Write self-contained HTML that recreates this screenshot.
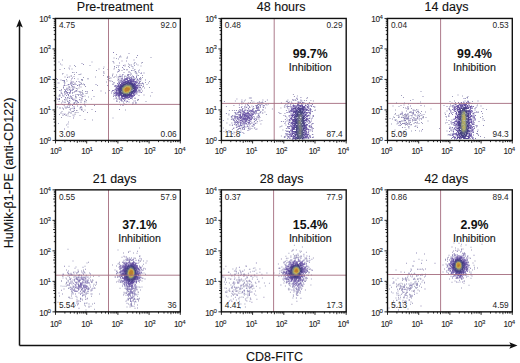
<!DOCTYPE html><html><head><meta charset="utf-8"><style>html,body{margin:0;padding:0;background:#fff}svg{display:block}</style></head><body>
<style>
text{font-family:"Liberation Sans",sans-serif}
.t{font-size:12.5px;fill:#111;stroke:#111;stroke-width:0.12px}
.q{font-size:8.3px;fill:#262626}
.b{font-size:12.3px;font-weight:bold;fill:#111}
.i{font-size:10.7px;fill:#1a1a1a;stroke:#1a1a1a;stroke-width:0.15px}
.k{font-size:8.2px;fill:#1e1e1e;stroke:#1e1e1e;stroke-width:0.1px;letter-spacing:-0.45px}
.s{font-size:6.1px;letter-spacing:0}
</style>
<svg width="520" height="363" viewBox="0 0 520 363" font-family='"Liberation Sans", sans-serif' fill="#222">
<defs><filter id="bl" x="-5%" y="-5%" width="110%" height="110%"><feGaussianBlur stdDeviation="0.6"/></filter></defs>
<rect width="520" height="363" fill="#fff"/>
<g filter="url(#bl)">
<path fill="#a0a0be" d="M137.5 99h1v1h-1zM135 102.4h1v1h-1zM140.5 79.4h1v1h-1zM107 85h1v1h-1zM137 100h1v1h-1zM113.5 98.4h1v1h-1zM140 79h1v1h-1zM135 71.4h1v1h-1zM103 75h1v1h-1zM103.5 66.4h1v1h-1zM135.5 71.4h1v1h-1zM107 77h1v1h-1zM116 58h1v1h-1zM129 67h1v1h-1zM120.5 56.4h1v1h-1zM134.5 69h1v1h-1zM140.5 65.4h1v1h-1zM109 78h1v1h-1zM126.5 58h1v1h-1zM125 109.4h1v1h-1zM135.5 103h1v1h-1zM116.5 76.4h1v1h-1zM112 74.4h1v1h-1zM110.5 77.4h1v1h-1zM146.5 84h1v1h-1zM118 69h1v1h-1zM112 75.4h1v1h-1zM142 62h1v1h-1zM116.5 65h1v1h-1zM120 104.4h1v1h-1zM119 70h1v1h-1zM120 55.4h1v1h-1zM150.5 57h1v1h-1zM118 58.4h1v1h-1zM112.5 117.4h1v1h-1zM126.5 57.4h1v1h-1zM135.5 73h1v1h-1zM139 69.4h1v1h-1zM91.5 61.4h1v1h-1zM145.5 101h1v1h-1zM103.5 73h1v1h-1zM134.5 62h1v1h-1zM134 65h1v1h-1zM129.5 64.4h1v1h-1zM139.5 78h1v1h-1zM118.5 69h1v1h-1zM107 76h1v1h-1zM145 82h1v1h-1zM114 67.4h1v1h-1zM113.5 57.4h1v1h-1zM150 95.4h1v1h-1zM108 62.4h1v1h-1zM106 81.4h1v1h-1zM134 62.4h1v1h-1zM149 87h1v1h-1zM127 56.4h1v1h-1zM128 63.4h1v1h-1zM132.5 68h1v1h-1zM132.5 66.4h1v1h-1zM113 61.4h1v1h-1zM148 82.4h1v1h-1zM133.5 63.4h1v1h-1zM103 71.4h1v1h-1zM149 81h1v1h-1zM107.5 69h1v1h-1zM138.5 72h1v1h-1zM80.5 73.4h1v1h-1zM80.5 106h1v1h-1zM79.5 74h1v1h-1zM66.5 87.4h1v1h-1zM62.5 115h1v1h-1zM76 72h1v1h-1zM79.5 115h1v1h-1zM64 81h1v1h-1zM71.5 68.4h1v1h-1zM56.5 87h1v1h-1zM85 91h1v1h-1zM62 80h1v1h-1zM79 84.4h1v1h-1zM66 107.4h1v1h-1zM73.5 84h1v1h-1zM69 68.4h1v1h-1zM65 107.4h1v1h-1zM63 108.4h1v1h-1zM73 103.4h1v1h-1zM81.5 92h1v1h-1zM58.5 101h1v1h-1zM66.5 74.4h1v1h-1zM67.5 76.4h1v1h-1zM91 98.4h1v1h-1zM64.5 99.4h1v1h-1zM75 66h1v1h-1zM82 79h1v1h-1zM64 104.4h1v1h-1zM64 68h1v1h-1zM83 83.4h1v1h-1zM66 79h1v1h-1zM61.5 111h1v1h-1zM79.5 84h1v1h-1zM85.5 93h1v1h-1zM96 70h1v1h-1zM85 86h1v1h-1zM64 80h1v1h-1zM74.5 87.4h1v1h-1zM77.5 78.4h1v1h-1zM75.5 96.4h1v1h-1zM72.5 86.4h1v1h-1zM87.5 78h1v1h-1zM86 100h1v1h-1zM70.5 113h1v1h-1zM77.5 112h1v1h-1zM81.5 80h1v1h-1zM85.5 101.4h1v1h-1zM60.5 112.4h1v1h-1zM77 101h1v1h-1zM73.5 72h1v1h-1zM97 85h1v1h-1zM78 95h1v1h-1zM62 73.4h1v1h-1zM64 91h1v1h-1zM70 104.4h1v1h-1zM81 98.4h1v1h-1zM81 109.4h1v1h-1zM95 76.4h1v1h-1zM74 65h1v1h-1zM74.5 104h1v1h-1zM70 83h1v1h-1zM61.5 64.4h1v1h-1zM88 96.4h1v1h-1zM84.5 100.4h1v1h-1zM68 121.4h1v1h-1zM62 59.4h1v1h-1zM84 102.4h1v1h-1zM83 77h1v1h-1zM68 104h1v1h-1zM63.5 81.4h1v1h-1zM72 111h1v1h-1zM73.5 109.4h1v1h-1zM67.5 126.4h1v1h-1zM82 90h1v1h-1zM84.5 109.4h1v1h-1zM68.5 107h1v1h-1zM72 72h1v1h-1zM89.5 65h1v1h-1zM57 106.4h1v1h-1zM82 80h1v1h-1zM57.5 99h1v1h-1zM70.5 82.4h1v1h-1zM58 123h1v1h-1zM82 109.4h1v1h-1zM74 102h1v1h-1zM66 124.4h1v1h-1zM82 92.4h1v1h-1zM80.5 82.4h1v1h-1zM71.5 83h1v1h-1zM79.5 108.4h1v1h-1zM77 88.4h1v1h-1zM68.5 92h1v1h-1zM92 119.4h1v1h-1zM64.5 82.4h1v1h-1zM75.5 84h1v1h-1zM76.5 110h1v1h-1zM82.5 93.4h1v1h-1z"/>
<path fill="#a09bbe" d="M125.5 76h1v1h-1zM112 81h1v1h-1zM142 77h1v1h-1zM131 64.4h1v1h-1zM108.5 76h1v1h-1zM136 63.4h1v1h-1zM116 54h1v1h-1zM135 100.4h1v1h-1zM143 83.4h1v1h-1zM109.5 80.4h1v1h-1zM130 72.4h1v1h-1zM72 92.4h1v1h-1zM71.5 98h1v1h-1zM85 99h1v1h-1zM76 81h1v1h-1zM74 110h1v1h-1zM67.5 115.4h1v1h-1zM57.5 82.4h1v1h-1zM70 83h1v1h-1zM56 97.4h1v1h-1zM56 78h1v1h-1zM65.5 85h1v1h-1zM87 91.4h1v1h-1z"/>
<path fill="#a09bb9" d="M119 101.4h1v1h-1zM123.5 103h1v1h-1zM142 86.4h1v1h-1zM141 62.4h1v1h-1zM129 64.4h1v1h-1zM137.5 64.4h1v1h-1zM128 66h1v1h-1zM123 68.4h1v1h-1zM103 68h1v1h-1zM138 75h1v1h-1zM98.5 68.4h1v1h-1zM126.5 69.4h1v1h-1zM121.5 70h1v1h-1zM136 57h1v1h-1zM114.5 76h1v1h-1zM142 75h1v1h-1zM68 112.4h1v1h-1zM66 114.4h1v1h-1zM72 86h1v1h-1zM71 111.4h1v1h-1zM81.5 91.4h1v1h-1zM83 111h1v1h-1zM74 74h1v1h-1zM74.5 91h1v1h-1zM69.5 116h1v1h-1zM74.5 112.4h1v1h-1zM71 75.4h1v1h-1zM61 117h1v1h-1zM74.5 114h1v1h-1zM78.5 74h1v1h-1zM69 102.4h1v1h-1zM62.5 95.4h1v1h-1zM76.5 94h1v1h-1zM59 114h1v1h-1zM61 102.4h1v1h-1zM76 110h1v1h-1zM73.5 76h1v1h-1zM75.5 112h1v1h-1zM60.5 112.4h1v1h-1zM61 89h1v1h-1zM77.5 104h1v1h-1zM59 107.4h1v1h-1zM64 89h1v1h-1zM62.5 73h1v1h-1zM62 100.4h1v1h-1zM60.5 92.4h1v1h-1zM72.5 92h1v1h-1zM86.5 93h1v1h-1zM71.5 89.4h1v1h-1zM68.5 104h1v1h-1zM66.5 80.4h1v1h-1z"/>
<path fill="#a096b9" d="M128 71.4h1v1h-1z"/>
<path fill="#9b96b9" d="M136.5 75h1v1h-1zM127 74.4h1v1h-1zM137.5 99.4h1v1h-1zM116 100.4h1v1h-1zM132 98.4h1v1h-1zM140.5 78h1v1h-1zM117.5 80h1v1h-1zM115.5 98h1v1h-1zM132.5 103h1v1h-1zM109 90h1v1h-1zM116 74.4h1v1h-1zM151.5 92h1v1h-1zM123.5 72h1v1h-1zM134.5 71.4h1v1h-1zM134 69.4h1v1h-1zM142 90.4h1v1h-1zM118.5 76.4h1v1h-1zM131 73.4h1v1h-1zM108 75.4h1v1h-1zM118.5 65h1v1h-1zM144 87.4h1v1h-1zM124 69h1v1h-1zM113.5 82.4h1v1h-1zM124.5 64.4h1v1h-1zM143 85.4h1v1h-1zM112.5 83.4h1v1h-1zM140 77h1v1h-1zM132 104h1v1h-1zM108 85.4h1v1h-1zM136.5 73.4h1v1h-1zM113.5 62.4h1v1h-1zM112.5 73.4h1v1h-1zM140 81h1v1h-1zM110.5 80.4h1v1h-1zM81 106.4h1v1h-1zM60 107.4h1v1h-1zM84.5 95.4h1v1h-1zM69 89h1v1h-1zM68 86.4h1v1h-1zM69 76.4h1v1h-1zM79.5 92h1v1h-1zM77 105.4h1v1h-1zM78.5 84.4h1v1h-1zM67 100.4h1v1h-1zM80.5 102h1v1h-1zM63 108.4h1v1h-1zM87.5 78.4h1v1h-1zM70.5 75.4h1v1h-1zM60.5 90.4h1v1h-1zM78.5 87.4h1v1h-1zM58.5 98.4h1v1h-1zM65.5 115h1v1h-1zM81.5 107.4h1v1h-1zM59 90h1v1h-1zM73 89h1v1h-1zM75 96h1v1h-1zM59 94.4h1v1h-1zM69.5 109h1v1h-1zM66 95h1v1h-1zM79.5 97h1v1h-1zM71 96.4h1v1h-1zM79.5 107.4h1v1h-1zM61.5 93h1v1h-1zM76 88h1v1h-1zM73.5 86h1v1h-1zM62 104h1v1h-1zM64 92h1v1h-1zM75 101.4h1v1h-1zM91.5 109h1v1h-1zM70.5 96h1v1h-1zM70.5 80.4h1v1h-1zM84 101h1v1h-1zM87 112h1v1h-1zM79 85.4h1v1h-1zM79 99h1v1h-1zM74 78h1v1h-1zM76.5 90.4h1v1h-1zM84.5 119h1v1h-1zM68.5 111.4h1v1h-1zM57 98.4h1v1h-1zM84 104.4h1v1h-1zM81.5 84h1v1h-1zM76 103.4h1v1h-1zM72.5 107.4h1v1h-1zM58.5 61.4h1v1h-1zM60 63.4h1v1h-1zM62 107.4h1v1h-1zM74 103h1v1h-1zM72.5 108h1v1h-1zM67.5 113.4h1v1h-1z"/>
<path fill="#9b91b9" d="M113.5 68.4h1v1h-1zM113.5 77h1v1h-1zM103.5 71.4h1v1h-1zM138.5 95h1v1h-1zM132.5 102h1v1h-1zM100.5 90.4h1v1h-1zM121.5 60.4h1v1h-1zM69.5 65.4h1v1h-1zM85 105.4h1v1h-1zM64 114h1v1h-1zM70 89.4h1v1h-1zM64.5 93h1v1h-1zM80.5 86.4h1v1h-1zM59.5 69h1v1h-1zM81.5 96.4h1v1h-1zM85 86h1v1h-1zM64 99h1v1h-1zM69 86.4h1v1h-1zM73.5 98.4h1v1h-1zM77 101.4h1v1h-1zM63 87h1v1h-1zM81.5 99.4h1v1h-1zM79.5 99.4h1v1h-1zM80 92.4h1v1h-1z"/>
<path fill="#9691b9" d="M143 86h1v1h-1zM134.5 98h1v1h-1zM113 96h1v1h-1zM143 83.4h1v1h-1zM126.5 69h1v1h-1zM107.5 79h1v1h-1zM117.5 78.4h1v1h-1zM124.5 65.4h1v1h-1zM117 71.4h1v1h-1zM128.5 53h1v1h-1zM127 74.4h1v1h-1zM108.5 80h1v1h-1zM112.5 61h1v1h-1zM109.5 77.4h1v1h-1zM105 92.4h1v1h-1zM132.5 70h1v1h-1zM114 66h1v1h-1zM118 76.4h1v1h-1zM138 99h1v1h-1zM116 67h1v1h-1zM67 101h1v1h-1zM79.5 82h1v1h-1zM69.5 112h1v1h-1zM74.5 82.4h1v1h-1zM59.5 95.4h1v1h-1zM80.5 100.4h1v1h-1zM73 84h1v1h-1zM81 83h1v1h-1zM73 81.4h1v1h-1zM81 79h1v1h-1zM76.5 102.4h1v1h-1zM71 98h1v1h-1zM84 84h1v1h-1zM63 80h1v1h-1zM93.5 96h1v1h-1zM72 97.4h1v1h-1zM81.5 63h1v1h-1zM63 85.4h1v1h-1zM68 102.4h1v1h-1zM69 102h1v1h-1zM80.5 94h1v1h-1zM78.5 91h1v1h-1zM82 96h1v1h-1zM73 111h1v1h-1zM67 77h1v1h-1zM67 97h1v1h-1zM69 105.4h1v1h-1zM69 98h1v1h-1zM68.5 107h1v1h-1zM58.5 82.4h1v1h-1zM61 97h1v1h-1zM65 97.4h1v1h-1zM64.5 101.4h1v1h-1zM65.5 89h1v1h-1zM59.5 94.4h1v1h-1zM69 92.4h1v1h-1zM69.5 93h1v1h-1zM78.5 91h1v1h-1zM84 84.4h1v1h-1zM70 109.4h1v1h-1zM95 111h1v1h-1zM72.5 114.4h1v1h-1zM94 105h1v1h-1zM58.5 95.4h1v1h-1zM65 91h1v1h-1zM68.5 67.4h1v1h-1zM64.5 76.4h1v1h-1zM65.5 91h1v1h-1z"/>
<path fill="#968cb9" d="M120.5 76h1v1h-1zM111 92.4h1v1h-1zM129 71.4h1v1h-1zM113.5 82h1v1h-1zM126 101.4h1v1h-1zM140.5 83.4h1v1h-1zM143.5 94.4h1v1h-1zM124 69h1v1h-1zM126 60.4h1v1h-1zM74 91.4h1v1h-1zM79.5 84h1v1h-1zM83.5 104h1v1h-1zM68.5 104h1v1h-1zM67.5 88h1v1h-1zM75 90.4h1v1h-1zM58 104h1v1h-1zM71.5 81.4h1v1h-1zM72 77.4h1v1h-1zM70.5 96.4h1v1h-1zM83 64h1v1h-1zM71 78.4h1v1h-1zM63.5 104.4h1v1h-1zM64 84.4h1v1h-1zM77.5 94h1v1h-1zM86.5 91h1v1h-1zM81.5 94.4h1v1h-1zM69.5 100.4h1v1h-1zM80 104h1v1h-1z"/>
<path fill="#918cb9" d="M139 83.4h1v1h-1zM136 76h1v1h-1zM131 70h1v1h-1zM118 66.4h1v1h-1zM119 56.4h1v1h-1zM137 55h1v1h-1zM131.5 66h1v1h-1zM122 76.4h1v1h-1zM69 86.4h1v1h-1zM75.5 97.4h1v1h-1zM76 100h1v1h-1zM65.5 99.4h1v1h-1zM64.5 102h1v1h-1zM75 100h1v1h-1zM67.5 97.4h1v1h-1zM72 89.4h1v1h-1zM68 101.4h1v1h-1zM71 98h1v1h-1zM66 95h1v1h-1zM68.5 96.4h1v1h-1zM70.5 97.4h1v1h-1zM60.5 90h1v1h-1zM72.5 88h1v1h-1zM57 79h1v1h-1zM67 106.4h1v1h-1zM95.5 84h1v1h-1z"/>
<path fill="#9187b9" d="M133.5 77h1v1h-1zM134.5 78h1v1h-1zM139 78h1v1h-1zM121.5 100.4h1v1h-1zM142 83h1v1h-1zM122 67h1v1h-1zM119 62.4h1v1h-1zM121.5 75.4h1v1h-1zM118 79h1v1h-1zM111.5 91h1v1h-1zM128.5 74h1v1h-1zM136 72.4h1v1h-1zM118.5 78.4h1v1h-1zM133.5 59.4h1v1h-1zM119 76h1v1h-1zM118 71h1v1h-1zM140 90.4h1v1h-1zM123 65h1v1h-1zM80 107h1v1h-1zM73.5 106h1v1h-1zM76 90h1v1h-1zM73 117.4h1v1h-1zM67 93.4h1v1h-1zM62.5 101.4h1v1h-1zM68 103h1v1h-1zM69 100h1v1h-1zM72 99h1v1h-1zM70.5 82h1v1h-1zM75 94.4h1v1h-1zM70.5 108h1v1h-1zM73.5 87h1v1h-1zM76 90.4h1v1h-1zM66.5 92.4h1v1h-1zM69.5 103.4h1v1h-1zM67.5 123.4h1v1h-1zM82.5 93.4h1v1h-1zM92 90h1v1h-1zM72.5 95h1v1h-1zM69.5 87.4h1v1h-1zM63.5 95.4h1v1h-1zM65.5 92.4h1v1h-1zM64.5 94h1v1h-1zM68 94h1v1h-1zM66 88.4h1v1h-1z"/>
<path fill="#8c87b9" d="M131 98h1v1h-1zM135 71h1v1h-1zM145 79.4h1v1h-1zM124.5 75.4h1v1h-1zM124 76.4h1v1h-1zM112.5 84h1v1h-1zM122 74.4h1v1h-1zM142 82.4h1v1h-1zM119 109h1v1h-1zM140.5 73h1v1h-1zM118.5 70.4h1v1h-1zM68 95h1v1h-1zM73.5 115.4h1v1h-1zM78.5 94h1v1h-1zM71.5 90h1v1h-1zM72 92.4h1v1h-1zM72.5 89h1v1h-1zM70 90h1v1h-1zM71.5 84.4h1v1h-1zM64 82.4h1v1h-1zM64 128.4h1v1h-1zM67.5 104.4h1v1h-1z"/>
<path fill="#8c82b9" d="M136 77h1v1h-1zM141 88.4h1v1h-1zM119.5 80h1v1h-1zM115 95.4h1v1h-1zM141 92h1v1h-1zM141.5 83h1v1h-1zM121 100h1v1h-1zM113 94.4h1v1h-1zM114 85.4h1v1h-1zM113.5 93h1v1h-1zM125.5 104h1v1h-1zM137 78.4h1v1h-1zM138.5 81.4h1v1h-1zM116.5 99.4h1v1h-1zM122.5 105h1v1h-1zM135.5 102h1v1h-1zM141 85h1v1h-1zM115 85h1v1h-1zM113.5 93h1v1h-1zM120.5 77.4h1v1h-1zM141 72.4h1v1h-1zM143.5 72.4h1v1h-1zM128.5 101.4h1v1h-1zM133 77.4h1v1h-1zM138 70.4h1v1h-1zM69 92.4h1v1h-1zM66 91h1v1h-1zM73 84h1v1h-1zM78.5 81h1v1h-1zM64.5 106.4h1v1h-1zM70 91.4h1v1h-1zM70 95.4h1v1h-1zM74.5 99.4h1v1h-1zM65 97h1v1h-1zM81 109h1v1h-1zM73.5 102.4h1v1h-1zM63 87.4h1v1h-1zM71.5 83.4h1v1h-1zM64.5 113.4h1v1h-1zM81.5 98h1v1h-1zM69.5 84h1v1h-1zM72 105h1v1h-1zM78 102h1v1h-1zM65 90h1v1h-1zM80.5 95h1v1h-1zM60.5 79.4h1v1h-1zM59 98h1v1h-1z"/>
<path fill="#8c82b4" d="M138.5 90.4h1v1h-1zM115.5 85h1v1h-1z"/>
<path fill="#8782b4" d="M130.5 77h1v1h-1zM123 101.4h1v1h-1zM132 75.4h1v1h-1zM79.5 91h1v1h-1zM75.5 96.4h1v1h-1z"/>
<path fill="#877db4" d="M126.5 100.4h1v1h-1zM115 85.4h1v1h-1zM112 90h1v1h-1zM124.5 100.4h1v1h-1zM117.5 98.4h1v1h-1zM133.5 100.4h1v1h-1zM128.5 99h1v1h-1zM116.5 101h1v1h-1zM114.5 91h1v1h-1zM115.5 96.4h1v1h-1zM139 82.4h1v1h-1zM138.5 87h1v1h-1zM138 83h1v1h-1zM134.5 97.4h1v1h-1zM135.5 78.4h1v1h-1zM139 81.4h1v1h-1zM128 74h1v1h-1zM139 90.4h1v1h-1zM139.5 92h1v1h-1zM128.5 76h1v1h-1zM116.5 85h1v1h-1zM113 90h1v1h-1zM114.5 93h1v1h-1zM140 87h1v1h-1zM121 79.4h1v1h-1zM122.5 74h1v1h-1zM139.5 79h1v1h-1zM120 76h1v1h-1zM139.5 86.4h1v1h-1zM137.5 80h1v1h-1zM131 76.4h1v1h-1zM120.5 79.4h1v1h-1zM138.5 85h1v1h-1zM130 74.4h1v1h-1zM113 52h1v1h-1zM119.5 74.4h1v1h-1zM70 91h1v1h-1zM71.5 86.4h1v1h-1zM73 99.4h1v1h-1zM68 84h1v1h-1zM67 89.4h1v1h-1zM66.5 98.4h1v1h-1zM66.5 106.4h1v1h-1zM61 92.4h1v1h-1zM68.5 89.4h1v1h-1zM71 85h1v1h-1zM59 99h1v1h-1zM76.5 100.4h1v1h-1zM67.5 84.4h1v1h-1zM62 94.4h1v1h-1zM82.5 96h1v1h-1zM74 107.4h1v1h-1zM71.5 81.4h1v1h-1zM62.5 113.4h1v1h-1zM66.5 92h1v1h-1z"/>
<path fill="#8778b4" d="M118.5 82.4h1v1h-1zM133 76h1v1h-1zM127 101h1v1h-1zM119.5 99h1v1h-1zM114.5 86h1v1h-1zM121.5 100.4h1v1h-1zM122 78.4h1v1h-1zM127.5 75.4h1v1h-1zM114.5 89.4h1v1h-1zM139.5 83h1v1h-1zM69.5 92h1v1h-1zM64 85h1v1h-1z"/>
<path fill="#8278b4" d="M124 79h1v1h-1zM139.5 88.4h1v1h-1zM130.5 98h1v1h-1zM127 77.4h1v1h-1zM126.5 77.4h1v1h-1zM120.5 99.4h1v1h-1zM113.5 92h1v1h-1zM114.5 95h1v1h-1zM126.5 77h1v1h-1zM136.5 93.4h1v1h-1zM120.5 100h1v1h-1zM128.5 77h1v1h-1zM138.5 79.4h1v1h-1zM139.5 85h1v1h-1zM139.5 87h1v1h-1zM74 108h1v1h-1zM67 92h1v1h-1zM64 80.4h1v1h-1zM77 85h1v1h-1z"/>
<path fill="#8273b4" d="M127.5 75h1v1h-1zM137 81.4h1v1h-1zM126 78h1v1h-1zM117 83h1v1h-1zM121 99h1v1h-1zM118.5 97.4h1v1h-1zM134 79h1v1h-1zM118 81.4h1v1h-1zM135 93.4h1v1h-1zM114.5 94.4h1v1h-1zM125.5 79h1v1h-1zM114.5 89.4h1v1h-1zM130 98h1v1h-1zM121.5 78.4h1v1h-1zM130 77.4h1v1h-1zM119 98.4h1v1h-1zM131.5 77.4h1v1h-1zM136 80.4h1v1h-1zM139 81.4h1v1h-1zM75.5 100.4h1v1h-1zM74.5 83.4h1v1h-1z"/>
<path fill="#7d73af" d="M137 79h1v1h-1zM125 79h1v1h-1zM131 78h1v1h-1zM115.5 93.4h1v1h-1zM138.5 89.4h1v1h-1z"/>
<path fill="#7d6eaf" d="M115.5 94.4h1v1h-1zM117.5 84.4h1v1h-1zM120.5 98h1v1h-1zM124 100h1v1h-1zM131.5 97h1v1h-1zM136.5 82h1v1h-1zM115.5 88.4h1v1h-1zM116 97.4h1v1h-1zM115 88.4h1v1h-1zM133 79.4h1v1h-1zM123.5 80h1v1h-1zM138.5 90h1v1h-1zM126.5 78h1v1h-1zM133 79h1v1h-1zM123.5 99h1v1h-1zM122.5 98.4h1v1h-1zM135 81h1v1h-1zM116.5 86h1v1h-1zM127 77.4h1v1h-1zM114 93h1v1h-1zM133 95.4h1v1h-1zM138.5 86.4h1v1h-1zM125.5 78h1v1h-1zM134 79h1v1h-1zM128.5 77.4h1v1h-1zM116.5 88.4h1v1h-1zM121 80.4h1v1h-1z"/>
<path fill="#7d69af" d="M138.5 85h1v1h-1zM126 79h1v1h-1zM131.5 97h1v1h-1zM132 96h1v1h-1zM125 98.4h1v1h-1zM122 98h1v1h-1zM116 95h1v1h-1zM136.5 90.4h1v1h-1zM118.5 96.4h1v1h-1zM121.5 78h1v1h-1zM124.5 79.4h1v1h-1zM138.5 85h1v1h-1zM137.5 91.4h1v1h-1z"/>
<path fill="#7869af" d="M119.5 82h1v1h-1zM124.5 80h1v1h-1zM129 78.4h1v1h-1zM131 96h1v1h-1zM116 94h1v1h-1zM132.5 96h1v1h-1zM122.5 81.4h1v1h-1zM124.5 78.4h1v1h-1zM129 78h1v1h-1zM133.5 79h1v1h-1zM116.5 87h1v1h-1zM124.5 79.4h1v1h-1zM130.5 79h1v1h-1zM122.5 80.4h1v1h-1zM137.5 84h1v1h-1zM131.5 96h1v1h-1zM116 93.4h1v1h-1zM116 93h1v1h-1zM115 92h1v1h-1zM116.5 94h1v1h-1zM136 91.4h1v1h-1zM120.5 80.4h1v1h-1zM116.5 94.4h1v1h-1zM136.5 91.4h1v1h-1zM119 96.4h1v1h-1zM134 95h1v1h-1zM131.5 78.4h1v1h-1zM122 81h1v1h-1zM116.5 87h1v1h-1zM123 79.4h1v1h-1zM119.5 81.4h1v1h-1zM126 78.4h1v1h-1z"/>
<path fill="#7864af" d="M137.5 86h1v1h-1zM136 81.4h1v1h-1zM133.5 95h1v1h-1zM115.5 93h1v1h-1zM133 80h1v1h-1zM121.5 80.4h1v1h-1zM130 98h1v1h-1zM119 83h1v1h-1zM116.5 87.4h1v1h-1zM118.5 84.4h1v1h-1zM116.5 88h1v1h-1zM116 90.4h1v1h-1zM119.5 81.4h1v1h-1zM131.5 79.4h1v1h-1zM115.5 86.4h1v1h-1zM126.5 79h1v1h-1zM131.5 79h1v1h-1zM126 79h1v1h-1zM127.5 78h1v1h-1zM127 79.4h1v1h-1z"/>
<path fill="#7864aa" d="M136 92.4h1v1h-1zM118 84.4h1v1h-1z"/>
<path fill="#7364aa" d="M117.5 86h1v1h-1zM118.5 83.4h1v1h-1zM124 98h1v1h-1zM118 85h1v1h-1zM133 80h1v1h-1zM116.5 89.4h1v1h-1zM133 79.4h1v1h-1z"/>
<path fill="#735faa" d="M130.5 96h1v1h-1zM134.5 81.4h1v1h-1zM134.5 81h1v1h-1zM135.5 82.4h1v1h-1zM137.5 88.4h1v1h-1zM117 86h1v1h-1zM116 87.4h1v1h-1zM124 80h1v1h-1zM129 96.4h1v1h-1zM117.5 94h1v1h-1zM122 98h1v1h-1zM136.5 82.4h1v1h-1zM124.5 78h1v1h-1zM126.5 97.4h1v1h-1zM129.5 96.4h1v1h-1zM126.5 79h1v1h-1zM137 88h1v1h-1zM121 82.4h1v1h-1zM135.5 82h1v1h-1zM116 91.4h1v1h-1zM132 95.4h1v1h-1zM118.5 96h1v1h-1zM127.5 97.4h1v1h-1zM118 95h1v1h-1zM132.5 95h1v1h-1zM131.5 79h1v1h-1zM123 98h1v1h-1zM126 78.4h1v1h-1zM134 94.4h1v1h-1z"/>
<path fill="#735aaa" d="M125.5 97.4h1v1h-1zM128.5 97h1v1h-1zM125 97.4h1v1h-1zM129.5 97h1v1h-1zM126.5 97.4h1v1h-1zM115.5 89h1v1h-1zM137 87h1v1h-1z"/>
<path fill="#6e5aaa" d="M130 79h1v1h-1zM133 81h1v1h-1zM122 98h1v1h-1zM134.5 81h1v1h-1zM116 92h1v1h-1zM131 80.4h1v1h-1zM116.5 90h1v1h-1zM118.5 84.4h1v1h-1zM135 91.4h1v1h-1zM118 86h1v1h-1zM120.5 97.4h1v1h-1zM134 80.4h1v1h-1zM129.5 79h1v1h-1zM137 87h1v1h-1zM116.5 93.4h1v1h-1zM131.5 80h1v1h-1zM128 80h1v1h-1zM127.5 97.4h1v1h-1zM130 80h1v1h-1zM128 80.4h1v1h-1zM117 88h1v1h-1zM116 93h1v1h-1zM137 85h1v1h-1zM117.5 95.4h1v1h-1zM127 79.4h1v1h-1zM137 85h1v1h-1zM119 95h1v1h-1zM134.5 91.4h1v1h-1z"/>
<path fill="#6e5aa5" d="M126 97h1v1h-1zM136.5 87.4h1v1h-1zM136 90h1v1h-1zM132.5 80h1v1h-1zM128 96.4h1v1h-1zM132 95h1v1h-1zM131 96h1v1h-1z"/>
<path fill="#6e55a5" d="M117.5 94.4h1v1h-1zM116.5 92h1v1h-1zM122 96.4h1v1h-1z"/>
<path fill="#6955a5" d="M133 81.4h1v1h-1zM135 90.4h1v1h-1zM133.5 94h1v1h-1zM135 91.4h1v1h-1zM118.5 85h1v1h-1zM121.5 97h1v1h-1zM136.5 85.4h1v1h-1zM128.5 96.4h1v1h-1zM126.5 80.4h1v1h-1zM136 88.4h1v1h-1zM134 92.4h1v1h-1zM136 90.4h1v1h-1zM122.5 82h1v1h-1zM136 89.4h1v1h-1zM131 80.4h1v1h-1zM135.5 85h1v1h-1zM128 97h1v1h-1zM127.5 97h1v1h-1zM117.5 92.4h1v1h-1zM136 85.4h1v1h-1zM121.5 82.4h1v1h-1zM131 95h1v1h-1zM136 87h1v1h-1zM117 93h1v1h-1zM134.5 82h1v1h-1zM118 95h1v1h-1zM127 80.4h1v1h-1zM135 83.4h1v1h-1zM129 96h1v1h-1zM133 93.4h1v1h-1zM135 90h1v1h-1zM123.5 81h1v1h-1zM118 95h1v1h-1zM135 83.4h1v1h-1zM118.5 85.4h1v1h-1zM135.5 89h1v1h-1zM116.5 91h1v1h-1zM129 80h1v1h-1zM121 82.4h1v1h-1z"/>
<path fill="#6955a0" d="M136 89h1v1h-1zM131.5 81h1v1h-1zM124.5 81h1v1h-1zM135.5 83.4h1v1h-1z"/>
<path fill="#6455a0" d="M119.5 95h1v1h-1z"/>
<path fill="#6450a0" d="M118 88.4h1v1h-1zM136 87h1v1h-1zM118.5 86.4h1v1h-1zM118 87.4h1v1h-1zM127 80.4h1v1h-1zM118.5 94h1v1h-1zM124 82h1v1h-1zM118 92.4h1v1h-1zM124.5 97h1v1h-1zM124 96.4h1v1h-1zM133 93h1v1h-1zM136 87.4h1v1h-1zM127 96h1v1h-1zM118.5 92.4h1v1h-1zM116 90h1v1h-1zM136 85.4h1v1h-1zM135 84h1v1h-1zM124.5 97h1v1h-1zM135.5 88.4h1v1h-1zM117.5 89.4h1v1h-1zM136 85.4h1v1h-1zM131 81.4h1v1h-1zM120 84h1v1h-1zM136 85h1v1h-1zM122 83h1v1h-1zM125 97h1v1h-1zM127.5 81h1v1h-1zM120 85h1v1h-1zM117.5 92h1v1h-1zM119 95h1v1h-1zM125 81h1v1h-1zM130.5 81.4h1v1h-1zM120 84h1v1h-1zM136 87.4h1v1h-1zM131 80.4h1v1h-1zM135 86h1v1h-1zM131.5 81h1v1h-1zM118.5 86.4h1v1h-1zM127.5 81h1v1h-1zM118 94.4h1v1h-1zM136 87h1v1h-1zM117.5 89h1v1h-1zM126 81h1v1h-1zM121 83h1v1h-1zM133.5 91.4h1v1h-1zM133.5 92.4h1v1h-1zM127 96.4h1v1h-1zM118 88h1v1h-1zM122 83h1v1h-1zM128 81h1v1h-1z"/>
<path fill="#5f50a0" d="M135 89.4h1v1h-1zM132.5 81.4h1v1h-1zM125.5 81h1v1h-1zM118.5 93h1v1h-1zM135 90h1v1h-1zM136 87h1v1h-1zM126 81h1v1h-1zM120.5 84.4h1v1h-1z"/>
<path fill="#5f4ba0" d="M135.5 89h1v1h-1zM119.5 86h1v1h-1zM128 80.4h1v1h-1z"/>
<path fill="#5f4b9b" d="M131 81h1v1h-1zM121.5 96h1v1h-1zM118.5 88h1v1h-1zM134.5 84.4h1v1h-1zM122.5 83h1v1h-1zM126 96.4h1v1h-1zM131.5 81.4h1v1h-1zM122 83.4h1v1h-1zM126 96.4h1v1h-1zM123 82h1v1h-1zM129.5 95.4h1v1h-1zM134 84h1v1h-1zM134 91h1v1h-1zM118 88h1v1h-1zM130 80.4h1v1h-1zM123.5 96h1v1h-1zM119 94h1v1h-1zM128.5 81h1v1h-1zM130.5 81.4h1v1h-1zM119.5 86h1v1h-1zM117.5 89.4h1v1h-1zM130 95h1v1h-1zM132 81.4h1v1h-1zM120.5 95h1v1h-1zM128.5 81h1v1h-1zM135.5 88.4h1v1h-1zM130.5 81h1v1h-1zM129 95h1v1h-1zM128 81.4h1v1h-1zM130.5 94.4h1v1h-1zM135 84.4h1v1h-1z"/>
<path fill="#5a4b9b" d="M134.5 87h1v1h-1zM124.5 82.4h1v1h-1zM126 96h1v1h-1zM118 89.4h1v1h-1zM123.5 96.4h1v1h-1zM118 88.4h1v1h-1zM130 81h1v1h-1zM135 86h1v1h-1zM126.5 81.4h1v1h-1zM118.5 92.4h1v1h-1zM133.5 83h1v1h-1zM134 92h1v1h-1zM130.5 95.4h1v1h-1zM134 83h1v1h-1zM118 89h1v1h-1z"/>
<path fill="#5a469b" d="M123.5 96h1v1h-1zM122.5 96h1v1h-1zM118.5 88h1v1h-1zM134.5 88.4h1v1h-1zM129.5 81.4h1v1h-1zM120 85.4h1v1h-1zM128 81h1v1h-1zM121 96.4h1v1h-1zM132.5 93h1v1h-1zM118 90.4h1v1h-1zM120.5 84.4h1v1h-1zM124 82h1v1h-1zM127 95.4h1v1h-1zM121.5 84.4h1v1h-1zM120.5 85.4h1v1h-1zM118.5 90.4h1v1h-1zM135 87.4h1v1h-1zM123.5 96h1v1h-1zM118.5 93h1v1h-1zM125 82h1v1h-1zM135.5 86.4h1v1h-1z"/>
<path fill="#5a4696" d="M122 95.4h1v1h-1zM135 89h1v1h-1zM123 95.4h1v1h-1zM134 90h1v1h-1zM118 90.4h1v1h-1z"/>
<path fill="#554696" d="M120 94h1v1h-1zM134 85h1v1h-1zM122 95.4h1v1h-1zM130.5 82h1v1h-1zM121 84.4h1v1h-1zM120 86.4h1v1h-1zM134.5 90h1v1h-1zM122.5 83.4h1v1h-1zM135 87h1v1h-1zM121 95h1v1h-1zM119 93h1v1h-1zM125.5 81.4h1v1h-1zM133 83.4h1v1h-1zM134.5 84h1v1h-1zM133.5 84h1v1h-1zM134.5 87.4h1v1h-1zM123.5 82.4h1v1h-1zM133.5 83.4h1v1h-1zM134.5 91h1v1h-1zM124 82.4h1v1h-1zM119 93h1v1h-1zM131.5 93.4h1v1h-1zM134.5 87.4h1v1h-1zM130.5 94h1v1h-1zM134.5 90h1v1h-1zM132.5 83.4h1v1h-1zM124 96h1v1h-1zM119 87h1v1h-1zM119.5 93h1v1h-1zM119 91h1v1h-1zM119.5 86h1v1h-1zM133 83.4h1v1h-1zM126.5 82h1v1h-1zM127 81.4h1v1h-1zM134.5 88.4h1v1h-1z"/>
<path fill="#554196" d="M121.5 84.4h1v1h-1zM133.5 84h1v1h-1zM134 84.4h1v1h-1zM120 86h1v1h-1zM119 88h1v1h-1zM134.5 85.4h1v1h-1zM118.5 88.4h1v1h-1zM134 85.4h1v1h-1zM130.5 82h1v1h-1zM133.5 84.4h1v1h-1z"/>
<path fill="#554191" d="M125 96h1v1h-1zM119 90h1v1h-1zM119.5 88h1v1h-1zM134 88.4h1v1h-1zM119 90.4h1v1h-1zM132 83h1v1h-1zM129.5 94.4h1v1h-1zM128 94.4h1v1h-1zM120.5 85h1v1h-1zM119.5 88h1v1h-1zM134 90h1v1h-1zM120 93.4h1v1h-1zM130.5 94.4h1v1h-1zM121.5 96h1v1h-1zM128.5 95.4h1v1h-1zM134.5 88h1v1h-1zM123 95.4h1v1h-1zM128.5 95h1v1h-1z"/>
<path fill="#504191" d="M128 82.4h1v1h-1zM131 93h1v1h-1zM120.5 94h1v1h-1zM129.5 94.4h1v1h-1zM128 95h1v1h-1zM134.5 89h1v1h-1zM134 85.4h1v1h-1zM133.5 85.4h1v1h-1zM126.5 95h1v1h-1zM134.5 87h1v1h-1zM133.5 86h1v1h-1zM128.5 81.4h1v1h-1zM131 83h1v1h-1zM132.5 91.4h1v1h-1zM129.5 82h1v1h-1zM134.5 88.4h1v1h-1zM119 89.4h1v1h-1zM124 95.4h1v1h-1zM133 90h1v1h-1zM132 92h1v1h-1zM130.5 93.4h1v1h-1zM133.5 89.4h1v1h-1zM134 87h1v1h-1zM119.5 90.4h1v1h-1zM119 89h1v1h-1zM124 83.4h1v1h-1zM120.5 94h1v1h-1zM120 93.4h1v1h-1zM133 84h1v1h-1zM133.5 89.4h1v1h-1zM119.5 92h1v1h-1zM130.5 94h1v1h-1zM120.5 86h1v1h-1zM120.5 86h1v1h-1zM125 82.4h1v1h-1z"/>
<path fill="#50418c" d="M133 91h1v1h-1zM120 93h1v1h-1zM133 85.4h1v1h-1zM121.5 95h1v1h-1zM129 82.4h1v1h-1zM119.5 90.4h1v1h-1zM122 94.4h1v1h-1zM120.5 93.4h1v1h-1zM126.5 95h1v1h-1zM119.5 87.4h1v1h-1zM134 87.4h1v1h-1zM132 83.4h1v1h-1zM126 95h1v1h-1zM123 83.4h1v1h-1zM133.5 86h1v1h-1zM119.5 92.4h1v1h-1zM128 95h1v1h-1zM129.5 82.4h1v1h-1zM131 83h1v1h-1zM127 82.4h1v1h-1zM120.5 86h1v1h-1zM125 95h1v1h-1zM127 95.4h1v1h-1zM121.5 85.4h1v1h-1zM132.5 92h1v1h-1zM134 86.4h1v1h-1zM130 93.4h1v1h-1zM119 90h1v1h-1zM119 90.4h1v1h-1zM134.5 87h1v1h-1z"/>
<path fill="#4b418c" d="M134 88.4h1v1h-1zM133 85.4h1v1h-1zM130.5 93h1v1h-1zM121 85.4h1v1h-1zM125.5 82.4h1v1h-1zM120.5 93.4h1v1h-1zM121 86h1v1h-1zM133 84.4h1v1h-1zM131 83h1v1h-1zM122.5 84.4h1v1h-1zM131.5 92.4h1v1h-1zM134 88h1v1h-1zM127.5 82.4h1v1h-1zM120 87h1v1h-1zM121 93.4h1v1h-1zM131 83.4h1v1h-1zM132.5 84h1v1h-1zM127.5 95h1v1h-1zM126 83h1v1h-1zM128 82h1v1h-1zM127 82.4h1v1h-1zM130 83h1v1h-1zM124 94.4h1v1h-1zM131.5 92h1v1h-1zM127.5 94.4h1v1h-1zM133.5 86.4h1v1h-1zM120 92h1v1h-1zM133.5 89h1v1h-1zM120 88.4h1v1h-1zM123.5 95h1v1h-1zM130 82.4h1v1h-1z"/>
<path fill="#4b4187" d="M120.5 93.4h1v1h-1zM123.5 84h1v1h-1zM124.5 83.4h1v1h-1zM119 92h1v1h-1zM126 95h1v1h-1zM120 92.4h1v1h-1zM130.5 83h1v1h-1zM123.5 94.4h1v1h-1zM123 84h1v1h-1zM122 85.4h1v1h-1zM127 82.4h1v1h-1zM121 93.4h1v1h-1zM121 87h1v1h-1zM133 86h1v1h-1zM133.5 88h1v1h-1zM134 87h1v1h-1zM119.5 89.4h1v1h-1zM128 94h1v1h-1zM129 82.4h1v1h-1zM121 93.4h1v1h-1zM131 83.4h1v1h-1zM122.5 84.4h1v1h-1zM120 87.4h1v1h-1zM119.5 91h1v1h-1zM129 94h1v1h-1zM132.5 91h1v1h-1zM131 83h1v1h-1zM126.5 94.4h1v1h-1zM119.5 88.4h1v1h-1zM129 94h1v1h-1zM123 95h1v1h-1zM123.5 84h1v1h-1z"/>
<path fill="#464187" d="M130.5 83h1v1h-1zM131.5 92.4h1v1h-1zM123 85h1v1h-1zM121 86.4h1v1h-1zM130.5 83h1v1h-1zM130.5 84h1v1h-1zM120 91h1v1h-1zM123 94h1v1h-1zM120.5 87h1v1h-1zM124.5 84h1v1h-1zM131 84h1v1h-1zM123.5 84.4h1v1h-1zM123.5 94.4h1v1h-1zM121.5 85.4h1v1h-1zM132.5 85h1v1h-1zM122.5 85h1v1h-1zM132 85h1v1h-1zM120 88h1v1h-1zM120 91.4h1v1h-1zM124 94.4h1v1h-1z"/>
<path fill="#464182" d="M123 94.4h1v1h-1z"/>
<path fill="#463c82" d="M123 94h1v1h-1zM120.5 92h1v1h-1zM121.5 93h1v1h-1zM133 90h1v1h-1zM131.5 91h1v1h-1zM120.5 88h1v1h-1zM125 94h1v1h-1zM132 85h1v1h-1zM120 88.4h1v1h-1zM120.5 92h1v1h-1zM128.5 94h1v1h-1zM133 85h1v1h-1zM124 84h1v1h-1zM130.5 92h1v1h-1zM128.5 83h1v1h-1zM133 88h1v1h-1zM124.5 84h1v1h-1zM129 93h1v1h-1zM123.5 94.4h1v1h-1zM128.5 83h1v1h-1zM121.5 86.4h1v1h-1zM126.5 83h1v1h-1zM120.5 91.4h1v1h-1zM125 83.4h1v1h-1zM125 94.4h1v1h-1zM120.5 86.4h1v1h-1zM127 94.4h1v1h-1zM132.5 86.4h1v1h-1zM133 85.4h1v1h-1zM132 84h1v1h-1zM123.5 94h1v1h-1zM132.5 87h1v1h-1zM133 86.4h1v1h-1zM126 83h1v1h-1zM131.5 84.4h1v1h-1zM132 84.4h1v1h-1zM133 85h1v1h-1zM120 89h1v1h-1z"/>
<path fill="#413c82" d="M132.5 85.4h1v1h-1zM120.5 90h1v1h-1zM120.5 91h1v1h-1zM126.5 94h1v1h-1zM125 94.4h1v1h-1zM122 86h1v1h-1zM132 91h1v1h-1z"/>
<path fill="#413c7d" d="M126 83.4h1v1h-1zM125 84h1v1h-1zM129 84h1v1h-1zM131 91h1v1h-1zM132.5 88h1v1h-1zM120.5 88h1v1h-1zM129.5 83h1v1h-1zM120.5 92h1v1h-1zM124.5 94h1v1h-1zM131 91.4h1v1h-1zM132.5 86h1v1h-1zM125 93.4h1v1h-1zM130 92h1v1h-1zM121 88h1v1h-1zM125.5 94.4h1v1h-1zM132.5 86h1v1h-1zM121.5 92h1v1h-1zM127.5 83.4h1v1h-1zM123.5 84.4h1v1h-1zM131.5 90.4h1v1h-1zM129 83.4h1v1h-1zM120 90.4h1v1h-1zM122.5 93h1v1h-1zM125.5 94h1v1h-1zM126 83.4h1v1h-1z"/>
<path fill="#41417d" d="M130 92h1v1h-1zM132.5 87h1v1h-1zM122 86.4h1v1h-1zM121 92.4h1v1h-1zM121.5 92.4h1v1h-1zM132.5 87.4h1v1h-1z"/>
<path fill="#46417d" d="M130.5 92h1v1h-1zM120.5 90h1v1h-1zM124.5 94h1v1h-1zM128 94h1v1h-1zM124 84.4h1v1h-1z"/>
<path fill="#46467d" d="M131.5 86h1v1h-1zM126 94h1v1h-1zM122 93h1v1h-1zM125 84.4h1v1h-1zM130 84h1v1h-1zM131.5 85h1v1h-1zM129 83.4h1v1h-1z"/>
<path fill="#4b467d" d="M122 92.4h1v1h-1zM132 86h1v1h-1zM123.5 94h1v1h-1zM129.5 84h1v1h-1z"/>
<path fill="#4b4b7d" d="M121 88.4h1v1h-1zM125.5 84h1v1h-1zM122 87h1v1h-1zM132 87h1v1h-1zM126.5 94h1v1h-1z"/>
<path fill="#4b4b82" d="M121 90h1v1h-1zM121.5 87.4h1v1h-1zM125.5 93.4h1v1h-1zM128.5 84h1v1h-1zM127.5 93.4h1v1h-1z"/>
<path fill="#504b82" d="M128.5 84h1v1h-1zM127.5 83.4h1v1h-1zM125 84h1v1h-1z"/>
<path fill="#505082" d="M123.5 93h1v1h-1zM124.5 85h1v1h-1zM122 92h1v1h-1zM132 87h1v1h-1zM131 86.4h1v1h-1zM121.5 87.4h1v1h-1zM131.5 88.4h1v1h-1zM121 89h1v1h-1zM123 86h1v1h-1zM124 85.4h1v1h-1zM128.5 93h1v1h-1zM128.5 84h1v1h-1zM121.5 88.4h1v1h-1zM128 84h1v1h-1zM129.5 85h1v1h-1zM121.5 91.4h1v1h-1zM129.5 92h1v1h-1zM121.5 90h1v1h-1z"/>
<path fill="#555582" d="M131.5 89.4h1v1h-1zM126 94h1v1h-1zM130.5 91.4h1v1h-1zM129.5 84.4h1v1h-1zM128 84.4h1v1h-1zM123 86h1v1h-1zM124.5 85.4h1v1h-1zM131.5 86.4h1v1h-1zM122.5 91h1v1h-1zM131 85h1v1h-1zM123 93h1v1h-1z"/>
<path fill="#555a82" d="M129.5 84.4h1v1h-1zM122 88h1v1h-1zM132 87.4h1v1h-1zM125 85h1v1h-1z"/>
<path fill="#5a5a82" d="M123 92h1v1h-1zM123.5 85.4h1v1h-1zM122.5 87h1v1h-1zM127.5 84.4h1v1h-1zM131 85h1v1h-1zM122 89.4h1v1h-1zM122.5 87.4h1v1h-1zM127 84h1v1h-1zM127.5 84.4h1v1h-1z"/>
<path fill="#5a5f82" d="M123.5 86h1v1h-1zM128 84.4h1v1h-1zM126.5 84.4h1v1h-1z"/>
<path fill="#5f5f82" d="M122 87h1v1h-1zM130.5 91h1v1h-1zM129 92.4h1v1h-1z"/>
<path fill="#5f5f87" d="M131.5 88.4h1v1h-1zM122 88h1v1h-1zM131.5 89.4h1v1h-1zM130.5 86h1v1h-1z"/>
<path fill="#5f6487" d="M122 88h1v1h-1zM123.5 93h1v1h-1zM131 87h1v1h-1zM123.5 86h1v1h-1zM127.5 85h1v1h-1zM129.5 84.4h1v1h-1zM126.5 85h1v1h-1zM130.5 85.4h1v1h-1zM122 89.4h1v1h-1zM123 92.4h1v1h-1zM125.5 85h1v1h-1zM121.5 92h1v1h-1zM127.5 84.4h1v1h-1zM126 93.4h1v1h-1zM124 93h1v1h-1zM130 85.4h1v1h-1z"/>
<path fill="#646487" d="M126.5 93h1v1h-1zM130 85h1v1h-1zM122 88.4h1v1h-1zM129.5 85h1v1h-1z"/>
<path fill="#646987" d="M122 90h1v1h-1zM128.5 84.4h1v1h-1zM123.5 93h1v1h-1zM128.5 84.4h1v1h-1zM123 92h1v1h-1zM122.5 90.4h1v1h-1zM131 87.4h1v1h-1zM128.5 85h1v1h-1zM122.5 88h1v1h-1z"/>
<path fill="#696982" d="M130.5 85.4h1v1h-1z"/>
<path fill="#696e82" d="M131.5 89.4h1v1h-1zM126.5 93h1v1h-1zM131 86.4h1v1h-1zM128.5 92h1v1h-1zM129.5 92h1v1h-1zM130 85.4h1v1h-1zM130.5 86.4h1v1h-1z"/>
<path fill="#6e7382" d="M131.5 88.4h1v1h-1zM131 89h1v1h-1zM122 88.4h1v1h-1zM125 92.4h1v1h-1zM123 91.4h1v1h-1zM122.5 92h1v1h-1zM127 85h1v1h-1zM126 93h1v1h-1zM125.5 93h1v1h-1zM131 87.4h1v1h-1zM122.5 87.4h1v1h-1z"/>
<path fill="#6e7882" d="M126.5 85h1v1h-1z"/>
<path fill="#737882" d="M125.5 85.4h1v1h-1zM123.5 92.4h1v1h-1zM125.5 85h1v1h-1zM122.5 89h1v1h-1zM125.5 93h1v1h-1zM122 90.4h1v1h-1z"/>
<path fill="#73787d" d="M130 86h1v1h-1z"/>
<path fill="#737d7d" d="M129.5 85h1v1h-1zM122.5 91.4h1v1h-1zM125.5 92.4h1v1h-1zM127 93h1v1h-1z"/>
<path fill="#787d7d" d="M131.5 88h1v1h-1zM125 85.4h1v1h-1zM126.5 93h1v1h-1zM124 85.4h1v1h-1zM131 87.4h1v1h-1zM128 85h1v1h-1zM127 85h1v1h-1zM130.5 87h1v1h-1zM129 85.4h1v1h-1z"/>
<path fill="#78827d" d="M123.5 92.4h1v1h-1z"/>
<path fill="#7d827d" d="M123.5 86.4h1v1h-1zM130.5 88h1v1h-1zM124.5 86h1v1h-1zM122 90.4h1v1h-1zM122.5 90h1v1h-1zM130.5 88h1v1h-1zM123 87h1v1h-1zM130.5 88h1v1h-1z"/>
<path fill="#7d877d" d="M122.5 90.4h1v1h-1zM127 92.4h1v1h-1zM127.5 85.4h1v1h-1zM127.5 92.4h1v1h-1zM124 92.4h1v1h-1zM122.5 87h1v1h-1z"/>
<path fill="#82877d" d="M124 86.4h1v1h-1zM124.5 92.4h1v1h-1zM122 89.4h1v1h-1zM126.5 85h1v1h-1zM130.5 87h1v1h-1zM130 91h1v1h-1zM129.5 85.4h1v1h-1zM125.5 85.4h1v1h-1zM127.5 85.4h1v1h-1z"/>
<path fill="#828778" d="M129.5 85.4h1v1h-1zM128.5 85.4h1v1h-1zM129.5 85.4h1v1h-1z"/>
<path fill="#828c78" d="M123 87h1v1h-1zM129.5 90.4h1v1h-1zM130 90h1v1h-1zM125.5 92.4h1v1h-1z"/>
<path fill="#878c78" d="M130 90.4h1v1h-1zM122.5 89h1v1h-1zM128.5 85h1v1h-1zM123.5 87.4h1v1h-1zM129.5 86h1v1h-1z"/>
<path fill="#879178" d="M124 87h1v1h-1zM129 85.4h1v1h-1zM123 87h1v1h-1zM123 88.4h1v1h-1zM127.5 92h1v1h-1zM123 91h1v1h-1zM122.5 88.4h1v1h-1zM125 92h1v1h-1z"/>
<path fill="#8c9178" d="M130.5 86.4h1v1h-1zM123.5 92h1v1h-1zM129.5 86h1v1h-1zM130 86.4h1v1h-1zM130 87.4h1v1h-1zM130 90.4h1v1h-1zM124 87h1v1h-1z"/>
<path fill="#8c9678" d="M123 91h1v1h-1zM123.5 91.4h1v1h-1zM126 92.4h1v1h-1z"/>
<path fill="#919673" d="M129 86h1v1h-1zM130.5 88.4h1v1h-1zM123 91h1v1h-1zM123 90h1v1h-1zM122.5 90.4h1v1h-1zM124 91.4h1v1h-1zM130 88h1v1h-1zM125 86h1v1h-1zM122.5 88.4h1v1h-1zM130.5 88h1v1h-1z"/>
<path fill="#919b73" d="M124 87h1v1h-1zM123 90.4h1v1h-1z"/>
<path fill="#969b73" d="M125.5 85.4h1v1h-1zM129.5 90h1v1h-1zM129 87h1v1h-1zM128.5 86h1v1h-1zM127.5 92h1v1h-1zM123 89h1v1h-1zM122.5 88h1v1h-1z"/>
<path fill="#9b9b73" d="M124 92h1v1h-1zM127 86h1v1h-1z"/>
<path fill="#9ba06e" d="M130.5 87.4h1v1h-1zM123.5 88.4h1v1h-1zM125.5 92h1v1h-1z"/>
<path fill="#a0a06e" d="M123.5 88.4h1v1h-1zM124.5 86.4h1v1h-1zM128.5 91h1v1h-1zM128 92h1v1h-1zM129.5 90h1v1h-1z"/>
<path fill="#a0a56e" d="M124 91.4h1v1h-1zM126 91.4h1v1h-1zM126 86h1v1h-1z"/>
<path fill="#a5a56e" d="M129 90.4h1v1h-1zM129.5 89h1v1h-1zM123.5 90h1v1h-1zM128 91h1v1h-1zM128.5 86h1v1h-1zM129.5 90h1v1h-1zM125 86.4h1v1h-1z"/>
<path fill="#a5aa6e" d="M124.5 87h1v1h-1zM127.5 91h1v1h-1zM123.5 88h1v1h-1zM127 92h1v1h-1z"/>
<path fill="#aaaa6e" d="M130 88.4h1v1h-1zM125 92h1v1h-1zM129 86.4h1v1h-1zM123.5 91.4h1v1h-1zM126.5 85.4h1v1h-1z"/>
<path fill="#aaaa69" d="M129.5 89.4h1v1h-1zM126 86h1v1h-1zM125.5 91.4h1v1h-1z"/>
<path fill="#afaf69" d="M125 91.4h1v1h-1zM126.5 86h1v1h-1zM124 88.4h1v1h-1zM124 90.4h1v1h-1zM127 91.4h1v1h-1zM125 91.4h1v1h-1zM129 88h1v1h-1zM124.5 91.4h1v1h-1z"/>
<path fill="#b4af69" d="M128 90.4h1v1h-1zM123.5 90.4h1v1h-1z"/>
<path fill="#b4b469" d="M128 87h1v1h-1zM124.5 91.4h1v1h-1zM128 91.4h1v1h-1zM128 91h1v1h-1z"/>
<path fill="#b4b464" d="M128.5 88.4h1v1h-1zM123.5 88.4h1v1h-1zM124.5 91.4h1v1h-1z"/>
<path fill="#b4af64" d="M125 87.4h1v1h-1zM128.5 90.4h1v1h-1zM127.5 86.4h1v1h-1zM129 89h1v1h-1zM128 86.4h1v1h-1zM129.5 89.4h1v1h-1z"/>
<path fill="#b9af64" d="M126 91.4h1v1h-1zM129 86.4h1v1h-1zM126.5 86.4h1v1h-1zM123.5 90h1v1h-1zM128 90.4h1v1h-1zM128.5 90h1v1h-1zM124.5 90h1v1h-1zM128 90.4h1v1h-1zM128.5 86h1v1h-1z"/>
<path fill="#b9af5f" d="M126 86.4h1v1h-1zM129 86.4h1v1h-1zM124.5 87.4h1v1h-1zM128 86.4h1v1h-1z"/>
<path fill="#beaf5f" d="M129 89h1v1h-1zM127 86.4h1v1h-1zM129 89.4h1v1h-1zM124.5 87.4h1v1h-1zM129 87h1v1h-1zM125.5 91h1v1h-1z"/>
<path fill="#beaf5a" d="M125.5 87h1v1h-1zM127 91.4h1v1h-1zM124.5 90.4h1v1h-1zM126 91.4h1v1h-1zM125.5 91h1v1h-1zM128 86.4h1v1h-1zM128 91h1v1h-1z"/>
<path fill="#c3af5a" d="M129.5 87h1v1h-1zM124 88h1v1h-1z"/>
<path fill="#c3af55" d="M124.5 91h1v1h-1z"/>
<path fill="#c3aa55" d="M127.5 86h1v1h-1zM124.5 91h1v1h-1zM126 91.4h1v1h-1zM128 90h1v1h-1zM125.5 91h1v1h-1zM124 88h1v1h-1zM128 88.4h1v1h-1zM128.5 89.4h1v1h-1zM128.5 90h1v1h-1zM129.5 88.4h1v1h-1z"/>
<path fill="#c8aa50" d="M129 88h1v1h-1zM126.5 87.4h1v1h-1zM123.5 89h1v1h-1zM124 88h1v1h-1zM126.5 90.4h1v1h-1zM125 88h1v1h-1zM129.5 88h1v1h-1zM124 90.4h1v1h-1zM125.5 87h1v1h-1zM124 89.4h1v1h-1zM127.5 91h1v1h-1z"/>
<path fill="#c8aa4b" d="M126.5 91h1v1h-1zM128 88.4h1v1h-1z"/>
<path fill="#cdaa4b" d="M125 90.4h1v1h-1zM129 88h1v1h-1zM124.5 88.4h1v1h-1zM126 91h1v1h-1zM123.5 90h1v1h-1zM127.5 86.4h1v1h-1zM128.5 89h1v1h-1zM124.5 88h1v1h-1zM128.5 88h1v1h-1zM126 88h1v1h-1zM126 87.4h1v1h-1zM124.5 88h1v1h-1z"/>
<path fill="#cda546" d="M129 88h1v1h-1zM128.5 89h1v1h-1z"/>
<path fill="#d2a546" d="M128 88h1v1h-1zM128 90.4h1v1h-1zM128 90.4h1v1h-1zM128 90.4h1v1h-1zM124.5 89h1v1h-1zM125 90h1v1h-1zM128 89h1v1h-1zM125.5 91h1v1h-1zM127 90.4h1v1h-1z"/>
<path fill="#d2a541" d="M125 91h1v1h-1zM123.5 89h1v1h-1zM128 89h1v1h-1z"/>
<path fill="#d2a041" d="M129 88h1v1h-1zM125.5 90.4h1v1h-1zM127.5 88h1v1h-1zM128.5 87h1v1h-1z"/>
<path fill="#cda041" d="M129 88h1v1h-1zM127.5 89.4h1v1h-1zM128 89.4h1v1h-1zM124.5 89h1v1h-1zM128 89.4h1v1h-1zM124.5 89h1v1h-1zM125 89.4h1v1h-1zM124 89.4h1v1h-1zM126 90h1v1h-1zM128 87.4h1v1h-1zM128 90h1v1h-1z"/>
<path fill="#cd9b41" d="M124.5 88.4h1v1h-1zM128.5 88h1v1h-1z"/>
<path fill="#cd9b3c" d="M127.5 89h1v1h-1zM125.5 89.4h1v1h-1zM128 89h1v1h-1zM128.5 87.4h1v1h-1zM125 90h1v1h-1zM124.5 90h1v1h-1zM128.5 87.4h1v1h-1zM125 90.4h1v1h-1z"/>
<path fill="#c8963c" d="M128.5 88h1v1h-1zM127.5 89.4h1v1h-1zM124 89.4h1v1h-1zM126.5 89h1v1h-1zM126.5 88.4h1v1h-1zM126 90.4h1v1h-1zM126 87h1v1h-1zM126 87.4h1v1h-1z"/>
<path fill="#c89637" d="M126 90h1v1h-1z"/>
<path fill="#c89137" d="M128.5 88.4h1v1h-1zM125.5 90h1v1h-1zM126 87.4h1v1h-1zM125 89.4h1v1h-1zM125 89.4h1v1h-1z"/>
<path fill="#c39137" d="M127.5 89.4h1v1h-1zM127.5 88h1v1h-1zM127.5 88.4h1v1h-1z"/>
<path fill="#c38c37" d="M126.5 90h1v1h-1zM127.5 90.4h1v1h-1zM126.5 87.4h1v1h-1zM127.5 89.4h1v1h-1zM126 90.4h1v1h-1zM125.5 89h1v1h-1zM125 89.4h1v1h-1zM127.5 88.4h1v1h-1z"/>
<path fill="#c38c32" d="M125 88.4h1v1h-1zM126 90.4h1v1h-1zM125 91h1v1h-1z"/>
<path fill="#c38732" d="M127.5 88h1v1h-1z"/>
<path fill="#be8732" d="M127.5 89h1v1h-1zM126.5 87.4h1v1h-1zM128 89.4h1v1h-1zM126 89.4h1v1h-1z"/>
<path fill="#be8232" d="M126.5 88.4h1v1h-1zM124.5 89.4h1v1h-1z"/>
<path fill="#be822d" d="M128 88.4h1v1h-1zM125 89h1v1h-1zM127 90h1v1h-1zM128 88h1v1h-1z"/>
<path fill="#be7d2d" d="M125 90.4h1v1h-1zM128.5 89h1v1h-1zM126.5 88h1v1h-1z"/>
<path fill="#b97d2d" d="M127.5 88.4h1v1h-1zM125.5 89.4h1v1h-1zM126.5 89.4h1v1h-1zM126 87.4h1v1h-1zM126.5 89.4h1v1h-1zM125.5 89.4h1v1h-1zM125 88h1v1h-1zM126 88h1v1h-1zM126 88h1v1h-1zM126 89.4h1v1h-1zM126 90h1v1h-1zM125.5 89.4h1v1h-1zM127.5 88.4h1v1h-1zM128 89.4h1v1h-1zM125.5 89h1v1h-1zM125.5 89h1v1h-1zM127 87.4h1v1h-1zM125.5 88.4h1v1h-1zM129 88.4h1v1h-1zM127.5 87.4h1v1h-1zM127 89.4h1v1h-1z"/>
</g>
<path d="M108.50 18.45V140.45M55.50 104.40H180.30" stroke="#a46c7e" stroke-width="0.9" fill="none"/>
<rect x="55.50" y="18.45" width="124.80" height="122.00" fill="none" stroke="#111" stroke-width="1.4"/>
<path d="M55.50 140.45v3M55.50 140.45h-3M64.89 140.45v1.7M55.50 131.27h-1.7M70.39 140.45v1.7M55.50 125.90h-1.7M74.28 140.45v1.7M55.50 122.09h-1.7M77.31 140.45v2.4M55.50 119.13h-2.4M79.78 140.45v1.7M55.50 116.72h-1.7M81.87 140.45v1.7M55.50 114.67h-1.7M83.68 140.45v1.7M55.50 112.91h-1.7M85.27 140.45v1.7M55.50 111.35h-1.7M86.70 140.45v3M55.50 109.95h-3M96.09 140.45v1.7M55.50 100.77h-1.7M101.59 140.45v1.7M55.50 95.40h-1.7M105.48 140.45v1.7M55.50 91.59h-1.7M108.51 140.45v2.4M55.50 88.63h-2.4M110.98 140.45v1.7M55.50 86.22h-1.7M113.07 140.45v1.7M55.50 84.17h-1.7M114.88 140.45v1.7M55.50 82.41h-1.7M116.47 140.45v1.7M55.50 80.85h-1.7M117.90 140.45v3M55.50 79.45h-3M127.29 140.45v1.7M55.50 70.27h-1.7M132.79 140.45v1.7M55.50 64.90h-1.7M136.68 140.45v1.7M55.50 61.09h-1.7M139.71 140.45v2.4M55.50 58.13h-2.4M142.18 140.45v1.7M55.50 55.72h-1.7M144.27 140.45v1.7M55.50 53.67h-1.7M146.08 140.45v1.7M55.50 51.91h-1.7M147.67 140.45v1.7M55.50 50.35h-1.7M149.10 140.45v3M55.50 48.95h-3M158.49 140.45v1.7M55.50 39.77h-1.7M163.99 140.45v1.7M55.50 34.40h-1.7M167.88 140.45v1.7M55.50 30.59h-1.7M170.91 140.45v2.4M55.50 27.63h-2.4M173.38 140.45v1.7M55.50 25.22h-1.7M175.47 140.45v1.7M55.50 23.17h-1.7M177.28 140.45v1.7M55.50 21.41h-1.7M178.87 140.45v1.7M55.50 19.85h-1.7M180.30 140.45v3M55.50 18.45h-3" stroke="#111" stroke-width="0.9" fill="none"/>
<text class="k" x="55.75" y="153.85" text-anchor="middle">10<tspan class="s" dy="-3.3">0</tspan></text>
<text class="k" x="50.90" y="144.15" text-anchor="end">10<tspan class="s" dy="-3.3">0</tspan></text>
<text class="k" x="87.15" y="153.85" text-anchor="middle">10<tspan class="s" dy="-3.3">1</tspan></text>
<text class="k" x="50.90" y="113.65" text-anchor="end">10<tspan class="s" dy="-3.3">1</tspan></text>
<text class="k" x="117.25" y="153.85" text-anchor="middle">10<tspan class="s" dy="-3.3">2</tspan></text>
<text class="k" x="50.90" y="83.15" text-anchor="end">10<tspan class="s" dy="-3.3">2</tspan></text>
<text class="k" x="149.85" y="153.85" text-anchor="middle">10<tspan class="s" dy="-3.3">3</tspan></text>
<text class="k" x="50.90" y="52.65" text-anchor="end">10<tspan class="s" dy="-3.3">3</tspan></text>
<text class="k" x="179.75" y="153.85" text-anchor="middle">10<tspan class="s" dy="-3.3">4</tspan></text>
<text class="k" x="50.90" y="22.15" text-anchor="end">10<tspan class="s" dy="-3.3">4</tspan></text>
<text class="t" x="115.05" y="11.25" text-anchor="middle">Pre-treatment</text>
<text class="q" x="58.90" y="28.25">4.75</text>
<text class="q" x="176.70" y="28.25" text-anchor="end">92.0</text>
<text class="q" x="58.90" y="136.75">3.09</text>
<text class="q" x="176.70" y="136.75" text-anchor="end">0.06</text>
<g filter="url(#bl)">
<path fill="#a0a0be" d="M280.4 107.4h1v1h-1zM287.4 99.4h1v1h-1zM280.4 126h1v1h-1zM295.4 100h1v1h-1zM296.9 95.4h1v1h-1zM306.9 97h1v1h-1zM292.9 100h1v1h-1zM286.9 101h1v1h-1zM310.4 100h1v1h-1zM251.4 100.4h1v1h-1zM234.9 112h1v1h-1zM233.4 131.4h1v1h-1zM227.4 118.4h1v1h-1zM249.9 102h1v1h-1zM236.9 129h1v1h-1zM248.9 97.4h1v1h-1zM234.9 100.4h1v1h-1zM231.9 129h1v1h-1zM250.9 100h1v1h-1zM228.4 113.4h1v1h-1zM231.9 133h1v1h-1zM250.9 97.4h1v1h-1zM253.4 101.4h1v1h-1zM251.4 128h1v1h-1zM261.4 120h1v1h-1zM248.4 129.4h1v1h-1zM222.9 127.4h1v1h-1zM225.4 129.4h1v1h-1zM225.9 106h1v1h-1zM237.9 129h1v1h-1zM244.9 99.4h1v1h-1zM265.9 114h1v1h-1zM251.9 102.4h1v1h-1zM265.4 104h1v1h-1zM260.4 102h1v1h-1zM262.4 102h1v1h-1z"/>
<path fill="#a09bbe" d="M279.4 126.4h1v1h-1zM314.9 109.4h1v1h-1zM284.4 113h1v1h-1zM284.9 136.4h1v1h-1zM305.9 100h1v1h-1zM233.4 133.4h1v1h-1zM255.4 129h1v1h-1zM228.4 114.4h1v1h-1zM228.9 110h1v1h-1zM231.4 117.4h1v1h-1zM262.4 112.4h1v1h-1zM223.4 131h1v1h-1zM262.4 105.4h1v1h-1zM266.4 104.4h1v1h-1zM264.9 107.4h1v1h-1z"/>
<path fill="#a09bb9" d="M282.4 129.4h1v1h-1zM283.4 115h1v1h-1zM314.4 110h1v1h-1zM285.9 110h1v1h-1zM284.4 106.4h1v1h-1zM280.4 113h1v1h-1zM312.4 134h1v1h-1zM286.4 100.4h1v1h-1zM292.9 94h1v1h-1zM230.9 116h1v1h-1zM241.4 102h1v1h-1zM231.9 110h1v1h-1zM258.9 101.4h1v1h-1zM262.9 107h1v1h-1z"/>
<path fill="#a096b9" d="M280.9 135.4h1v1h-1z"/>
<path fill="#9b96b9" d="M283.9 136h1v1h-1zM286.9 106.4h1v1h-1zM285.9 101h1v1h-1zM308.9 102h1v1h-1zM311.9 131h1v1h-1zM278.4 112h1v1h-1zM303.9 100h1v1h-1zM294.4 99.4h1v1h-1zM242.9 102.4h1v1h-1zM254.4 127.4h1v1h-1zM248.9 128.4h1v1h-1zM236.4 98.4h1v1h-1zM231.9 125h1v1h-1zM233.9 110h1v1h-1zM271.9 108.4h1v1h-1zM251.4 105.4h1v1h-1zM260.4 123.4h1v1h-1zM264.4 111.4h1v1h-1zM229.4 130.4h1v1h-1zM243.9 100.4h1v1h-1zM226.4 122.4h1v1h-1zM243.4 133h1v1h-1zM261.9 112.4h1v1h-1zM233.4 105h1v1h-1zM262.4 110h1v1h-1zM267.9 103.4h1v1h-1zM236.4 130h1v1h-1zM249.4 126.4h1v1h-1zM257.9 117h1v1h-1zM262.4 99.4h1v1h-1zM263.4 105h1v1h-1z"/>
<path fill="#9b91b9" d="M312.9 100.4h1v1h-1zM292.4 99h1v1h-1zM306.4 98h1v1h-1zM256.4 118.4h1v1h-1zM251.4 125.4h1v1h-1z"/>
<path fill="#9691b9" d="M294.9 99.4h1v1h-1zM284.4 105h1v1h-1zM309.4 103h1v1h-1zM313.9 106.4h1v1h-1zM281.4 125.4h1v1h-1zM282.9 121h1v1h-1zM284.4 136h1v1h-1zM312.9 128h1v1h-1zM283.9 106.4h1v1h-1zM285.4 116h1v1h-1zM309.4 103h1v1h-1zM296.4 97.4h1v1h-1zM255.9 119.4h1v1h-1zM258.9 115.4h1v1h-1zM222.9 120h1v1h-1zM256.9 121h1v1h-1zM253.9 124.4h1v1h-1zM232.9 120h1v1h-1zM230.9 119h1v1h-1zM223.9 101h1v1h-1zM258.4 113.4h1v1h-1zM248.9 107h1v1h-1zM252.4 107.4h1v1h-1zM259.4 112.4h1v1h-1zM279.4 113h1v1h-1zM240.4 129.4h1v1h-1zM240.4 129.4h1v1h-1zM243.9 128h1v1h-1zM266.9 99.4h1v1h-1zM257.9 115.4h1v1h-1zM259.4 104h1v1h-1zM257.4 104h1v1h-1zM259.4 105h1v1h-1zM261.9 101.4h1v1h-1zM264.9 101h1v1h-1z"/>
<path fill="#968cb9" d="M285.9 133.4h1v1h-1zM285.4 134.4h1v1h-1zM290.9 101.4h1v1h-1zM284.9 119h1v1h-1zM292.4 99.4h1v1h-1zM293.9 96h1v1h-1zM300.4 97h1v1h-1zM241.4 103.4h1v1h-1zM256.4 122.4h1v1h-1zM247.9 102.4h1v1h-1zM232.9 119h1v1h-1zM241.4 99.4h1v1h-1zM262.4 109h1v1h-1zM255.4 105h1v1h-1zM249.4 107h1v1h-1zM231.4 116.4h1v1h-1zM225.9 113h1v1h-1zM241.4 101h1v1h-1zM247.4 130h1v1h-1zM239.9 132h1v1h-1zM253.4 124.4h1v1h-1zM238.4 110h1v1h-1zM256.4 106h1v1h-1zM256.4 116.4h1v1h-1zM238.9 107h1v1h-1zM258.9 101.4h1v1h-1zM257.4 102h1v1h-1z"/>
<path fill="#918cb9" d="M312.9 136.4h1v1h-1zM285.4 104h1v1h-1zM296.9 99h1v1h-1zM288.9 101.4h1v1h-1zM228.4 130h1v1h-1zM259.9 112h1v1h-1zM231.9 124.4h1v1h-1zM253.4 124h1v1h-1zM234.4 132h1v1h-1zM254.9 113.4h1v1h-1zM252.4 126h1v1h-1zM234.4 112h1v1h-1zM254.9 120h1v1h-1zM246.9 104h1v1h-1zM241.4 106h1v1h-1zM254.4 122.4h1v1h-1zM261.4 102h1v1h-1zM257.9 110h1v1h-1z"/>
<path fill="#9187b9" d="M285.4 124.4h1v1h-1zM286.4 120.4h1v1h-1zM285.4 130h1v1h-1zM291.4 102.4h1v1h-1zM286.4 106h1v1h-1zM312.9 115h1v1h-1zM311.9 137h1v1h-1zM314.4 106.4h1v1h-1zM284.4 123h1v1h-1zM308.4 103.4h1v1h-1zM312.4 123h1v1h-1zM231.9 118.4h1v1h-1zM238.9 128h1v1h-1zM236.9 126.4h1v1h-1zM246.4 106.4h1v1h-1zM243.9 129h1v1h-1zM259.4 117h1v1h-1zM228.4 131.4h1v1h-1zM248.9 106h1v1h-1zM256.9 116.4h1v1h-1zM244.4 107h1v1h-1zM244.9 104.4h1v1h-1zM249.9 97.4h1v1h-1zM259.4 120.4h1v1h-1zM252.4 125.4h1v1h-1zM247.4 104.4h1v1h-1zM231.9 115h1v1h-1zM259.9 106.4h1v1h-1zM252.9 106h1v1h-1z"/>
<path fill="#8c87b9" d="M286.4 117.4h1v1h-1zM311.9 117.4h1v1h-1zM285.9 128h1v1h-1zM312.9 116h1v1h-1zM285.9 131h1v1h-1zM234.9 114.4h1v1h-1zM253.9 127.4h1v1h-1zM235.4 122h1v1h-1zM258.9 116h1v1h-1zM233.9 120h1v1h-1zM242.4 132h1v1h-1zM260.4 111h1v1h-1zM257.9 104h1v1h-1z"/>
<path fill="#8c82b9" d="M287.4 119.4h1v1h-1zM286.4 112h1v1h-1zM310.9 118.4h1v1h-1zM301.4 100.4h1v1h-1zM309.9 136.4h1v1h-1zM312.9 106h1v1h-1zM310.4 111h1v1h-1zM287.9 102h1v1h-1zM310.9 105.4h1v1h-1zM309.4 129h1v1h-1zM280.9 121h1v1h-1zM309.9 121.4h1v1h-1zM286.9 138h1v1h-1zM296.4 98h1v1h-1zM300.4 99.4h1v1h-1zM247.9 128h1v1h-1zM257.9 115h1v1h-1zM237.9 126h1v1h-1zM234.9 113h1v1h-1zM254.9 123h1v1h-1zM248.9 124.4h1v1h-1zM231.4 122.4h1v1h-1zM248.4 123h1v1h-1zM253.4 118.4h1v1h-1zM240.4 125h1v1h-1zM249.9 128.4h1v1h-1zM233.9 124h1v1h-1zM232.9 128h1v1h-1zM257.4 108h1v1h-1zM259.9 105h1v1h-1zM240.4 131.4h1v1h-1zM258.4 118.4h1v1h-1zM238.9 128h1v1h-1zM229.4 124.4h1v1h-1zM241.9 128h1v1h-1zM261.4 104h1v1h-1zM263.4 105.4h1v1h-1zM259.9 106.4h1v1h-1z"/>
<path fill="#8c82b4" d="M310.9 120.4h1v1h-1zM287.4 112h1v1h-1zM310.9 124.4h1v1h-1zM257.4 110h1v1h-1zM249.9 123.4h1v1h-1zM239.4 109h1v1h-1zM235.4 124.4h1v1h-1zM256.9 105h1v1h-1z"/>
<path fill="#8782b4" d="M287.4 133.4h1v1h-1zM258.9 110h1v1h-1z"/>
<path fill="#877db4" d="M309.4 115.4h1v1h-1zM287.4 126h1v1h-1zM312.4 123h1v1h-1zM287.4 103.4h1v1h-1zM310.9 126h1v1h-1zM303.4 102h1v1h-1zM297.4 101.4h1v1h-1zM311.4 103h1v1h-1zM280.9 102.4h1v1h-1zM312.4 115.4h1v1h-1zM311.9 134h1v1h-1zM311.9 127.4h1v1h-1zM286.9 135.4h1v1h-1zM311.9 111h1v1h-1zM283.9 137h1v1h-1zM284.9 115.4h1v1h-1zM297.9 102.4h1v1h-1zM311.4 123.4h1v1h-1zM311.9 104h1v1h-1zM287.4 102.4h1v1h-1zM287.4 131h1v1h-1zM300.4 100.4h1v1h-1zM298.4 101.4h1v1h-1zM232.9 119h1v1h-1zM245.9 107h1v1h-1zM256.9 105h1v1h-1zM239.4 126.4h1v1h-1zM235.4 112.4h1v1h-1zM257.9 115h1v1h-1zM241.9 108.4h1v1h-1zM247.4 122h1v1h-1zM254.9 111h1v1h-1zM239.4 125h1v1h-1zM242.4 127h1v1h-1zM236.4 125.4h1v1h-1zM237.4 112.4h1v1h-1zM238.4 111h1v1h-1zM231.4 116h1v1h-1zM237.9 112h1v1h-1zM232.9 118.4h1v1h-1zM234.4 122.4h1v1h-1zM255.9 119h1v1h-1zM242.4 129h1v1h-1zM247.9 126.4h1v1h-1zM253.4 112h1v1h-1zM252.9 124h1v1h-1zM233.9 115.4h1v1h-1zM263.4 105h1v1h-1zM256.4 128.4h1v1h-1zM233.4 127.4h1v1h-1zM234.4 118.4h1v1h-1zM233.4 115.4h1v1h-1zM255.4 118h1v1h-1zM243.4 127h1v1h-1zM235.4 121h1v1h-1zM239.9 128h1v1h-1zM258.4 109.4h1v1h-1zM258.4 109h1v1h-1zM255.9 106h1v1h-1zM262.9 107h1v1h-1zM257.9 106h1v1h-1zM256.9 107h1v1h-1zM255.9 107h1v1h-1zM256.4 113h1v1h-1z"/>
<path fill="#8778b4" d="M287.4 126.4h1v1h-1zM311.4 127.4h1v1h-1zM309.9 137h1v1h-1zM290.4 103.4h1v1h-1zM287.4 127.4h1v1h-1zM253.4 108h1v1h-1zM240.9 107h1v1h-1zM250.9 113h1v1h-1zM245.9 123.4h1v1h-1zM240.4 113h1v1h-1zM255.9 105h1v1h-1zM235.9 124h1v1h-1zM257.9 113.4h1v1h-1zM244.4 106h1v1h-1zM235.9 110h1v1h-1zM235.4 116h1v1h-1zM243.4 127h1v1h-1zM252.4 122.4h1v1h-1zM255.9 111.4h1v1h-1zM234.9 116.4h1v1h-1zM233.9 121.4h1v1h-1zM243.4 127h1v1h-1zM257.9 107h1v1h-1z"/>
<path fill="#8278b4" d="M287.4 126h1v1h-1zM289.9 110h1v1h-1zM286.9 105.4h1v1h-1zM311.9 129.4h1v1h-1zM285.4 133h1v1h-1zM310.4 109.4h1v1h-1zM309.4 136h1v1h-1zM301.9 102h1v1h-1zM287.4 130.4h1v1h-1zM309.9 113.4h1v1h-1zM302.4 102h1v1h-1zM310.4 105h1v1h-1zM284.9 121.4h1v1h-1zM309.9 112.4h1v1h-1zM294.9 103h1v1h-1zM288.9 122h1v1h-1zM310.4 129.4h1v1h-1zM287.4 136.4h1v1h-1zM286.9 133.4h1v1h-1zM312.4 137h1v1h-1zM310.9 106h1v1h-1zM287.9 123h1v1h-1zM309.4 117.4h1v1h-1zM254.4 113h1v1h-1zM239.9 124h1v1h-1zM230.9 116.4h1v1h-1zM250.4 111h1v1h-1zM254.4 112h1v1h-1zM237.4 112h1v1h-1zM241.4 126.4h1v1h-1zM241.4 109.4h1v1h-1zM255.9 111.4h1v1h-1zM237.9 122h1v1h-1zM247.9 105h1v1h-1zM245.4 126.4h1v1h-1zM235.9 122h1v1h-1zM253.9 117.4h1v1h-1zM236.4 114h1v1h-1zM252.9 111.4h1v1h-1zM249.4 121h1v1h-1zM239.9 109.4h1v1h-1zM241.4 110.4h1v1h-1zM239.4 111.4h1v1h-1zM238.9 104.4h1v1h-1zM236.4 116.4h1v1h-1zM234.4 116.4h1v1h-1zM234.9 122.4h1v1h-1zM246.9 110.4h1v1h-1zM254.4 112.4h1v1h-1zM253.9 121h1v1h-1zM241.9 109h1v1h-1zM252.9 108.4h1v1h-1zM235.9 124.4h1v1h-1zM243.9 126h1v1h-1zM250.9 122.4h1v1h-1zM243.4 125.4h1v1h-1zM239.9 125h1v1h-1zM256.9 109.4h1v1h-1zM252.4 111h1v1h-1zM249.9 110h1v1h-1z"/>
<path fill="#8273b4" d="M307.9 105.4h1v1h-1zM292.4 103h1v1h-1zM308.9 112.4h1v1h-1zM299.9 102h1v1h-1zM310.4 127h1v1h-1zM289.4 138h1v1h-1zM310.4 109h1v1h-1zM309.9 113h1v1h-1zM289.4 106h1v1h-1zM309.4 135h1v1h-1zM308.9 125.4h1v1h-1zM288.4 115.4h1v1h-1zM288.4 121.4h1v1h-1zM309.4 109h1v1h-1zM291.4 103h1v1h-1zM309.9 110.4h1v1h-1zM288.9 111.4h1v1h-1zM309.9 108h1v1h-1zM288.4 137h1v1h-1zM288.9 126h1v1h-1zM306.9 104h1v1h-1zM288.4 134h1v1h-1zM289.9 104.4h1v1h-1zM258.4 107.4h1v1h-1zM249.4 123h1v1h-1zM252.4 110h1v1h-1zM238.9 114.4h1v1h-1zM237.4 122h1v1h-1zM235.9 127h1v1h-1zM251.4 118h1v1h-1zM237.4 118h1v1h-1zM246.9 126h1v1h-1zM253.4 111h1v1h-1zM236.4 113.4h1v1h-1zM234.4 121.4h1v1h-1zM243.9 110.4h1v1h-1zM238.9 126h1v1h-1zM238.4 115.4h1v1h-1zM249.4 109.4h1v1h-1zM254.9 110h1v1h-1zM250.4 110.4h1v1h-1zM242.4 108h1v1h-1zM257.4 109.4h1v1h-1zM257.4 107.4h1v1h-1zM256.4 108h1v1h-1zM256.4 110h1v1h-1z"/>
<path fill="#7d73b4" d="M309.9 110h1v1h-1zM237.4 118h1v1h-1zM240.4 124.4h1v1h-1z"/>
<path fill="#7d73af" d="M289.4 126h1v1h-1zM288.9 119.4h1v1h-1zM287.4 131h1v1h-1zM286.9 107.4h1v1h-1zM304.9 103.4h1v1h-1zM287.9 106h1v1h-1zM307.9 104.4h1v1h-1zM241.4 125h1v1h-1zM246.4 113h1v1h-1zM236.4 122h1v1h-1zM238.9 111h1v1h-1z"/>
<path fill="#7d6eaf" d="M308.4 114.4h1v1h-1zM290.4 110.4h1v1h-1zM289.4 137.4h1v1h-1zM308.4 112h1v1h-1zM288.4 110.4h1v1h-1zM307.9 137.4h1v1h-1zM294.9 103h1v1h-1zM309.4 130.4h1v1h-1zM292.9 105.4h1v1h-1zM308.4 120h1v1h-1zM288.4 126.4h1v1h-1zM286.4 134.4h1v1h-1zM288.9 134h1v1h-1zM288.9 119.4h1v1h-1zM310.9 126.4h1v1h-1zM308.4 105.4h1v1h-1zM309.4 126h1v1h-1zM308.4 125.4h1v1h-1zM309.4 112.4h1v1h-1zM253.9 111.4h1v1h-1zM241.9 110.4h1v1h-1zM237.4 123.4h1v1h-1zM247.9 109.4h1v1h-1zM241.9 123.4h1v1h-1zM255.9 110.4h1v1h-1zM240.4 120h1v1h-1zM238.4 119.4h1v1h-1zM235.9 120h1v1h-1zM243.9 124.4h1v1h-1zM237.4 119h1v1h-1zM235.4 116.4h1v1h-1zM234.4 117.4h1v1h-1zM234.4 116h1v1h-1zM251.9 109h1v1h-1zM238.4 112h1v1h-1zM247.9 108h1v1h-1zM239.9 110.4h1v1h-1zM244.4 108.4h1v1h-1zM240.4 117.4h1v1h-1zM239.4 118.4h1v1h-1zM252.4 109.4h1v1h-1zM239.4 114.4h1v1h-1zM251.9 109h1v1h-1zM255.9 108h1v1h-1zM251.4 111h1v1h-1zM238.4 128h1v1h-1zM242.9 123.4h1v1h-1zM251.9 114.4h1v1h-1zM253.9 119h1v1h-1zM250.4 112h1v1h-1zM235.9 116.4h1v1h-1zM244.4 110h1v1h-1zM243.9 122.4h1v1h-1zM245.4 109.4h1v1h-1zM251.9 117.4h1v1h-1zM253.4 112.4h1v1h-1zM252.9 114h1v1h-1z"/>
<path fill="#7d69af" d="M309.4 122h1v1h-1zM308.4 106.4h1v1h-1zM307.4 107h1v1h-1zM307.4 108.4h1v1h-1zM245.9 123h1v1h-1zM234.4 117.4h1v1h-1zM245.9 120h1v1h-1zM238.9 121.4h1v1h-1zM241.4 121.4h1v1h-1zM245.9 115.4h1v1h-1zM250.9 110h1v1h-1zM246.9 124.4h1v1h-1zM237.4 123h1v1h-1zM238.4 119.4h1v1h-1zM239.9 123h1v1h-1zM246.9 113h1v1h-1zM248.4 122h1v1h-1zM245.4 122.4h1v1h-1zM250.9 117.4h1v1h-1zM250.4 116.4h1v1h-1zM243.4 121h1v1h-1z"/>
<path fill="#7869af" d="M290.4 111.4h1v1h-1zM288.4 128h1v1h-1zM290.4 134.4h1v1h-1zM309.4 112h1v1h-1zM290.9 126h1v1h-1zM308.9 121h1v1h-1zM288.9 135.4h1v1h-1zM288.9 128h1v1h-1zM290.9 106.4h1v1h-1zM309.4 135.4h1v1h-1zM308.4 137.4h1v1h-1zM288.9 132h1v1h-1zM288.9 119h1v1h-1zM289.4 120.4h1v1h-1zM288.9 111.4h1v1h-1zM297.4 103h1v1h-1zM307.4 107h1v1h-1zM287.9 136h1v1h-1zM290.9 110.4h1v1h-1zM250.9 116h1v1h-1zM248.9 120h1v1h-1zM248.9 110.4h1v1h-1zM249.4 120.4h1v1h-1zM237.4 121h1v1h-1zM248.9 122h1v1h-1zM249.4 117.4h1v1h-1zM245.9 121h1v1h-1zM249.4 118h1v1h-1zM251.4 110.4h1v1h-1zM236.9 116h1v1h-1zM238.9 116.4h1v1h-1zM246.4 119.4h1v1h-1zM252.4 111h1v1h-1zM244.4 123.4h1v1h-1zM246.9 112h1v1h-1zM237.4 117h1v1h-1zM240.9 122.4h1v1h-1zM251.4 116h1v1h-1zM236.9 118h1v1h-1zM248.4 118h1v1h-1zM252.4 113h1v1h-1zM248.9 111h1v1h-1zM251.9 117h1v1h-1zM242.9 114h1v1h-1zM242.4 110.4h1v1h-1zM241.4 122.4h1v1h-1zM240.9 125h1v1h-1zM250.9 119h1v1h-1zM235.4 118.4h1v1h-1zM242.9 111.4h1v1h-1z"/>
<path fill="#7864af" d="M289.4 115h1v1h-1zM289.4 132.4h1v1h-1zM308.4 110h1v1h-1zM307.9 115h1v1h-1zM309.4 125h1v1h-1zM288.9 131.4h1v1h-1zM308.4 120h1v1h-1zM289.4 131h1v1h-1zM290.9 135.4h1v1h-1zM306.9 112.4h1v1h-1zM289.4 122h1v1h-1zM288.4 108.4h1v1h-1zM308.4 133.4h1v1h-1zM307.4 129h1v1h-1zM288.9 131h1v1h-1zM307.4 110h1v1h-1zM298.9 102.4h1v1h-1zM248.9 115h1v1h-1zM241.4 117.4h1v1h-1zM247.9 114.4h1v1h-1zM247.9 111.4h1v1h-1zM247.9 112.4h1v1h-1zM241.9 114.4h1v1h-1zM239.9 122h1v1h-1zM239.9 116h1v1h-1zM248.9 113.4h1v1h-1zM237.4 117.4h1v1h-1zM247.4 116.4h1v1h-1zM246.9 110h1v1h-1zM242.9 122.4h1v1h-1zM250.4 120.4h1v1h-1zM243.4 111h1v1h-1zM248.4 113.4h1v1h-1zM237.9 124.4h1v1h-1zM244.9 113h1v1h-1zM251.4 115h1v1h-1zM241.9 121h1v1h-1zM250.4 118.4h1v1h-1zM248.9 117h1v1h-1zM239.9 120h1v1h-1zM241.9 119.4h1v1h-1zM239.9 118h1v1h-1zM247.9 122h1v1h-1zM247.9 123.4h1v1h-1zM244.9 122.4h1v1h-1zM239.9 112h1v1h-1z"/>
<path fill="#7864aa" d="M297.4 103.4h1v1h-1zM300.9 103h1v1h-1zM239.9 114.4h1v1h-1zM252.4 112.4h1v1h-1zM249.4 114h1v1h-1zM238.4 114h1v1h-1z"/>
<path fill="#7364aa" d="M307.9 129h1v1h-1zM308.4 115h1v1h-1zM289.4 111h1v1h-1zM290.9 108.4h1v1h-1zM290.4 125h1v1h-1zM306.9 106.4h1v1h-1zM308.9 118h1v1h-1zM241.4 119.4h1v1h-1zM244.4 122.4h1v1h-1zM243.4 120.4h1v1h-1zM249.4 113h1v1h-1zM239.9 114h1v1h-1zM243.9 112.4h1v1h-1zM245.4 118h1v1h-1zM242.4 113.4h1v1h-1zM243.4 114h1v1h-1zM253.4 116h1v1h-1zM251.4 114.4h1v1h-1z"/>
<path fill="#735faa" d="M290.9 135h1v1h-1zM307.9 131.4h1v1h-1zM289.4 116.4h1v1h-1zM307.9 118.4h1v1h-1zM306.9 115.4h1v1h-1zM306.4 135h1v1h-1zM290.4 106.4h1v1h-1zM307.4 115h1v1h-1zM307.4 121.4h1v1h-1zM302.4 103.4h1v1h-1zM306.9 109h1v1h-1zM292.9 105.4h1v1h-1zM307.4 118.4h1v1h-1zM290.4 125.4h1v1h-1zM290.4 130h1v1h-1zM297.4 103.4h1v1h-1zM292.9 104.4h1v1h-1zM290.9 123h1v1h-1zM297.9 103.4h1v1h-1zM290.4 118h1v1h-1zM307.4 128.4h1v1h-1zM291.4 129.4h1v1h-1zM289.9 118.4h1v1h-1zM301.4 103.4h1v1h-1zM306.9 135.4h1v1h-1zM291.4 129h1v1h-1zM241.9 120.4h1v1h-1zM240.4 112h1v1h-1zM243.4 114.4h1v1h-1zM245.9 113h1v1h-1zM241.4 117h1v1h-1zM250.9 114.4h1v1h-1zM241.9 120.4h1v1h-1zM243.4 112.4h1v1h-1zM248.4 116h1v1h-1zM247.9 113h1v1h-1zM247.4 117.4h1v1h-1zM242.4 111.4h1v1h-1zM243.4 122h1v1h-1zM248.4 120h1v1h-1zM244.9 114.4h1v1h-1zM245.9 117.4h1v1h-1zM239.9 120.4h1v1h-1zM250.4 118.4h1v1h-1zM244.4 115h1v1h-1zM241.4 116h1v1h-1zM247.9 117.4h1v1h-1zM246.4 112.4h1v1h-1zM245.4 118.4h1v1h-1zM245.9 119h1v1h-1zM244.4 119.4h1v1h-1zM245.9 116h1v1h-1zM244.4 115.4h1v1h-1zM251.9 114h1v1h-1zM247.4 116.4h1v1h-1zM249.4 114h1v1h-1zM241.9 115.4h1v1h-1zM241.9 113.4h1v1h-1zM244.9 117.4h1v1h-1zM248.4 116.4h1v1h-1zM236.9 121h1v1h-1zM249.9 115h1v1h-1zM244.9 120.4h1v1h-1zM238.9 117h1v1h-1zM242.9 113.4h1v1h-1zM244.4 119.4h1v1h-1zM244.9 120.4h1v1h-1zM244.4 119h1v1h-1zM240.4 117h1v1h-1zM248.9 118.4h1v1h-1z"/>
<path fill="#735aaa" d="M290.9 109.4h1v1h-1zM290.9 132.4h1v1h-1zM307.4 112h1v1h-1zM307.9 129h1v1h-1zM307.9 131.4h1v1h-1zM307.9 129.4h1v1h-1zM290.9 136h1v1h-1zM290.4 134.4h1v1h-1zM307.4 115.4h1v1h-1zM308.4 108h1v1h-1zM308.4 123h1v1h-1zM291.4 119h1v1h-1zM307.4 132.4h1v1h-1zM290.4 133h1v1h-1zM245.4 117.4h1v1h-1zM239.4 117h1v1h-1zM244.4 114.4h1v1h-1zM245.4 119.4h1v1h-1zM246.9 115.4h1v1h-1zM247.9 113h1v1h-1zM240.9 116.4h1v1h-1zM246.4 118.4h1v1h-1zM246.9 114.4h1v1h-1zM241.9 118.4h1v1h-1z"/>
<path fill="#6e5aaa" d="M291.9 110.4h1v1h-1zM306.9 135.4h1v1h-1zM305.9 127h1v1h-1zM308.4 110.4h1v1h-1zM288.4 124h1v1h-1zM290.9 115h1v1h-1zM305.9 132.4h1v1h-1zM290.9 110.4h1v1h-1zM290.4 113.4h1v1h-1zM305.9 118h1v1h-1zM291.4 119h1v1h-1zM292.4 105.4h1v1h-1zM290.9 127.4h1v1h-1zM290.4 113.4h1v1h-1zM290.4 118h1v1h-1zM306.9 124h1v1h-1zM306.4 118h1v1h-1zM290.4 136h1v1h-1zM289.4 120h1v1h-1zM291.9 131.4h1v1h-1zM290.4 129.4h1v1h-1zM292.9 105h1v1h-1zM290.4 134h1v1h-1zM306.4 109.4h1v1h-1zM306.4 128h1v1h-1zM290.9 117h1v1h-1zM306.4 136h1v1h-1zM307.9 137.4h1v1h-1zM308.9 126.4h1v1h-1zM290.9 108.4h1v1h-1zM241.4 117.4h1v1h-1zM248.4 119.4h1v1h-1zM249.4 117h1v1h-1zM244.9 116.4h1v1h-1zM243.4 115.4h1v1h-1zM240.4 117h1v1h-1zM246.9 119h1v1h-1zM249.4 116.4h1v1h-1zM246.4 113h1v1h-1zM243.9 114h1v1h-1zM249.9 115h1v1h-1zM244.9 112.4h1v1h-1zM243.4 119.4h1v1h-1zM245.9 115.4h1v1h-1zM243.4 116.4h1v1h-1zM249.9 119h1v1h-1zM240.4 117h1v1h-1zM245.4 115h1v1h-1zM247.4 113.4h1v1h-1zM243.4 118h1v1h-1zM242.9 117.4h1v1h-1zM247.4 116.4h1v1h-1zM245.4 119.4h1v1h-1zM247.4 120.4h1v1h-1zM243.9 116h1v1h-1zM244.9 121h1v1h-1zM244.4 115h1v1h-1zM242.4 118.4h1v1h-1zM244.4 116h1v1h-1zM245.9 114.4h1v1h-1zM243.4 119h1v1h-1zM243.9 114.4h1v1h-1zM251.4 110.4h1v1h-1z"/>
<path fill="#6e5aa5" d="M306.4 116.4h1v1h-1zM291.4 136h1v1h-1zM306.4 124.4h1v1h-1zM291.9 134h1v1h-1zM306.9 134h1v1h-1zM307.4 134.4h1v1h-1zM306.9 106h1v1h-1zM305.4 105h1v1h-1zM307.9 134h1v1h-1zM291.9 116.4h1v1h-1zM292.9 105.4h1v1h-1zM306.4 120h1v1h-1zM305.9 124h1v1h-1zM291.4 122.4h1v1h-1zM291.4 113.4h1v1h-1zM292.4 119.4h1v1h-1zM305.9 129h1v1h-1zM306.9 124.4h1v1h-1zM306.4 137.4h1v1h-1zM247.4 117h1v1h-1zM244.9 118h1v1h-1zM239.9 115h1v1h-1zM241.9 115.4h1v1h-1zM243.9 112h1v1h-1zM246.9 118h1v1h-1zM245.4 114h1v1h-1z"/>
<path fill="#6e55a5" d="M306.4 118h1v1h-1zM291.9 122h1v1h-1zM291.4 115.4h1v1h-1zM290.9 118h1v1h-1zM290.9 122.4h1v1h-1zM291.9 121.4h1v1h-1zM291.4 118h1v1h-1zM240.9 119.4h1v1h-1zM239.9 118h1v1h-1zM242.4 114.4h1v1h-1z"/>
<path fill="#6955a5" d="M305.4 137.4h1v1h-1zM305.4 115h1v1h-1zM305.9 128.4h1v1h-1zM306.4 121h1v1h-1zM292.4 119h1v1h-1zM291.9 107.4h1v1h-1zM292.4 113.4h1v1h-1zM292.9 107.4h1v1h-1zM307.4 136.4h1v1h-1zM291.9 133h1v1h-1zM306.4 127.4h1v1h-1zM291.9 138.4h1v1h-1zM293.4 106h1v1h-1zM292.4 114h1v1h-1zM305.9 136.4h1v1h-1zM292.4 115h1v1h-1zM291.4 122h1v1h-1zM292.4 127h1v1h-1zM291.9 130h1v1h-1zM305.9 132.4h1v1h-1zM292.9 112.4h1v1h-1zM292.4 123h1v1h-1zM292.9 109.4h1v1h-1zM291.9 134h1v1h-1zM292.9 120h1v1h-1zM304.9 105h1v1h-1zM293.4 128.4h1v1h-1zM292.9 138h1v1h-1zM305.4 106.4h1v1h-1zM306.9 119h1v1h-1zM303.9 106.4h1v1h-1zM305.9 127h1v1h-1zM292.9 133h1v1h-1zM292.4 135.4h1v1h-1zM291.9 128h1v1h-1zM305.9 113.4h1v1h-1zM292.9 135h1v1h-1zM294.4 105h1v1h-1zM305.9 109h1v1h-1zM292.4 107.4h1v1h-1zM292.9 127h1v1h-1zM290.9 110.4h1v1h-1zM291.9 109.4h1v1h-1zM292.4 111h1v1h-1zM291.9 121.4h1v1h-1zM306.4 136.4h1v1h-1zM306.4 116h1v1h-1zM305.9 124.4h1v1h-1zM291.9 125.4h1v1h-1zM301.4 105.4h1v1h-1zM297.4 104.4h1v1h-1zM290.4 123.4h1v1h-1zM291.4 108.4h1v1h-1zM304.4 109.4h1v1h-1zM291.4 131h1v1h-1zM291.9 114.4h1v1h-1zM291.4 125.4h1v1h-1zM292.4 131h1v1h-1zM292.9 137h1v1h-1zM292.4 129h1v1h-1zM244.4 114h1v1h-1zM244.4 119h1v1h-1zM247.9 115.4h1v1h-1zM244.4 118h1v1h-1zM244.9 115h1v1h-1zM246.4 116h1v1h-1zM240.9 117h1v1h-1zM243.4 118.4h1v1h-1zM247.9 116.4h1v1h-1zM239.9 115.4h1v1h-1zM242.9 118.4h1v1h-1zM243.9 117.4h1v1h-1zM240.9 116.4h1v1h-1zM248.9 118h1v1h-1z"/>
<path fill="#6955a0" d="M294.4 105.4h1v1h-1zM301.9 105h1v1h-1zM292.9 115h1v1h-1zM297.4 104h1v1h-1zM247.4 117h1v1h-1z"/>
<path fill="#6455a0" d="M305.9 120h1v1h-1zM305.9 119h1v1h-1z"/>
<path fill="#6450a0" d="M293.4 138h1v1h-1zM305.4 126h1v1h-1zM305.4 113.4h1v1h-1zM293.4 119h1v1h-1zM293.9 107.4h1v1h-1zM292.4 122h1v1h-1zM305.9 112h1v1h-1zM294.9 106.4h1v1h-1zM293.9 125.4h1v1h-1zM306.4 116h1v1h-1zM304.4 107h1v1h-1zM291.9 120h1v1h-1zM291.9 124h1v1h-1zM294.4 108h1v1h-1zM300.9 104.4h1v1h-1zM305.9 112h1v1h-1zM305.9 134h1v1h-1zM304.4 107.4h1v1h-1zM293.4 138h1v1h-1zM305.9 136.4h1v1h-1zM305.9 131h1v1h-1zM305.4 114.4h1v1h-1zM304.9 114.4h1v1h-1zM305.4 125h1v1h-1zM297.4 105h1v1h-1zM303.4 107h1v1h-1zM291.9 116h1v1h-1zM305.4 120h1v1h-1zM304.4 112h1v1h-1zM292.4 138.4h1v1h-1zM304.9 136h1v1h-1zM296.4 105.4h1v1h-1zM291.9 127h1v1h-1zM293.4 124.4h1v1h-1zM301.9 105.4h1v1h-1zM293.4 111h1v1h-1zM291.9 115h1v1h-1zM292.9 110.4h1v1h-1zM293.4 126h1v1h-1zM303.9 106h1v1h-1zM292.9 114.4h1v1h-1zM292.4 136.4h1v1h-1zM298.4 104.4h1v1h-1zM303.9 107h1v1h-1zM305.4 130h1v1h-1zM293.4 124.4h1v1h-1zM305.9 109h1v1h-1zM292.9 112h1v1h-1zM291.9 130.4h1v1h-1zM291.9 129h1v1h-1zM299.4 105h1v1h-1zM293.4 108.4h1v1h-1zM295.9 105.4h1v1h-1zM305.4 134h1v1h-1zM306.4 112.4h1v1h-1zM305.9 125.4h1v1h-1zM299.4 105h1v1h-1zM305.9 110h1v1h-1zM305.9 132.4h1v1h-1zM240.4 120h1v1h-1z"/>
<path fill="#5f50a0" d="M292.4 126h1v1h-1zM292.9 115h1v1h-1zM292.4 124.4h1v1h-1zM293.9 125.4h1v1h-1zM292.9 119.4h1v1h-1zM296.4 106h1v1h-1zM293.4 127h1v1h-1zM292.4 132h1v1h-1zM305.4 109h1v1h-1zM304.9 134h1v1h-1zM292.4 109h1v1h-1z"/>
<path fill="#5f4ba0" d="M302.9 108.4h1v1h-1zM299.4 105.4h1v1h-1zM293.4 119h1v1h-1zM292.9 129h1v1h-1zM304.9 137h1v1h-1zM292.4 115.4h1v1h-1zM303.4 106.4h1v1h-1zM305.4 108h1v1h-1zM302.4 106.4h1v1h-1z"/>
<path fill="#5f4b9b" d="M293.9 128h1v1h-1zM304.9 119.4h1v1h-1zM293.4 132.4h1v1h-1zM304.4 115h1v1h-1zM293.4 129h1v1h-1zM304.4 115.4h1v1h-1zM293.9 111.4h1v1h-1zM305.4 128.4h1v1h-1zM292.9 121h1v1h-1zM292.9 108h1v1h-1zM304.9 128.4h1v1h-1zM303.4 107h1v1h-1zM305.9 118.4h1v1h-1zM293.4 132.4h1v1h-1zM292.9 119.4h1v1h-1zM304.9 114h1v1h-1zM292.9 128h1v1h-1zM304.9 131.4h1v1h-1zM305.4 135.4h1v1h-1zM304.4 137.4h1v1h-1zM293.9 108h1v1h-1zM304.4 113.4h1v1h-1zM294.4 106.4h1v1h-1zM292.4 123h1v1h-1zM303.9 124.4h1v1h-1zM299.9 106h1v1h-1zM293.4 117h1v1h-1zM298.4 105.4h1v1h-1zM293.4 123h1v1h-1zM304.9 133h1v1h-1zM292.4 122h1v1h-1zM303.9 107h1v1h-1zM293.9 127.4h1v1h-1zM305.4 126.4h1v1h-1zM303.9 108.4h1v1h-1zM295.4 107h1v1h-1zM301.4 105h1v1h-1zM292.9 125h1v1h-1zM293.4 110.4h1v1h-1zM292.9 112h1v1h-1zM305.4 127h1v1h-1zM293.9 121h1v1h-1zM304.4 127.4h1v1h-1zM304.9 125h1v1h-1zM305.4 114.4h1v1h-1z"/>
<path fill="#5a4b9b" d="M292.9 131h1v1h-1zM293.9 131h1v1h-1zM303.9 115.4h1v1h-1zM302.9 106.4h1v1h-1zM301.9 106h1v1h-1zM293.9 127.4h1v1h-1zM304.9 119.4h1v1h-1zM294.4 112h1v1h-1zM293.4 136h1v1h-1zM294.4 136h1v1h-1zM304.4 134h1v1h-1zM304.9 129.4h1v1h-1zM293.4 128h1v1h-1zM304.9 126.4h1v1h-1z"/>
<path fill="#5a469b" d="M304.4 125h1v1h-1zM304.4 133h1v1h-1zM304.4 122h1v1h-1zM304.9 111.4h1v1h-1zM293.9 111.4h1v1h-1zM299.9 105h1v1h-1zM292.4 128h1v1h-1zM294.4 110.4h1v1h-1zM293.4 133h1v1h-1zM300.4 106h1v1h-1zM302.9 107.4h1v1h-1zM294.9 108h1v1h-1zM294.4 138h1v1h-1zM293.9 125h1v1h-1zM302.4 106.4h1v1h-1zM301.9 106.4h1v1h-1zM293.4 136h1v1h-1zM305.4 122.4h1v1h-1z"/>
<path fill="#5a4696" d="M304.9 110.4h1v1h-1zM293.9 126h1v1h-1zM293.4 137.4h1v1h-1zM303.9 112h1v1h-1zM302.4 108h1v1h-1zM298.4 107h1v1h-1zM294.9 111.4h1v1h-1zM302.9 109h1v1h-1zM294.4 111h1v1h-1zM293.9 118.4h1v1h-1zM293.9 120.4h1v1h-1zM304.4 130h1v1h-1zM304.4 108.4h1v1h-1zM293.9 132.4h1v1h-1zM302.4 106h1v1h-1zM304.4 131.4h1v1h-1zM304.9 117h1v1h-1zM292.9 127h1v1h-1z"/>
<path fill="#554696" d="M294.4 137.4h1v1h-1zM294.9 114.4h1v1h-1zM302.4 107.4h1v1h-1zM303.4 111h1v1h-1zM294.9 132h1v1h-1zM294.9 116.4h1v1h-1zM295.4 111.4h1v1h-1zM293.9 123.4h1v1h-1zM294.4 111h1v1h-1zM294.9 131h1v1h-1zM294.9 125.4h1v1h-1zM302.4 107.4h1v1h-1zM294.4 116.4h1v1h-1zM301.4 108h1v1h-1zM303.4 138.4h1v1h-1zM302.9 108.4h1v1h-1zM302.9 110h1v1h-1zM294.4 127h1v1h-1zM294.9 108h1v1h-1zM295.4 108h1v1h-1zM294.4 122.4h1v1h-1zM294.9 138.4h1v1h-1zM294.4 122h1v1h-1zM303.9 118h1v1h-1zM303.9 109.4h1v1h-1zM296.4 109h1v1h-1zM296.4 107h1v1h-1zM304.4 135h1v1h-1zM304.4 130h1v1h-1zM303.4 113h1v1h-1zM294.9 109.4h1v1h-1zM295.4 113.4h1v1h-1zM294.4 134.4h1v1h-1zM294.9 112.4h1v1h-1zM302.9 109h1v1h-1zM294.9 133.4h1v1h-1zM304.4 131.4h1v1h-1zM294.9 122.4h1v1h-1zM293.9 117h1v1h-1zM294.9 112h1v1h-1z"/>
<path fill="#554196" d="M301.4 107.4h1v1h-1zM295.4 138.4h1v1h-1zM294.9 126.4h1v1h-1zM294.4 120.4h1v1h-1zM304.4 126.4h1v1h-1zM303.9 111.4h1v1h-1zM304.4 128h1v1h-1zM303.9 116h1v1h-1zM296.9 108h1v1h-1z"/>
<path fill="#554191" d="M294.9 115h1v1h-1zM303.9 123h1v1h-1zM297.9 107.4h1v1h-1zM293.9 118.4h1v1h-1zM294.9 112.4h1v1h-1zM295.4 112.4h1v1h-1zM295.4 109h1v1h-1zM293.9 119.4h1v1h-1zM295.4 115.4h1v1h-1zM294.4 131.4h1v1h-1zM293.9 114h1v1h-1zM303.9 118h1v1h-1zM301.9 109h1v1h-1zM302.4 107.4h1v1h-1zM304.4 130.4h1v1h-1zM294.9 121h1v1h-1zM300.4 108.4h1v1h-1zM295.4 137h1v1h-1zM295.4 108.4h1v1h-1zM299.9 108h1v1h-1zM294.4 124.4h1v1h-1zM295.4 109.4h1v1h-1zM294.9 134.4h1v1h-1zM303.4 120h1v1h-1zM294.4 134h1v1h-1z"/>
<path fill="#504191" d="M303.9 126.4h1v1h-1zM295.4 115h1v1h-1zM303.4 118h1v1h-1zM303.4 112h1v1h-1zM294.4 116h1v1h-1zM296.9 110h1v1h-1zM295.9 113.4h1v1h-1zM294.4 123h1v1h-1zM294.9 118h1v1h-1zM303.4 123.4h1v1h-1zM294.4 123.4h1v1h-1zM294.9 123.4h1v1h-1zM303.4 114h1v1h-1zM294.9 138.4h1v1h-1zM295.9 111.4h1v1h-1zM303.4 117.4h1v1h-1zM294.9 119.4h1v1h-1zM298.4 107.4h1v1h-1zM301.4 109.4h1v1h-1zM303.4 135.4h1v1h-1zM299.9 108h1v1h-1zM294.9 127h1v1h-1zM294.9 120h1v1h-1zM302.4 109h1v1h-1zM294.9 124.4h1v1h-1zM303.4 136.4h1v1h-1zM303.9 126h1v1h-1zM303.9 134.4h1v1h-1zM295.9 110h1v1h-1zM300.4 108h1v1h-1zM294.4 109.4h1v1h-1zM301.9 109h1v1h-1zM304.4 121.4h1v1h-1zM294.4 136.4h1v1h-1zM299.9 108.4h1v1h-1zM298.4 106.4h1v1h-1zM297.9 107h1v1h-1zM302.4 109h1v1h-1zM304.4 120h1v1h-1zM297.4 108.4h1v1h-1zM301.9 108h1v1h-1zM296.9 110h1v1h-1zM299.4 109.4h1v1h-1zM294.9 135h1v1h-1zM294.9 118h1v1h-1zM301.4 108.4h1v1h-1zM304.4 124h1v1h-1zM299.4 108.4h1v1h-1zM303.4 115.4h1v1h-1zM303.9 128h1v1h-1zM294.4 116h1v1h-1z"/>
<path fill="#50418c" d="M303.9 123h1v1h-1zM294.9 120h1v1h-1zM303.4 137.4h1v1h-1zM303.4 128h1v1h-1zM294.4 124.4h1v1h-1zM294.9 113h1v1h-1zM300.4 109h1v1h-1zM296.4 110h1v1h-1zM295.4 119.4h1v1h-1zM299.9 108.4h1v1h-1zM293.9 115.4h1v1h-1zM303.4 116h1v1h-1zM294.9 136.4h1v1h-1zM303.4 118h1v1h-1zM303.4 126.4h1v1h-1zM294.9 115h1v1h-1zM298.4 108h1v1h-1zM303.4 137h1v1h-1zM294.4 129h1v1h-1zM296.4 109.4h1v1h-1zM299.9 107.4h1v1h-1zM303.9 125h1v1h-1zM295.4 124h1v1h-1zM294.9 135h1v1h-1zM294.9 124h1v1h-1zM294.9 120h1v1h-1zM294.9 131.4h1v1h-1zM302.9 118.4h1v1h-1zM297.9 109h1v1h-1zM303.9 129.4h1v1h-1zM295.4 134h1v1h-1zM298.9 108.4h1v1h-1zM294.9 135h1v1h-1zM301.9 110.4h1v1h-1zM303.4 121.4h1v1h-1zM298.9 108h1v1h-1zM296.4 138.4h1v1h-1z"/>
<path fill="#4b418c" d="M295.4 127h1v1h-1zM302.9 113h1v1h-1zM294.4 116.4h1v1h-1zM295.4 111h1v1h-1zM295.4 122.4h1v1h-1zM296.4 136.4h1v1h-1zM303.4 128.4h1v1h-1zM298.4 109.4h1v1h-1zM302.9 137h1v1h-1zM295.9 122h1v1h-1zM294.9 120.4h1v1h-1zM303.9 120.4h1v1h-1zM303.4 131.4h1v1h-1zM301.4 107.4h1v1h-1zM296.4 111h1v1h-1zM299.9 109.4h1v1h-1zM301.9 138h1v1h-1zM295.4 134.4h1v1h-1zM295.4 112h1v1h-1zM302.9 118h1v1h-1zM303.4 120h1v1h-1zM303.4 117h1v1h-1zM301.9 110.4h1v1h-1zM303.4 128h1v1h-1zM295.4 131.4h1v1h-1zM294.9 119.4h1v1h-1zM303.4 119.4h1v1h-1zM303.4 127.4h1v1h-1zM302.9 118.4h1v1h-1zM295.9 112.4h1v1h-1zM294.9 120h1v1h-1zM302.9 123.4h1v1h-1zM295.4 133.4h1v1h-1zM303.4 131.4h1v1h-1zM303.4 125h1v1h-1zM300.4 108.4h1v1h-1z"/>
<path fill="#4b4187" d="M295.9 118.4h1v1h-1zM295.4 119.4h1v1h-1zM302.9 129h1v1h-1zM302.9 123.4h1v1h-1zM298.4 110.4h1v1h-1zM296.4 114h1v1h-1zM302.9 137.4h1v1h-1zM295.4 127h1v1h-1zM295.4 121.4h1v1h-1zM302.9 127.4h1v1h-1zM296.4 138h1v1h-1zM295.4 120.4h1v1h-1zM302.4 132.4h1v1h-1zM295.9 125.4h1v1h-1zM303.4 137h1v1h-1zM295.4 116h1v1h-1zM296.4 130.4h1v1h-1zM295.4 120.4h1v1h-1zM302.4 112.4h1v1h-1zM299.4 108h1v1h-1zM302.9 129h1v1h-1zM299.4 109.4h1v1h-1zM303.4 127.4h1v1h-1zM296.4 114.4h1v1h-1zM294.9 117.4h1v1h-1zM294.4 122.4h1v1h-1zM301.9 138.4h1v1h-1zM295.4 120h1v1h-1zM295.9 114.4h1v1h-1zM295.4 131h1v1h-1zM299.4 110h1v1h-1zM302.9 132h1v1h-1zM302.9 125.4h1v1h-1zM295.4 122.4h1v1h-1zM297.4 114h1v1h-1zM299.4 110h1v1h-1zM299.4 110.4h1v1h-1zM301.9 111.4h1v1h-1zM299.4 110.4h1v1h-1zM301.9 112h1v1h-1z"/>
<path fill="#464187" d="M295.9 126h1v1h-1zM295.9 116h1v1h-1zM303.4 124.4h1v1h-1zM302.9 117h1v1h-1zM298.4 109h1v1h-1zM302.9 128h1v1h-1zM295.9 125.4h1v1h-1zM295.9 123h1v1h-1zM302.9 121h1v1h-1zM302.9 135.4h1v1h-1zM296.4 127h1v1h-1zM302.4 115.4h1v1h-1zM302.4 113.4h1v1h-1zM296.4 132h1v1h-1zM295.9 137h1v1h-1zM301.9 111h1v1h-1zM303.4 116h1v1h-1z"/>
<path fill="#464182" d="M302.4 120h1v1h-1zM296.4 117.4h1v1h-1zM296.4 131.4h1v1h-1zM297.4 112h1v1h-1z"/>
<path fill="#463c82" d="M301.9 121h1v1h-1zM303.4 118h1v1h-1zM296.4 114h1v1h-1zM299.9 110.4h1v1h-1zM301.9 133.4h1v1h-1zM295.9 132h1v1h-1zM302.9 129.4h1v1h-1zM296.4 116.4h1v1h-1zM302.9 122.4h1v1h-1zM302.4 125h1v1h-1zM295.9 120.4h1v1h-1zM296.4 128h1v1h-1zM302.4 120h1v1h-1zM301.9 112.4h1v1h-1zM295.9 129h1v1h-1zM296.9 138h1v1h-1zM295.9 125h1v1h-1zM295.9 132.4h1v1h-1zM302.4 130.4h1v1h-1zM302.4 118h1v1h-1zM295.9 119h1v1h-1zM302.9 121.4h1v1h-1zM302.4 117h1v1h-1zM296.4 126.4h1v1h-1zM302.4 134h1v1h-1zM296.4 119h1v1h-1zM298.4 111h1v1h-1zM295.9 128h1v1h-1zM300.4 111h1v1h-1zM297.4 111h1v1h-1zM296.9 137.4h1v1h-1zM296.9 128h1v1h-1zM296.4 114.4h1v1h-1zM302.4 118.4h1v1h-1zM301.9 135h1v1h-1zM296.9 115.4h1v1h-1zM296.4 116h1v1h-1zM302.4 117h1v1h-1zM302.4 115.4h1v1h-1zM296.9 137.4h1v1h-1zM302.4 123.4h1v1h-1zM296.9 131.4h1v1h-1zM296.9 136h1v1h-1zM296.9 136h1v1h-1zM301.9 137.4h1v1h-1zM295.4 119.4h1v1h-1zM296.4 125h1v1h-1zM295.9 120.4h1v1h-1zM295.9 119.4h1v1h-1zM295.9 116.4h1v1h-1zM300.4 110h1v1h-1zM302.9 134h1v1h-1zM297.4 113h1v1h-1zM295.9 122.4h1v1h-1zM296.4 130h1v1h-1z"/>
<path fill="#413c82" d="M296.9 113.4h1v1h-1zM296.4 121h1v1h-1zM297.9 137.4h1v1h-1zM297.4 111.4h1v1h-1zM302.4 119.4h1v1h-1zM302.4 133h1v1h-1zM296.9 119.4h1v1h-1zM296.9 133.4h1v1h-1zM296.4 116h1v1h-1zM301.9 138h1v1h-1zM296.9 136.4h1v1h-1zM303.4 132h1v1h-1zM295.9 122h1v1h-1z"/>
<path fill="#413c7d" d="M302.4 125.4h1v1h-1zM298.9 138.4h1v1h-1zM300.9 112h1v1h-1zM296.9 118h1v1h-1zM300.4 111h1v1h-1zM297.9 111.4h1v1h-1zM296.9 128h1v1h-1zM299.9 112.4h1v1h-1zM301.9 135.4h1v1h-1zM301.9 116.4h1v1h-1zM300.9 113.4h1v1h-1zM302.4 115h1v1h-1zM301.9 132.4h1v1h-1zM298.9 111.4h1v1h-1zM296.9 138h1v1h-1zM301.9 135h1v1h-1zM296.4 131h1v1h-1zM301.9 133h1v1h-1zM298.9 112h1v1h-1zM301.9 117h1v1h-1zM296.9 115h1v1h-1zM296.4 125h1v1h-1zM299.9 111.4h1v1h-1zM302.4 121.4h1v1h-1zM296.4 121.4h1v1h-1zM301.9 130h1v1h-1zM296.9 123h1v1h-1zM302.4 130h1v1h-1zM298.9 111.4h1v1h-1zM299.4 110h1v1h-1zM296.4 134h1v1h-1zM296.4 127.4h1v1h-1zM296.4 134.4h1v1h-1zM296.4 127.4h1v1h-1zM295.9 130h1v1h-1zM296.4 121.4h1v1h-1zM295.9 129h1v1h-1zM296.9 115h1v1h-1zM302.4 127.4h1v1h-1zM296.9 134.4h1v1h-1zM302.4 127.4h1v1h-1zM297.9 114h1v1h-1zM296.4 121.4h1v1h-1zM296.9 132.4h1v1h-1zM301.4 113.4h1v1h-1zM302.4 133.4h1v1h-1zM296.9 127h1v1h-1zM297.9 112h1v1h-1zM301.9 122h1v1h-1zM296.9 126.4h1v1h-1zM301.9 119h1v1h-1zM301.9 133h1v1h-1zM301.9 129.4h1v1h-1zM300.4 110.4h1v1h-1zM301.4 126h1v1h-1zM301.9 130h1v1h-1zM300.4 111.4h1v1h-1zM298.4 113.4h1v1h-1zM302.4 132h1v1h-1zM302.4 117h1v1h-1zM301.9 134.4h1v1h-1zM301.9 133h1v1h-1z"/>
<path fill="#41417d" d="M296.4 129.4h1v1h-1zM296.9 113h1v1h-1zM302.4 122.4h1v1h-1zM300.9 113h1v1h-1zM299.9 138h1v1h-1zM301.9 120h1v1h-1z"/>
<path fill="#46417d" d="M296.9 115.4h1v1h-1zM296.9 114.4h1v1h-1zM301.9 118.4h1v1h-1zM297.4 135.4h1v1h-1zM301.4 136h1v1h-1zM297.4 113.4h1v1h-1zM296.4 133.4h1v1h-1zM297.4 131.4h1v1h-1zM297.4 120.4h1v1h-1zM299.9 112.4h1v1h-1zM296.4 127.4h1v1h-1zM297.4 136h1v1h-1zM301.4 112h1v1h-1zM300.9 111.4h1v1h-1zM301.4 114.4h1v1h-1zM301.9 119h1v1h-1zM301.4 115h1v1h-1zM297.4 115h1v1h-1zM297.4 118h1v1h-1zM300.9 123.4h1v1h-1z"/>
<path fill="#46467d" d="M296.4 128h1v1h-1zM302.4 121h1v1h-1zM302.4 125.4h1v1h-1zM299.9 112h1v1h-1zM301.9 117.4h1v1h-1zM301.4 126h1v1h-1zM296.4 127h1v1h-1zM301.9 136.4h1v1h-1zM297.4 133.4h1v1h-1zM296.9 129h1v1h-1zM297.4 131.4h1v1h-1zM297.4 112h1v1h-1zM296.4 125h1v1h-1zM301.4 120.4h1v1h-1zM297.9 137h1v1h-1zM296.9 134h1v1h-1z"/>
<path fill="#4b467d" d="M297.9 138h1v1h-1zM296.9 125.4h1v1h-1zM297.4 121h1v1h-1zM296.9 122.4h1v1h-1zM298.9 137.4h1v1h-1zM300.4 137h1v1h-1zM301.9 123h1v1h-1zM301.4 131.4h1v1h-1z"/>
<path fill="#4b4b7d" d="M300.4 136.4h1v1h-1zM298.4 115h1v1h-1zM298.4 137h1v1h-1zM301.4 126h1v1h-1zM301.4 120h1v1h-1zM296.4 133h1v1h-1zM297.4 119.4h1v1h-1zM297.4 118h1v1h-1zM300.4 112.4h1v1h-1z"/>
<path fill="#4b4b82" d="M301.9 121.4h1v1h-1zM297.4 125.4h1v1h-1zM297.4 123.4h1v1h-1zM296.9 126h1v1h-1zM300.9 137h1v1h-1zM296.9 123h1v1h-1zM301.4 118h1v1h-1zM300.9 129.4h1v1h-1zM301.4 127.4h1v1h-1zM297.9 132.4h1v1h-1zM296.4 128h1v1h-1zM297.9 133.4h1v1h-1zM298.4 137.4h1v1h-1zM298.4 114h1v1h-1zM297.9 137h1v1h-1zM296.9 135h1v1h-1zM297.4 133h1v1h-1zM301.9 125h1v1h-1z"/>
<path fill="#504b82" d="M299.4 112h1v1h-1zM297.9 136h1v1h-1zM298.4 136h1v1h-1z"/>
<path fill="#505082" d="M301.9 121.4h1v1h-1zM297.4 122.4h1v1h-1zM300.9 133.4h1v1h-1zM298.4 116h1v1h-1zM297.4 122h1v1h-1zM301.4 123h1v1h-1zM297.9 112h1v1h-1zM301.9 131h1v1h-1zM301.4 125.4h1v1h-1zM300.4 113.4h1v1h-1zM297.4 123.4h1v1h-1zM299.9 115h1v1h-1zM296.9 131h1v1h-1zM297.4 136h1v1h-1zM301.9 122.4h1v1h-1zM298.4 133.4h1v1h-1zM297.4 130.4h1v1h-1zM299.4 136.4h1v1h-1zM301.9 121.4h1v1h-1zM300.9 133.4h1v1h-1zM297.4 132.4h1v1h-1zM300.9 135.4h1v1h-1zM300.9 137.4h1v1h-1zM296.9 131.4h1v1h-1zM296.9 133h1v1h-1zM301.4 128h1v1h-1zM299.9 112.4h1v1h-1zM297.4 128.4h1v1h-1zM297.9 114h1v1h-1zM301.4 122.4h1v1h-1zM296.9 127.4h1v1h-1zM298.4 137.4h1v1h-1zM300.9 114h1v1h-1zM298.4 136.4h1v1h-1zM299.4 114h1v1h-1z"/>
<path fill="#505582" d="M298.4 136.4h1v1h-1zM300.9 132h1v1h-1zM297.4 124.4h1v1h-1z"/>
<path fill="#555582" d="M301.4 118h1v1h-1zM300.4 113.4h1v1h-1zM296.9 118h1v1h-1zM300.4 132.4h1v1h-1zM301.4 120h1v1h-1zM298.4 130h1v1h-1zM300.9 131h1v1h-1zM297.4 134.4h1v1h-1zM300.9 116h1v1h-1zM301.4 120h1v1h-1zM297.9 126.4h1v1h-1zM301.4 120h1v1h-1zM300.9 129.4h1v1h-1zM297.9 132.4h1v1h-1zM300.9 129.4h1v1h-1zM300.9 129h1v1h-1zM297.9 115h1v1h-1zM301.9 131.4h1v1h-1zM298.9 129.4h1v1h-1zM296.9 122.4h1v1h-1zM298.4 120.4h1v1h-1zM299.4 135h1v1h-1zM297.9 116h1v1h-1zM301.9 129.4h1v1h-1zM296.9 132h1v1h-1zM301.4 132.4h1v1h-1zM297.4 123h1v1h-1zM301.4 114h1v1h-1zM300.4 125.4h1v1h-1zM297.4 125h1v1h-1z"/>
<path fill="#555a82" d="M297.9 135.4h1v1h-1zM299.4 113.4h1v1h-1zM299.9 121.4h1v1h-1zM298.4 131.4h1v1h-1zM301.4 133.4h1v1h-1zM297.4 136.4h1v1h-1zM299.9 137.4h1v1h-1zM297.4 133.4h1v1h-1zM297.9 119.4h1v1h-1zM296.9 121.4h1v1h-1zM301.4 134.4h1v1h-1z"/>
<path fill="#5a5a82" d="M300.4 116h1v1h-1zM297.9 132.4h1v1h-1zM301.4 123.4h1v1h-1zM297.9 135h1v1h-1zM300.4 137h1v1h-1zM301.4 121h1v1h-1zM297.9 127.4h1v1h-1zM299.9 135h1v1h-1zM297.9 124.4h1v1h-1zM298.9 118h1v1h-1zM298.4 128.4h1v1h-1zM301.4 130.4h1v1h-1zM301.4 123.4h1v1h-1zM298.4 122.4h1v1h-1zM301.4 133.4h1v1h-1zM300.9 132.4h1v1h-1zM298.9 126.4h1v1h-1zM300.9 124h1v1h-1zM297.9 120h1v1h-1zM298.4 124.4h1v1h-1zM298.9 120h1v1h-1zM297.9 124h1v1h-1zM300.4 125.4h1v1h-1zM301.9 135.4h1v1h-1zM301.4 127h1v1h-1zM301.4 118.4h1v1h-1zM300.4 128h1v1h-1zM297.4 118.4h1v1h-1z"/>
<path fill="#5a5f82" d="M298.9 115h1v1h-1zM300.4 119h1v1h-1zM300.4 129h1v1h-1zM301.4 125h1v1h-1zM298.4 116h1v1h-1zM300.4 131.4h1v1h-1zM298.4 133h1v1h-1zM298.4 131.4h1v1h-1zM298.4 122h1v1h-1zM301.9 120.4h1v1h-1zM300.4 137h1v1h-1zM300.9 134h1v1h-1zM300.4 119.4h1v1h-1zM300.9 136h1v1h-1zM298.4 131h1v1h-1zM300.9 128.4h1v1h-1zM297.9 127h1v1h-1zM301.4 135h1v1h-1zM299.9 114h1v1h-1zM298.4 114h1v1h-1zM300.4 135h1v1h-1zM297.9 128.4h1v1h-1zM301.4 132h1v1h-1zM298.9 133h1v1h-1zM299.4 137h1v1h-1z"/>
<path fill="#5f5f82" d="M298.9 115h1v1h-1zM297.4 123.4h1v1h-1z"/>
<path fill="#5f5f87" d="M300.9 133h1v1h-1zM300.9 124.4h1v1h-1zM297.4 129.4h1v1h-1zM298.9 126.4h1v1h-1zM298.9 118h1v1h-1zM298.9 116.4h1v1h-1zM297.9 131.4h1v1h-1zM297.9 126.4h1v1h-1zM300.9 121h1v1h-1zM301.4 117h1v1h-1zM300.9 128h1v1h-1zM297.9 121.4h1v1h-1zM299.9 137h1v1h-1zM301.4 129h1v1h-1z"/>
<path fill="#5f6487" d="M298.4 120h1v1h-1zM300.4 127h1v1h-1zM297.9 128.4h1v1h-1zM298.4 125.4h1v1h-1zM298.4 118.4h1v1h-1zM300.4 118.4h1v1h-1zM298.4 119.4h1v1h-1zM299.9 136.4h1v1h-1zM298.9 136h1v1h-1zM298.4 123h1v1h-1zM300.9 114.4h1v1h-1zM297.9 127.4h1v1h-1zM297.9 121h1v1h-1zM299.4 137.4h1v1h-1zM297.4 131.4h1v1h-1zM300.4 129h1v1h-1zM298.9 121.4h1v1h-1zM298.9 129h1v1h-1zM299.9 137h1v1h-1zM297.4 132h1v1h-1zM298.9 128h1v1h-1zM299.4 136.4h1v1h-1zM297.4 126.4h1v1h-1zM300.4 133.4h1v1h-1zM299.4 135.4h1v1h-1zM299.9 136h1v1h-1zM300.9 120h1v1h-1zM300.4 132.4h1v1h-1zM298.4 117h1v1h-1zM299.4 133h1v1h-1zM299.4 122.4h1v1h-1zM300.9 125.4h1v1h-1zM298.4 119.4h1v1h-1zM298.9 121h1v1h-1zM298.9 130h1v1h-1zM298.9 116h1v1h-1zM298.9 120.4h1v1h-1zM299.4 133.4h1v1h-1z"/>
<path fill="#646487" d="M299.9 130h1v1h-1zM299.9 130h1v1h-1zM301.4 130h1v1h-1zM300.4 130h1v1h-1zM298.4 120h1v1h-1zM300.4 120.4h1v1h-1zM297.4 133h1v1h-1z"/>
<path fill="#646987" d="M299.9 119h1v1h-1zM299.4 130.4h1v1h-1zM299.4 134.4h1v1h-1zM299.4 130.4h1v1h-1zM297.9 129.4h1v1h-1zM300.9 119.4h1v1h-1zM298.9 115.4h1v1h-1zM300.4 123.4h1v1h-1zM298.9 116.4h1v1h-1zM299.4 137h1v1h-1zM298.4 117h1v1h-1zM298.4 133h1v1h-1zM300.9 126h1v1h-1zM297.4 120h1v1h-1zM299.9 126.4h1v1h-1zM299.9 124.4h1v1h-1zM299.9 132.4h1v1h-1zM299.4 123h1v1h-1zM297.9 117.4h1v1h-1zM299.4 116h1v1h-1z"/>
<path fill="#646982" d="M298.4 121.4h1v1h-1z"/>
<path fill="#696982" d="M298.4 124h1v1h-1zM300.4 133h1v1h-1z"/>
<path fill="#696e82" d="M298.9 115.4h1v1h-1zM299.4 131.4h1v1h-1zM297.9 123.4h1v1h-1zM299.9 123h1v1h-1zM298.4 121h1v1h-1zM298.9 126h1v1h-1zM298.9 128.4h1v1h-1zM299.4 130.4h1v1h-1zM297.9 122h1v1h-1zM300.9 132h1v1h-1zM299.4 118h1v1h-1zM298.9 123h1v1h-1zM300.9 126.4h1v1h-1zM297.9 133h1v1h-1zM301.4 133.4h1v1h-1zM298.9 122h1v1h-1zM300.4 125.4h1v1h-1z"/>
<path fill="#6e7382" d="M297.9 126h1v1h-1zM298.9 125h1v1h-1zM299.9 122.4h1v1h-1zM299.4 125.4h1v1h-1zM299.4 117.4h1v1h-1zM298.4 134.4h1v1h-1zM298.9 131.4h1v1h-1zM300.9 128h1v1h-1zM299.4 123h1v1h-1zM298.9 127h1v1h-1zM299.4 129.4h1v1h-1zM298.9 130h1v1h-1zM297.9 123.4h1v1h-1zM299.9 119h1v1h-1zM299.9 135.4h1v1h-1zM299.4 117.4h1v1h-1zM300.4 127.4h1v1h-1zM300.4 126.4h1v1h-1z"/>
<path fill="#6e7882" d="M298.9 125.4h1v1h-1z"/>
<path fill="#737882" d="M298.4 118h1v1h-1zM299.4 131h1v1h-1zM298.4 123.4h1v1h-1zM299.9 119h1v1h-1zM298.9 123h1v1h-1zM298.9 132h1v1h-1zM300.4 118h1v1h-1zM300.4 123h1v1h-1zM299.4 125h1v1h-1zM299.4 123h1v1h-1zM299.9 131h1v1h-1z"/>
<path fill="#737d7d" d="M298.4 121h1v1h-1zM299.9 123.4h1v1h-1z"/>
<path fill="#787d7d" d="M299.4 128h1v1h-1zM298.9 120.4h1v1h-1zM300.4 129.4h1v1h-1zM300.9 115.4h1v1h-1zM299.4 125h1v1h-1zM299.9 115h1v1h-1zM299.9 122h1v1h-1z"/>
<path fill="#78827d" d="M299.4 123h1v1h-1z"/>
<path fill="#7d827d" d="M299.4 125.4h1v1h-1zM299.9 119.4h1v1h-1zM299.4 127h1v1h-1zM298.9 125.4h1v1h-1zM299.4 131.4h1v1h-1zM299.4 121h1v1h-1z"/>
<path fill="#7d877d" d="M300.4 119h1v1h-1zM299.9 127.4h1v1h-1z"/>
<path fill="#828c78" d="M299.4 127h1v1h-1zM298.9 121h1v1h-1z"/>
<path fill="#878c78" d="M298.9 122h1v1h-1zM298.9 116.4h1v1h-1z"/>
<path fill="#879178" d="M299.4 132h1v1h-1z"/>
<path fill="#8c9178" d="M300.4 129.4h1v1h-1z"/>
<path fill="#919673" d="M299.9 133.4h1v1h-1z"/>
</g>
<path d="M274.20 18.45V140.45M221.40 103.40H346.20" stroke="#a46c7e" stroke-width="0.9" fill="none"/>
<rect x="221.40" y="18.45" width="124.80" height="122.00" fill="none" stroke="#111" stroke-width="1.4"/>
<path d="M221.40 140.45v3M221.40 140.45h-3M230.79 140.45v1.7M221.40 131.27h-1.7M236.29 140.45v1.7M221.40 125.90h-1.7M240.18 140.45v1.7M221.40 122.09h-1.7M243.21 140.45v2.4M221.40 119.13h-2.4M245.68 140.45v1.7M221.40 116.72h-1.7M247.77 140.45v1.7M221.40 114.67h-1.7M249.58 140.45v1.7M221.40 112.91h-1.7M251.17 140.45v1.7M221.40 111.35h-1.7M252.60 140.45v3M221.40 109.95h-3M261.99 140.45v1.7M221.40 100.77h-1.7M267.49 140.45v1.7M221.40 95.40h-1.7M271.38 140.45v1.7M221.40 91.59h-1.7M274.41 140.45v2.4M221.40 88.63h-2.4M276.88 140.45v1.7M221.40 86.22h-1.7M278.97 140.45v1.7M221.40 84.17h-1.7M280.78 140.45v1.7M221.40 82.41h-1.7M282.37 140.45v1.7M221.40 80.85h-1.7M283.80 140.45v3M221.40 79.45h-3M293.19 140.45v1.7M221.40 70.27h-1.7M298.69 140.45v1.7M221.40 64.90h-1.7M302.58 140.45v1.7M221.40 61.09h-1.7M305.61 140.45v2.4M221.40 58.13h-2.4M308.08 140.45v1.7M221.40 55.72h-1.7M310.17 140.45v1.7M221.40 53.67h-1.7M311.98 140.45v1.7M221.40 51.91h-1.7M313.57 140.45v1.7M221.40 50.35h-1.7M315.00 140.45v3M221.40 48.95h-3M324.39 140.45v1.7M221.40 39.77h-1.7M329.89 140.45v1.7M221.40 34.40h-1.7M333.78 140.45v1.7M221.40 30.59h-1.7M336.81 140.45v2.4M221.40 27.63h-2.4M339.28 140.45v1.7M221.40 25.22h-1.7M341.37 140.45v1.7M221.40 23.17h-1.7M343.18 140.45v1.7M221.40 21.41h-1.7M344.77 140.45v1.7M221.40 19.85h-1.7M346.20 140.45v3M221.40 18.45h-3" stroke="#111" stroke-width="0.9" fill="none"/>
<text class="k" x="220.65" y="153.85" text-anchor="middle">10<tspan class="s" dy="-3.3">0</tspan></text>
<text class="k" x="216.80" y="144.15" text-anchor="end">10<tspan class="s" dy="-3.3">0</tspan></text>
<text class="k" x="251.65" y="153.85" text-anchor="middle">10<tspan class="s" dy="-3.3">1</tspan></text>
<text class="k" x="216.80" y="113.65" text-anchor="end">10<tspan class="s" dy="-3.3">1</tspan></text>
<text class="k" x="281.55" y="153.85" text-anchor="middle">10<tspan class="s" dy="-3.3">2</tspan></text>
<text class="k" x="216.80" y="83.15" text-anchor="end">10<tspan class="s" dy="-3.3">2</tspan></text>
<text class="k" x="314.45" y="153.85" text-anchor="middle">10<tspan class="s" dy="-3.3">3</tspan></text>
<text class="k" x="216.80" y="52.65" text-anchor="end">10<tspan class="s" dy="-3.3">3</tspan></text>
<text class="k" x="343.35" y="153.85" text-anchor="middle">10<tspan class="s" dy="-3.3">4</tspan></text>
<text class="k" x="216.80" y="22.15" text-anchor="end">10<tspan class="s" dy="-3.3">4</tspan></text>
<text class="t" x="281.15" y="11.25" text-anchor="middle">48 hours</text>
<text class="q" x="224.80" y="28.25">0.48</text>
<text class="q" x="342.60" y="28.25" text-anchor="end">0.29</text>
<text class="q" x="224.80" y="136.75">11.8</text>
<text class="q" x="342.60" y="136.75" text-anchor="end">87.4</text>
<text class="b" x="310.20" y="57.85" text-anchor="middle">99.7%</text>
<text class="i" x="310.20" y="70.65" text-anchor="middle">Inhibition</text>
<g filter="url(#bl)">
<path fill="#a0a0be" d="M484 120h1v1h-1zM482.5 108h1v1h-1zM443.5 105h1v1h-1zM486 109h1v1h-1zM445.5 116h1v1h-1zM444.5 112.4h1v1h-1zM449.5 101h1v1h-1zM448.5 134h1v1h-1zM484 137h1v1h-1zM482.5 119.4h1v1h-1zM445 122.4h1v1h-1zM447.5 134.4h1v1h-1zM482 116h1v1h-1zM477 104.4h1v1h-1zM462 95.4h1v1h-1zM452 96h1v1h-1zM467.5 96h1v1h-1zM466.5 97h1v1h-1zM472 101h1v1h-1zM465 98h1v1h-1zM415 130h1v1h-1zM417.5 103h1v1h-1zM409.5 124h1v1h-1zM392.5 105.4h1v1h-1zM424 105.4h1v1h-1zM398 133.4h1v1h-1zM415.5 110.4h1v1h-1zM422.5 116.4h1v1h-1zM415.5 115.4h1v1h-1zM420.5 91h1v1h-1zM409.5 111.4h1v1h-1zM406.5 119h1v1h-1zM404 114h1v1h-1zM394 117h1v1h-1zM397.5 122h1v1h-1zM404.5 127h1v1h-1zM403.5 131h1v1h-1zM417.5 118.4h1v1h-1zM395 109.4h1v1h-1zM427.5 120.4h1v1h-1zM389.5 118h1v1h-1zM399.5 124.4h1v1h-1zM420 101.4h1v1h-1zM408 103.4h1v1h-1zM415 120h1v1h-1zM407.5 117.4h1v1h-1zM409.5 120.4h1v1h-1zM413.5 120h1v1h-1zM416 119.4h1v1h-1zM412 112.4h1v1h-1zM419 130.4h1v1h-1zM423.5 114h1v1h-1zM417 121.4h1v1h-1zM404 120h1v1h-1zM404.5 123.4h1v1h-1zM393 116.4h1v1h-1zM419 114.4h1v1h-1zM404 102.4h1v1h-1zM399 116.4h1v1h-1zM391 123.4h1v1h-1zM430.5 108.4h1v1h-1zM403 123h1v1h-1zM396.5 123.4h1v1h-1zM397.5 121.4h1v1h-1zM412.5 99h1v1h-1zM395.5 119h1v1h-1zM422 123h1v1h-1zM400 125h1v1h-1zM401 95h1v1h-1zM419 119.4h1v1h-1zM418.5 123h1v1h-1zM414.5 122h1v1h-1zM405 107.4h1v1h-1zM398.5 106h1v1h-1zM416 109h1v1h-1zM394.5 114h1v1h-1zM404 131.4h1v1h-1zM410.5 115h1v1h-1zM418 111h1v1h-1zM402 120.4h1v1h-1zM411 130.4h1v1h-1zM418 115h1v1h-1zM403 107h1v1h-1zM406 122.4h1v1h-1zM422.5 117.4h1v1h-1zM417 111h1v1h-1zM414.5 118h1v1h-1z"/>
<path fill="#a09bbe" d="M482.5 118h1v1h-1zM446 119.4h1v1h-1zM405.5 118h1v1h-1zM399.5 122h1v1h-1zM417 118h1v1h-1zM400 123h1v1h-1zM403 97h1v1h-1zM420 113h1v1h-1zM404.5 117.4h1v1h-1z"/>
<path fill="#a09bb9" d="M439 128h1v1h-1zM480 117h1v1h-1zM448.5 124h1v1h-1zM395 113h1v1h-1zM401.5 116.4h1v1h-1zM400.5 105h1v1h-1zM404.5 115.4h1v1h-1zM396.5 115h1v1h-1zM423 116h1v1h-1zM395 120h1v1h-1zM416.5 125.4h1v1h-1zM404.5 122.4h1v1h-1zM421 118.4h1v1h-1zM413.5 123h1v1h-1zM403.5 130.4h1v1h-1zM425.5 117h1v1h-1zM409 112h1v1h-1zM422.5 117h1v1h-1z"/>
<path fill="#9b96b9" d="M445 114h1v1h-1zM482 113h1v1h-1zM446.5 130.4h1v1h-1zM476.5 105.4h1v1h-1zM449 107.4h1v1h-1zM477.5 134h1v1h-1zM478 111.4h1v1h-1zM446.5 122h1v1h-1zM448.5 116h1v1h-1zM476.5 126h1v1h-1zM448.5 108h1v1h-1zM455 102h1v1h-1zM454 100.4h1v1h-1zM457.5 94.4h1v1h-1zM398 115.4h1v1h-1zM405 116.4h1v1h-1zM408 108h1v1h-1zM412.5 114h1v1h-1zM394.5 129.4h1v1h-1zM406.5 115.4h1v1h-1zM401.5 113.4h1v1h-1zM410 122h1v1h-1zM398 117h1v1h-1zM414.5 115h1v1h-1zM410.5 124.4h1v1h-1zM420.5 115h1v1h-1zM408 106.4h1v1h-1zM423 117h1v1h-1zM425 111.4h1v1h-1zM405 123.4h1v1h-1zM411 124h1v1h-1zM401 113.4h1v1h-1zM403.5 104.4h1v1h-1zM411 108h1v1h-1zM392 118.4h1v1h-1zM406 115h1v1h-1zM408 116.4h1v1h-1zM400 121h1v1h-1zM421 130.4h1v1h-1zM403 123h1v1h-1zM413.5 117h1v1h-1zM410 100h1v1h-1zM405.5 115h1v1h-1zM415 125.4h1v1h-1zM406 115.4h1v1h-1zM421 111h1v1h-1zM402.5 115h1v1h-1zM418 111.4h1v1h-1zM403.5 120.4h1v1h-1zM403.5 115.4h1v1h-1zM421 122h1v1h-1zM414.5 110h1v1h-1zM408 126.4h1v1h-1zM400 114h1v1h-1zM416.5 122.4h1v1h-1zM398.5 114.4h1v1h-1zM419 116h1v1h-1zM414.5 119.4h1v1h-1zM402.5 117h1v1h-1zM412 120.4h1v1h-1zM407 123h1v1h-1z"/>
<path fill="#9b91b9" d="M446.5 110.4h1v1h-1zM404.5 114h1v1h-1zM413.5 109.4h1v1h-1zM409 122.4h1v1h-1zM412 119.4h1v1h-1zM401.5 111.4h1v1h-1zM409.5 112h1v1h-1zM403.5 117.4h1v1h-1zM412 119h1v1h-1zM417 117h1v1h-1z"/>
<path fill="#9691b9" d="M448.5 108.4h1v1h-1zM477.5 112h1v1h-1zM451 113h1v1h-1zM478 135h1v1h-1zM450.5 129.4h1v1h-1zM480 136h1v1h-1zM448.5 134h1v1h-1zM477 133h1v1h-1zM476 126.4h1v1h-1zM467 97.4h1v1h-1zM407 118h1v1h-1zM408.5 127.4h1v1h-1zM422.5 96h1v1h-1zM401 117h1v1h-1zM396 102.4h1v1h-1zM408.5 126h1v1h-1zM410.5 118h1v1h-1zM417 127h1v1h-1zM410.5 111h1v1h-1zM415 122h1v1h-1zM405.5 121.4h1v1h-1zM408.5 123h1v1h-1zM416.5 122.4h1v1h-1zM406 110.4h1v1h-1zM406 124h1v1h-1zM402 113.4h1v1h-1zM407.5 114.4h1v1h-1zM407.5 113h1v1h-1zM407.5 113.4h1v1h-1zM411.5 112.4h1v1h-1zM414.5 126h1v1h-1zM405.5 129h1v1h-1z"/>
<path fill="#968cb9" d="M468 101h1v1h-1zM450.5 135h1v1h-1zM450.5 112h1v1h-1zM446.5 106h1v1h-1zM450.5 133.4h1v1h-1zM451.5 102.4h1v1h-1zM406 115.4h1v1h-1zM405 124.4h1v1h-1zM408.5 124h1v1h-1zM416 112h1v1h-1zM419.5 118h1v1h-1zM408 119.4h1v1h-1zM421 118.4h1v1h-1zM405.5 114.4h1v1h-1zM416.5 118h1v1h-1zM414.5 118.4h1v1h-1zM413 112h1v1h-1zM401 124h1v1h-1zM402 127h1v1h-1zM406 122h1v1h-1zM415.5 119.4h1v1h-1zM417.5 109.4h1v1h-1z"/>
<path fill="#918cb9" d="M480.5 105.4h1v1h-1zM450 104.4h1v1h-1zM446 116.4h1v1h-1zM476.5 111.4h1v1h-1zM476 133h1v1h-1zM452 106.4h1v1h-1zM449 108.4h1v1h-1zM483 125h1v1h-1zM477.5 129.4h1v1h-1zM467 97h1v1h-1zM413.5 119.4h1v1h-1zM406 118h1v1h-1zM394.5 119.4h1v1h-1zM404 119.4h1v1h-1zM408.5 120h1v1h-1zM406.5 114h1v1h-1zM418.5 112h1v1h-1zM407.5 118.4h1v1h-1zM407.5 109h1v1h-1zM408 121.4h1v1h-1zM397.5 123h1v1h-1zM412.5 109.4h1v1h-1z"/>
<path fill="#9187b9" d="M451 138h1v1h-1zM449.5 134.4h1v1h-1zM464.5 100.4h1v1h-1zM451 123.4h1v1h-1zM473 123.4h1v1h-1zM449.5 106h1v1h-1zM477.5 100.4h1v1h-1zM467.5 100.4h1v1h-1zM451.5 122h1v1h-1zM481 111h1v1h-1zM458 102h1v1h-1zM406.5 108h1v1h-1zM410 105.4h1v1h-1zM405.5 118.4h1v1h-1zM402 123h1v1h-1zM413 113h1v1h-1zM399.5 121.4h1v1h-1zM409.5 120h1v1h-1zM408.5 115.4h1v1h-1zM405 113.4h1v1h-1zM409.5 118.4h1v1h-1zM422 129h1v1h-1zM417 115.4h1v1h-1zM401 120.4h1v1h-1z"/>
<path fill="#8c87b9" d="M468 102h1v1h-1zM448 115.4h1v1h-1zM467.5 101h1v1h-1zM453.5 103.4h1v1h-1zM412.5 112.4h1v1h-1zM407.5 118h1v1h-1zM406.5 117h1v1h-1zM404.5 116.4h1v1h-1z"/>
<path fill="#8c82b9" d="M448.5 114.4h1v1h-1zM453 124.4h1v1h-1zM469 102.4h1v1h-1zM452 105.4h1v1h-1zM449.5 126.4h1v1h-1zM475.5 125h1v1h-1zM474 116.4h1v1h-1zM450.5 121h1v1h-1zM449.5 109.4h1v1h-1zM469 103h1v1h-1zM449 131h1v1h-1zM474.5 120h1v1h-1zM463.5 98h1v1h-1zM463 101.4h1v1h-1zM420.5 105h1v1h-1zM403.5 119.4h1v1h-1zM408 116.4h1v1h-1zM418.5 116.4h1v1h-1zM410.5 112h1v1h-1zM403 117h1v1h-1zM417.5 113.4h1v1h-1zM398.5 125h1v1h-1zM413 117.4h1v1h-1zM402 112.4h1v1h-1zM400 132h1v1h-1zM404 123h1v1h-1zM400.5 113h1v1h-1zM407 124.4h1v1h-1z"/>
<path fill="#8c82b4" d="M396.5 120.4h1v1h-1z"/>
<path fill="#8782b4" d="M449.5 127.4h1v1h-1zM413 110.4h1v1h-1zM411.5 116.4h1v1h-1z"/>
<path fill="#877db4" d="M449.5 134.4h1v1h-1zM475 138h1v1h-1zM449 109h1v1h-1zM450.5 129.4h1v1h-1zM450 110.4h1v1h-1zM451.5 130.4h1v1h-1zM477 131h1v1h-1zM476 111.4h1v1h-1zM452.5 105h1v1h-1zM474.5 109.4h1v1h-1zM472.5 122.4h1v1h-1zM475.5 107h1v1h-1zM453 134h1v1h-1zM467.5 101h1v1h-1zM478.5 121h1v1h-1zM449 128h1v1h-1zM448.5 120h1v1h-1zM471.5 103h1v1h-1zM411.5 115h1v1h-1zM414.5 114h1v1h-1z"/>
<path fill="#8778b4" d="M473 138.4h1v1h-1zM474 128h1v1h-1zM473.5 122.4h1v1h-1zM473.5 128h1v1h-1zM454.5 104.4h1v1h-1zM450.5 122.4h1v1h-1zM466 102h1v1h-1zM407 106.4h1v1h-1z"/>
<path fill="#8278b4" d="M467.5 102h1v1h-1zM474.5 108h1v1h-1zM452 133.4h1v1h-1zM452 134h1v1h-1zM452 127h1v1h-1zM453 129.4h1v1h-1zM452 135h1v1h-1zM460.5 102.4h1v1h-1zM451.5 119.4h1v1h-1zM472 138h1v1h-1zM449 113h1v1h-1zM473 131.4h1v1h-1zM451.5 105.4h1v1h-1zM405 120h1v1h-1zM404 118h1v1h-1zM407.5 118h1v1h-1zM421.5 114.4h1v1h-1z"/>
<path fill="#8273b4" d="M452 114h1v1h-1zM473.5 117.4h1v1h-1zM473.5 114.4h1v1h-1zM474 117.4h1v1h-1zM452 135h1v1h-1zM452.5 135h1v1h-1zM453 136.4h1v1h-1zM450.5 127.4h1v1h-1zM452 137h1v1h-1zM474.5 112h1v1h-1zM452 109h1v1h-1zM469.5 102.4h1v1h-1zM473.5 122h1v1h-1zM450.5 110.4h1v1h-1zM455 129h1v1h-1zM476.5 125h1v1h-1zM461 102h1v1h-1zM475 115h1v1h-1zM455 104h1v1h-1zM399 121h1v1h-1z"/>
<path fill="#7d73af" d="M463.5 102h1v1h-1zM467.5 103h1v1h-1zM473 113h1v1h-1zM471.5 127h1v1h-1zM473.5 115.4h1v1h-1zM473 132h1v1h-1z"/>
<path fill="#7d6eaf" d="M472.5 131.4h1v1h-1zM472 110.4h1v1h-1zM474 126.4h1v1h-1zM472.5 124h1v1h-1zM473.5 112.4h1v1h-1zM473 106h1v1h-1zM452.5 128.4h1v1h-1zM473.5 124h1v1h-1zM456 104.4h1v1h-1zM459 103h1v1h-1zM456 104.4h1v1h-1zM470.5 128h1v1h-1zM473 126h1v1h-1zM454.5 106h1v1h-1zM472.5 113.4h1v1h-1zM452.5 112h1v1h-1zM471.5 108h1v1h-1zM472.5 113h1v1h-1zM452.5 123.4h1v1h-1zM453.5 134h1v1h-1zM452.5 122h1v1h-1zM472.5 115.4h1v1h-1zM454 106.4h1v1h-1zM475 118.4h1v1h-1zM472.5 129.4h1v1h-1zM453.5 122h1v1h-1zM472 115.4h1v1h-1zM453 105.4h1v1h-1zM453.5 110h1v1h-1zM454 138.4h1v1h-1zM472 107.4h1v1h-1zM454.5 125h1v1h-1zM472.5 121h1v1h-1zM472.5 126h1v1h-1zM463.5 103h1v1h-1z"/>
<path fill="#7d69af" d="M472 123.4h1v1h-1zM453 131h1v1h-1zM462.5 104h1v1h-1zM464.5 103.4h1v1h-1zM473 134.4h1v1h-1zM472.5 129h1v1h-1zM474.5 119h1v1h-1zM454.5 109h1v1h-1z"/>
<path fill="#7869af" d="M471 105.4h1v1h-1zM466.5 103h1v1h-1zM473 120.4h1v1h-1zM472 130.4h1v1h-1zM454 124.4h1v1h-1zM474 117.4h1v1h-1zM473.5 116.4h1v1h-1zM471 118.4h1v1h-1zM454 128.4h1v1h-1zM459 103.4h1v1h-1zM471 116h1v1h-1zM472 136.4h1v1h-1zM472.5 132h1v1h-1zM454 127.4h1v1h-1zM453 132.4h1v1h-1zM472.5 137h1v1h-1zM469.5 106.4h1v1h-1zM471.5 106h1v1h-1zM454 110.4h1v1h-1zM455 109h1v1h-1zM453.5 133h1v1h-1zM472.5 116.4h1v1h-1zM454.5 133.4h1v1h-1zM471 106.4h1v1h-1zM461.5 103h1v1h-1z"/>
<path fill="#7864af" d="M455.5 115.4h1v1h-1zM453.5 118.4h1v1h-1zM454.5 121.4h1v1h-1zM472 130h1v1h-1zM454 109h1v1h-1zM453 107.4h1v1h-1zM472 124h1v1h-1zM472.5 119.4h1v1h-1zM455.5 113.4h1v1h-1zM456 138.4h1v1h-1zM456 106h1v1h-1zM472 127h1v1h-1zM470.5 122h1v1h-1zM471 110h1v1h-1zM470.5 108h1v1h-1zM453 136h1v1h-1zM454.5 118.4h1v1h-1zM454.5 106.4h1v1h-1zM467 105h1v1h-1zM472.5 129.4h1v1h-1zM470.5 106h1v1h-1zM465 104h1v1h-1zM454 107h1v1h-1zM453.5 109h1v1h-1z"/>
<path fill="#7864aa" d="M455.5 129.4h1v1h-1z"/>
<path fill="#7364aa" d="M470.5 124.4h1v1h-1zM453.5 119h1v1h-1zM470.5 135h1v1h-1zM455.5 133.4h1v1h-1zM454 108h1v1h-1z"/>
<path fill="#735faa" d="M454 137h1v1h-1zM460.5 103.4h1v1h-1zM459 104h1v1h-1zM470 117.4h1v1h-1zM456 113.4h1v1h-1zM470.5 134h1v1h-1zM470 107h1v1h-1zM454 136.4h1v1h-1zM463.5 104h1v1h-1zM454.5 137.4h1v1h-1zM454 121.4h1v1h-1zM454.5 110.4h1v1h-1zM455.5 108h1v1h-1zM471.5 128.4h1v1h-1zM471 121h1v1h-1zM455 111h1v1h-1zM455 118h1v1h-1zM455.5 106.4h1v1h-1zM454 123h1v1h-1zM470 134.4h1v1h-1zM468 104.4h1v1h-1zM468.5 104.4h1v1h-1zM471 136.4h1v1h-1zM472.5 117.4h1v1h-1zM455 133.4h1v1h-1zM471.5 129.4h1v1h-1zM454.5 107h1v1h-1zM469 105.4h1v1h-1zM455 117h1v1h-1z"/>
<path fill="#735aaa" d="M455.5 117.4h1v1h-1zM464.5 104h1v1h-1zM471 119.4h1v1h-1zM455 116.4h1v1h-1zM460.5 104h1v1h-1zM454.5 137.4h1v1h-1z"/>
<path fill="#6e5aaa" d="M455 121h1v1h-1zM455 123.4h1v1h-1zM455.5 120h1v1h-1zM471.5 111h1v1h-1zM470 111.4h1v1h-1zM455.5 113h1v1h-1zM471 115h1v1h-1zM471 121h1v1h-1zM457 105.4h1v1h-1zM455.5 125h1v1h-1zM461 104.4h1v1h-1zM470 107.4h1v1h-1zM470 128h1v1h-1zM456.5 108.4h1v1h-1zM466 104h1v1h-1zM458 106h1v1h-1zM455.5 135.4h1v1h-1zM471.5 122.4h1v1h-1zM455 121h1v1h-1zM455.5 120h1v1h-1zM471 130.4h1v1h-1zM458 106h1v1h-1zM470 135.4h1v1h-1zM470.5 131.4h1v1h-1zM455 137h1v1h-1zM471.5 127.4h1v1h-1zM471 133.4h1v1h-1zM464 104h1v1h-1zM456.5 124h1v1h-1z"/>
<path fill="#6e5aa5" d="M470 106h1v1h-1zM455.5 126h1v1h-1zM470.5 125.4h1v1h-1zM457.5 107h1v1h-1zM470.5 129.4h1v1h-1zM469.5 135h1v1h-1zM455.5 127h1v1h-1zM455.5 124.4h1v1h-1zM455.5 133h1v1h-1zM471 135.4h1v1h-1zM456.5 133.4h1v1h-1zM470.5 134.4h1v1h-1zM470 111h1v1h-1zM471 122.4h1v1h-1zM457 107h1v1h-1zM456 113.4h1v1h-1zM470 125.4h1v1h-1zM471 122h1v1h-1zM471.5 111.4h1v1h-1zM470 117.4h1v1h-1zM469.5 138h1v1h-1z"/>
<path fill="#6e55a5" d="M455 116h1v1h-1zM470 112.4h1v1h-1zM457.5 106h1v1h-1zM470 113h1v1h-1zM455.5 127.4h1v1h-1zM456 117h1v1h-1zM456 130h1v1h-1zM460 104.4h1v1h-1zM460 105h1v1h-1z"/>
<path fill="#6955a5" d="M470 135.4h1v1h-1zM457 105.4h1v1h-1zM456.5 110.4h1v1h-1zM456.5 117h1v1h-1zM456 133.4h1v1h-1zM470.5 115h1v1h-1zM456 121h1v1h-1zM456.5 123h1v1h-1zM470.5 112h1v1h-1zM470.5 122h1v1h-1zM467.5 106.4h1v1h-1zM470 114h1v1h-1zM471 119.4h1v1h-1zM456 134.4h1v1h-1zM458 105h1v1h-1zM457 138h1v1h-1zM470.5 126.4h1v1h-1zM456 119.4h1v1h-1zM462.5 104h1v1h-1zM470 127.4h1v1h-1zM470 108.4h1v1h-1zM469 133h1v1h-1zM467 105.4h1v1h-1zM469.5 109h1v1h-1zM468 107h1v1h-1zM456 124h1v1h-1zM467 105.4h1v1h-1zM457 135.4h1v1h-1zM464.5 105h1v1h-1zM456.5 108h1v1h-1zM468.5 135.4h1v1h-1zM456 112h1v1h-1zM469 137h1v1h-1zM456.5 110.4h1v1h-1zM458 136.4h1v1h-1zM470 119.4h1v1h-1zM470 113.4h1v1h-1zM471 125.4h1v1h-1zM456 119.4h1v1h-1zM470 127.4h1v1h-1zM458.5 104.4h1v1h-1zM465 104h1v1h-1z"/>
<path fill="#6955a0" d="M469.5 125.4h1v1h-1zM468.5 107h1v1h-1z"/>
<path fill="#6455a0" d="M459.5 105.4h1v1h-1zM470.5 133h1v1h-1z"/>
<path fill="#6450a0" d="M457 119.4h1v1h-1zM469.5 124.4h1v1h-1zM456.5 122.4h1v1h-1zM469 131h1v1h-1zM458 137h1v1h-1zM456.5 129.4h1v1h-1zM468.5 135h1v1h-1zM469 123h1v1h-1zM470.5 119h1v1h-1zM457 121.4h1v1h-1zM457 134.4h1v1h-1zM457 137.4h1v1h-1zM460 105.4h1v1h-1zM469 135h1v1h-1zM469.5 126.4h1v1h-1zM469.5 110.4h1v1h-1zM469.5 121h1v1h-1zM469.5 131h1v1h-1zM457 136.4h1v1h-1zM456.5 113.4h1v1h-1zM465.5 105h1v1h-1zM469 119h1v1h-1zM457 115.4h1v1h-1zM457 131h1v1h-1zM468.5 110.4h1v1h-1zM458.5 107h1v1h-1zM464.5 105h1v1h-1zM469.5 125h1v1h-1zM470 116h1v1h-1zM457 124.4h1v1h-1zM468 137h1v1h-1zM469 134h1v1h-1zM458.5 107.4h1v1h-1zM469 114.4h1v1h-1zM456.5 116.4h1v1h-1zM457 108.4h1v1h-1zM457.5 107h1v1h-1zM458 134h1v1h-1zM457.5 134.4h1v1h-1zM468.5 136h1v1h-1zM468 138h1v1h-1zM457 109.4h1v1h-1zM467 106h1v1h-1zM457 135h1v1h-1zM456.5 119.4h1v1h-1zM469.5 131.4h1v1h-1zM464 105h1v1h-1zM470 128h1v1h-1zM464.5 105.4h1v1h-1zM457 117.4h1v1h-1zM468 108h1v1h-1zM456.5 128h1v1h-1zM457 105.4h1v1h-1z"/>
<path fill="#5f50a0" d="M459 137.4h1v1h-1zM458 133h1v1h-1zM469.5 112.4h1v1h-1zM470 119h1v1h-1zM467 138h1v1h-1zM458.5 107.4h1v1h-1zM458 137h1v1h-1zM457.5 134h1v1h-1zM469 112.4h1v1h-1zM461.5 106h1v1h-1z"/>
<path fill="#5f4ba0" d="M457 122.4h1v1h-1zM461 106.4h1v1h-1zM469 110.4h1v1h-1zM459 108h1v1h-1zM459.5 138h1v1h-1zM457.5 110.4h1v1h-1z"/>
<path fill="#5f4b9b" d="M469.5 110h1v1h-1zM459.5 138.4h1v1h-1zM462 105.4h1v1h-1zM457 128h1v1h-1zM458 109h1v1h-1zM458 111h1v1h-1zM457 117h1v1h-1zM461.5 105.4h1v1h-1zM462.5 105h1v1h-1zM468.5 111h1v1h-1zM468.5 136h1v1h-1zM458 111.4h1v1h-1zM468 133.4h1v1h-1zM457 115h1v1h-1zM466 138h1v1h-1zM469.5 122h1v1h-1zM457.5 127.4h1v1h-1zM457.5 121.4h1v1h-1zM469.5 127h1v1h-1zM456.5 132h1v1h-1zM467.5 107.4h1v1h-1zM468.5 115.4h1v1h-1zM457 130.4h1v1h-1zM469 117h1v1h-1zM457.5 116h1v1h-1zM469 122h1v1h-1zM458.5 136.4h1v1h-1zM457.5 114.4h1v1h-1zM467.5 136h1v1h-1zM459 138h1v1h-1zM466 106.4h1v1h-1zM469.5 130h1v1h-1zM458.5 134.4h1v1h-1zM457.5 116h1v1h-1zM458 132.4h1v1h-1zM468 136.4h1v1h-1zM458 122.4h1v1h-1zM459 108.4h1v1h-1zM457.5 129.4h1v1h-1zM468.5 131.4h1v1h-1zM467.5 106.4h1v1h-1zM460.5 105.4h1v1h-1zM461.5 105h1v1h-1z"/>
<path fill="#5a4b9b" d="M469 118.4h1v1h-1zM457 109.4h1v1h-1zM468.5 130.4h1v1h-1zM468.5 110h1v1h-1zM468.5 110.4h1v1h-1zM458.5 111h1v1h-1zM465 105.4h1v1h-1zM457.5 116.4h1v1h-1zM468.5 130h1v1h-1zM457 125.4h1v1h-1zM458 122h1v1h-1zM460.5 106.4h1v1h-1zM468.5 131h1v1h-1zM464.5 138h1v1h-1zM465.5 106.4h1v1h-1zM457.5 122h1v1h-1z"/>
<path fill="#5a469b" d="M463.5 138h1v1h-1zM468.5 128h1v1h-1zM468.5 120.4h1v1h-1zM457.5 118h1v1h-1zM458.5 134.4h1v1h-1zM457.5 127.4h1v1h-1zM468.5 122h1v1h-1zM457.5 116h1v1h-1zM464 105h1v1h-1zM458 114h1v1h-1zM458 111h1v1h-1zM460.5 137.4h1v1h-1zM457.5 122h1v1h-1zM467.5 136h1v1h-1zM467 138h1v1h-1zM466.5 135.4h1v1h-1z"/>
<path fill="#5a4696" d="M468.5 124.4h1v1h-1zM457.5 122h1v1h-1zM458.5 112h1v1h-1zM468.5 127h1v1h-1zM459 137.4h1v1h-1zM464.5 138h1v1h-1zM468.5 116.4h1v1h-1zM459 133.4h1v1h-1zM458.5 118h1v1h-1zM459 136.4h1v1h-1zM466 107h1v1h-1zM468 127.4h1v1h-1zM468 114h1v1h-1z"/>
<path fill="#554696" d="M458.5 124.4h1v1h-1zM466.5 107.4h1v1h-1zM469 119.4h1v1h-1zM458 128h1v1h-1zM467 108h1v1h-1zM467.5 133h1v1h-1zM468 126h1v1h-1zM468.5 125.4h1v1h-1zM468.5 112.4h1v1h-1zM458 116.4h1v1h-1zM458.5 121.4h1v1h-1zM457.5 121.4h1v1h-1zM460.5 107h1v1h-1zM468.5 128.4h1v1h-1zM458 118.4h1v1h-1zM464 137.4h1v1h-1zM459.5 108h1v1h-1zM459 135h1v1h-1zM461 137.4h1v1h-1zM460.5 107h1v1h-1zM458.5 109.4h1v1h-1zM468.5 128.4h1v1h-1zM461 137h1v1h-1zM468 119.4h1v1h-1zM468.5 124.4h1v1h-1zM465.5 138h1v1h-1zM468 123.4h1v1h-1zM468.5 127h1v1h-1zM460.5 107.4h1v1h-1zM463 137h1v1h-1zM458 130.4h1v1h-1zM459 109h1v1h-1zM468.5 113.4h1v1h-1zM458 130.4h1v1h-1zM468.5 111h1v1h-1zM468 127.4h1v1h-1zM460.5 136.4h1v1h-1zM463.5 107h1v1h-1zM458 121h1v1h-1zM468.5 123.4h1v1h-1zM461 137h1v1h-1zM463 106.4h1v1h-1zM468 112.4h1v1h-1zM468.5 112h1v1h-1zM458 132h1v1h-1z"/>
<path fill="#554196" d="M458.5 122.4h1v1h-1zM458 129.4h1v1h-1zM458.5 112.4h1v1h-1zM459 107.4h1v1h-1zM468 128h1v1h-1zM468 119h1v1h-1zM458.5 121h1v1h-1zM464.5 137.4h1v1h-1zM458.5 127h1v1h-1z"/>
<path fill="#554191" d="M458.5 114.4h1v1h-1zM458.5 116.4h1v1h-1zM458.5 111.4h1v1h-1zM458.5 117.4h1v1h-1zM459 133.4h1v1h-1zM468 115h1v1h-1zM463.5 137h1v1h-1zM468 124.4h1v1h-1zM460.5 107.4h1v1h-1zM465 106.4h1v1h-1zM458.5 130.4h1v1h-1zM459 108h1v1h-1zM458.5 112h1v1h-1zM464 137.4h1v1h-1zM459.5 133.4h1v1h-1zM459.5 135.4h1v1h-1zM459.5 133h1v1h-1zM458 121.4h1v1h-1zM467.5 131.4h1v1h-1z"/>
<path fill="#504191" d="M467.5 131h1v1h-1zM458 125h1v1h-1zM464.5 136h1v1h-1zM458.5 126h1v1h-1zM458.5 120.4h1v1h-1zM468 116.4h1v1h-1zM468 123h1v1h-1zM468 119.4h1v1h-1zM458.5 119h1v1h-1zM467.5 126.4h1v1h-1zM468 116.4h1v1h-1zM460 135.4h1v1h-1zM468 120.4h1v1h-1zM468 120.4h1v1h-1zM465 107h1v1h-1zM459 110.4h1v1h-1zM468 130h1v1h-1zM465.5 136h1v1h-1zM464 107.4h1v1h-1zM463.5 138h1v1h-1zM468 114h1v1h-1zM462.5 136h1v1h-1zM468 110.4h1v1h-1zM463.5 137.4h1v1h-1zM460 136.4h1v1h-1zM460.5 135.4h1v1h-1zM462 137h1v1h-1zM459 111.4h1v1h-1zM462 106.4h1v1h-1zM466.5 133h1v1h-1zM460 109.4h1v1h-1zM460.5 136h1v1h-1zM468 126h1v1h-1zM468 117.4h1v1h-1zM468 123h1v1h-1zM459 121.4h1v1h-1zM468 118h1v1h-1zM465.5 108h1v1h-1zM462 136.4h1v1h-1zM468 116h1v1h-1zM467.5 113h1v1h-1zM458.5 120h1v1h-1zM458 123h1v1h-1zM468 120h1v1h-1zM467.5 111h1v1h-1zM465.5 135h1v1h-1zM463.5 107h1v1h-1zM468 113h1v1h-1zM468 117.4h1v1h-1zM468.5 122.4h1v1h-1zM465.5 135h1v1h-1zM468.5 117h1v1h-1z"/>
<path fill="#50418c" d="M459 122.4h1v1h-1zM467.5 114h1v1h-1zM458.5 119.4h1v1h-1zM462 135.4h1v1h-1zM458.5 119.4h1v1h-1zM467 133h1v1h-1zM458.5 130.4h1v1h-1zM467.5 131.4h1v1h-1zM468 120.4h1v1h-1zM466.5 134h1v1h-1zM458.5 114h1v1h-1zM466 108h1v1h-1zM458.5 113.4h1v1h-1zM467.5 121.4h1v1h-1zM458.5 127.4h1v1h-1zM458.5 126.4h1v1h-1zM459 114h1v1h-1zM463 137.4h1v1h-1zM459 121.4h1v1h-1zM466 134.4h1v1h-1zM468 114h1v1h-1zM458.5 126.4h1v1h-1zM467.5 110.4h1v1h-1zM468 123h1v1h-1zM459 130.4h1v1h-1zM459 130h1v1h-1zM460.5 136.4h1v1h-1zM459 122.4h1v1h-1zM466.5 110.4h1v1h-1zM467.5 117.4h1v1h-1zM459.5 110.4h1v1h-1z"/>
<path fill="#4b418c" d="M464.5 137h1v1h-1zM466 135h1v1h-1zM459 128.4h1v1h-1zM459.5 115h1v1h-1zM461.5 108h1v1h-1zM459 123h1v1h-1zM464 108h1v1h-1zM461 134.4h1v1h-1zM463.5 136h1v1h-1zM460 133.4h1v1h-1zM458.5 124.4h1v1h-1zM465 136h1v1h-1zM465 135h1v1h-1zM467.5 122h1v1h-1zM464.5 108h1v1h-1zM458 124h1v1h-1zM463 136h1v1h-1zM462.5 135.4h1v1h-1zM467.5 125h1v1h-1zM465 108.4h1v1h-1zM467 119.4h1v1h-1zM465 135.4h1v1h-1zM467.5 116h1v1h-1zM458.5 112.4h1v1h-1zM462 135.4h1v1h-1zM467.5 113.4h1v1h-1zM467 122.4h1v1h-1zM467 132.4h1v1h-1zM459 121h1v1h-1zM467.5 118.4h1v1h-1zM467.5 117.4h1v1h-1zM467.5 120.4h1v1h-1zM464 107.4h1v1h-1zM459.5 133h1v1h-1zM459 132.4h1v1h-1zM462 136h1v1h-1z"/>
<path fill="#4b4187" d="M459.5 130.4h1v1h-1zM464.5 107h1v1h-1zM458.5 114.4h1v1h-1zM459.5 124h1v1h-1zM459 119h1v1h-1zM460.5 134h1v1h-1zM465 135h1v1h-1zM460 110h1v1h-1zM461 108h1v1h-1zM459.5 130.4h1v1h-1zM467.5 128h1v1h-1zM467 126.4h1v1h-1zM464.5 136.4h1v1h-1zM467 110.4h1v1h-1zM460.5 133.4h1v1h-1zM461 135h1v1h-1zM467 116h1v1h-1zM458.5 114.4h1v1h-1zM466.5 132h1v1h-1zM460 109.4h1v1h-1zM463.5 136h1v1h-1zM467 112.4h1v1h-1zM459 124.4h1v1h-1zM463 136h1v1h-1zM462.5 135h1v1h-1zM462 136h1v1h-1zM459.5 111h1v1h-1zM460 110.4h1v1h-1zM463 108.4h1v1h-1zM459.5 113.4h1v1h-1zM465 108h1v1h-1zM467.5 129h1v1h-1zM459.5 111h1v1h-1zM459 125.4h1v1h-1zM466 134.4h1v1h-1zM466 133h1v1h-1zM467.5 114.4h1v1h-1zM463 136h1v1h-1z"/>
<path fill="#464187" d="M459.5 123h1v1h-1zM459.5 125.4h1v1h-1zM466 132.4h1v1h-1zM459 129.4h1v1h-1zM467 131h1v1h-1zM461 134h1v1h-1zM459 128.4h1v1h-1zM459.5 130h1v1h-1zM466 111h1v1h-1zM460.5 133h1v1h-1zM460 111.4h1v1h-1zM460 110.4h1v1h-1zM467 121.4h1v1h-1zM459 125h1v1h-1zM465.5 110.4h1v1h-1zM463.5 136.4h1v1h-1z"/>
<path fill="#464182" d="M460 132h1v1h-1zM459.5 118.4h1v1h-1zM466 109.4h1v1h-1zM467.5 118.4h1v1h-1zM460 109.4h1v1h-1zM459.5 111.4h1v1h-1z"/>
<path fill="#463c82" d="M459 124.4h1v1h-1zM467 115.4h1v1h-1zM460 116h1v1h-1zM459.5 117h1v1h-1zM460.5 132.4h1v1h-1zM459.5 127h1v1h-1zM467 124.4h1v1h-1zM459.5 116h1v1h-1zM460 112h1v1h-1zM459.5 118h1v1h-1zM461.5 133h1v1h-1zM459.5 115.4h1v1h-1zM459 127h1v1h-1zM459.5 121h1v1h-1zM460 111.4h1v1h-1zM461 133h1v1h-1zM465 134.4h1v1h-1zM466.5 131h1v1h-1zM466.5 126.4h1v1h-1zM463 135h1v1h-1zM459.5 127h1v1h-1zM466 133h1v1h-1zM466.5 129h1v1h-1zM465.5 110.4h1v1h-1zM467 129.4h1v1h-1zM467 125.4h1v1h-1zM466 112h1v1h-1zM462 135.4h1v1h-1zM459.5 113h1v1h-1zM459 116.4h1v1h-1zM459.5 123h1v1h-1zM462 135h1v1h-1zM459.5 118.4h1v1h-1zM467 130h1v1h-1zM462 108.4h1v1h-1zM467 131h1v1h-1zM461 134.4h1v1h-1zM466 134h1v1h-1zM460.5 133h1v1h-1zM464 134h1v1h-1z"/>
<path fill="#413c82" d="M464 109h1v1h-1zM461 133.4h1v1h-1zM466.5 128.4h1v1h-1zM464 134.4h1v1h-1zM459.5 123h1v1h-1zM463 108.4h1v1h-1zM459.5 116.4h1v1h-1z"/>
<path fill="#413c7d" d="M465.5 110.4h1v1h-1zM461 132h1v1h-1zM467 121.4h1v1h-1zM466.5 125.4h1v1h-1zM464 109.4h1v1h-1zM460.5 111.4h1v1h-1zM462.5 108.4h1v1h-1zM467 125.4h1v1h-1zM462.5 135h1v1h-1zM466 132.4h1v1h-1zM466.5 124h1v1h-1zM465.5 131.4h1v1h-1zM462 133.4h1v1h-1zM466.5 123.4h1v1h-1zM461 133.4h1v1h-1zM461 110.4h1v1h-1zM466.5 128.4h1v1h-1zM467 125.4h1v1h-1zM463.5 134h1v1h-1zM466.5 129h1v1h-1zM465.5 131.4h1v1h-1zM467 115h1v1h-1zM460 130h1v1h-1zM464.5 134h1v1h-1zM463.5 108h1v1h-1zM460 119.4h1v1h-1zM465.5 132h1v1h-1zM466.5 112.4h1v1h-1zM460.5 133h1v1h-1zM463 134.4h1v1h-1zM459.5 124h1v1h-1zM466.5 130h1v1h-1zM460 116h1v1h-1zM460 113.4h1v1h-1zM460 117.4h1v1h-1zM460 124.4h1v1h-1zM461 133.4h1v1h-1zM464 134.4h1v1h-1zM465 110.4h1v1h-1zM461.5 133h1v1h-1zM466.5 129.4h1v1h-1zM459.5 119h1v1h-1zM460 122.4h1v1h-1zM460 113.4h1v1h-1zM460 125h1v1h-1z"/>
<path fill="#41417d" d="M464.5 110.4h1v1h-1zM460 114.4h1v1h-1zM460.5 130.4h1v1h-1zM460 118h1v1h-1zM465.5 111.4h1v1h-1z"/>
<path fill="#46417d" d="M466 119h1v1h-1zM460 114h1v1h-1zM466.5 118.4h1v1h-1zM460.5 131h1v1h-1zM463.5 109h1v1h-1zM461.5 110.4h1v1h-1zM463.5 109.4h1v1h-1zM464.5 109.4h1v1h-1zM460 114h1v1h-1z"/>
<path fill="#46467d" d="M460 123h1v1h-1zM463 109.4h1v1h-1zM466.5 124.4h1v1h-1zM460 127.4h1v1h-1zM466.5 128.4h1v1h-1zM460 116h1v1h-1zM462 110h1v1h-1zM463 135h1v1h-1zM460 126h1v1h-1zM464.5 133h1v1h-1z"/>
<path fill="#4b467d" d="M461.5 110h1v1h-1zM463 109.4h1v1h-1zM465.5 111h1v1h-1zM460.5 119.4h1v1h-1zM461 113h1v1h-1zM464.5 132.4h1v1h-1zM460.5 112.4h1v1h-1zM465.5 132h1v1h-1z"/>
<path fill="#4b4b7d" d="M466.5 113.4h1v1h-1zM466 131.4h1v1h-1zM462.5 109.4h1v1h-1zM462 133.4h1v1h-1zM460.5 125h1v1h-1zM460.5 126h1v1h-1zM460.5 122h1v1h-1zM466 128h1v1h-1zM460 116.4h1v1h-1zM464 133.4h1v1h-1zM464 110h1v1h-1zM460 125.4h1v1h-1zM461 131h1v1h-1zM462 109h1v1h-1z"/>
<path fill="#4b4b82" d="M466 116h1v1h-1zM466 113.4h1v1h-1zM466 122.4h1v1h-1zM462.5 109h1v1h-1z"/>
<path fill="#504b82" d="M465.5 130h1v1h-1zM465 111.4h1v1h-1z"/>
<path fill="#505082" d="M464 132.4h1v1h-1zM465.5 131h1v1h-1zM460.5 123.4h1v1h-1zM460.5 128.4h1v1h-1zM460.5 113.4h1v1h-1zM462.5 132h1v1h-1zM460.5 113.4h1v1h-1zM464.5 111h1v1h-1zM465.5 113.4h1v1h-1zM466 121.4h1v1h-1zM461 113.4h1v1h-1zM461 112h1v1h-1zM465.5 122.4h1v1h-1zM465 130h1v1h-1zM466 126h1v1h-1zM466 121.4h1v1h-1zM466 115.4h1v1h-1zM465.5 113.4h1v1h-1zM460.5 126h1v1h-1zM461 112h1v1h-1zM466.5 115h1v1h-1zM466 121h1v1h-1zM461.5 132.4h1v1h-1zM460.5 120.4h1v1h-1zM460.5 113h1v1h-1zM466 118h1v1h-1zM460.5 120.4h1v1h-1zM463.5 133h1v1h-1z"/>
<path fill="#505582" d="M461.5 133h1v1h-1z"/>
<path fill="#555582" d="M465.5 125h1v1h-1zM466 126.4h1v1h-1zM466 114.4h1v1h-1zM465.5 130.4h1v1h-1zM460.5 126h1v1h-1zM466 123h1v1h-1zM465.5 119h1v1h-1zM460.5 120h1v1h-1zM461 112.4h1v1h-1zM465.5 130h1v1h-1zM460.5 124h1v1h-1zM466 127.4h1v1h-1z"/>
<path fill="#555a82" d="M461 131h1v1h-1zM466 119h1v1h-1zM461 126h1v1h-1zM462 132h1v1h-1zM461 127.4h1v1h-1z"/>
<path fill="#5a5a82" d="M460.5 128h1v1h-1zM465.5 120h1v1h-1zM465.5 130.4h1v1h-1zM461 130.4h1v1h-1zM466 118h1v1h-1zM461 128h1v1h-1zM461.5 131.4h1v1h-1zM461 121h1v1h-1zM460.5 122h1v1h-1zM463.5 132.4h1v1h-1zM462 132.4h1v1h-1zM461 129h1v1h-1zM463.5 131h1v1h-1zM465.5 121h1v1h-1zM465.5 128.4h1v1h-1zM465 131h1v1h-1zM460 126.4h1v1h-1z"/>
<path fill="#5a5f82" d="M461 128.4h1v1h-1zM461 119.4h1v1h-1zM460.5 128h1v1h-1zM462 111.4h1v1h-1zM460.5 126h1v1h-1zM461 126.4h1v1h-1zM465.5 125.4h1v1h-1zM461.5 114.4h1v1h-1zM465.5 115.4h1v1h-1z"/>
<path fill="#5f5f82" d="M463 133h1v1h-1zM463.5 132.4h1v1h-1z"/>
<path fill="#5f5f87" d="M464 111.4h1v1h-1zM461 116.4h1v1h-1zM465 114.4h1v1h-1z"/>
<path fill="#5f6487" d="M461 121.4h1v1h-1zM465 129.4h1v1h-1zM461.5 114.4h1v1h-1zM462 130.4h1v1h-1zM462.5 130h1v1h-1zM465.5 128.4h1v1h-1zM461 119h1v1h-1zM461 116h1v1h-1zM465.5 117h1v1h-1zM461.5 114h1v1h-1zM461.5 111.4h1v1h-1zM465 115h1v1h-1zM461 122h1v1h-1zM461 119.4h1v1h-1zM461.5 130h1v1h-1zM463.5 132h1v1h-1zM462 131h1v1h-1zM463 131.4h1v1h-1zM461 115.4h1v1h-1zM465.5 124h1v1h-1zM462 111.4h1v1h-1zM465.5 119h1v1h-1zM461 115h1v1h-1zM465 130h1v1h-1zM463.5 132h1v1h-1z"/>
<path fill="#646487" d="M461.5 115.4h1v1h-1zM463.5 132h1v1h-1zM461.5 117.4h1v1h-1zM460.5 123.4h1v1h-1z"/>
<path fill="#646987" d="M461.5 121h1v1h-1zM465.5 117.4h1v1h-1zM461 127h1v1h-1zM461 112.4h1v1h-1zM460.5 126.4h1v1h-1zM461 117.4h1v1h-1z"/>
<path fill="#646982" d="M461 128.4h1v1h-1zM461.5 113.4h1v1h-1zM460.5 117.4h1v1h-1zM461.5 114h1v1h-1z"/>
<path fill="#696982" d="M461.5 127.4h1v1h-1zM465.5 123h1v1h-1zM465.5 118.4h1v1h-1z"/>
<path fill="#696e82" d="M461 123h1v1h-1zM462.5 112h1v1h-1zM461 119h1v1h-1zM461 115h1v1h-1zM465 129.4h1v1h-1zM465 128.4h1v1h-1zM465 129.4h1v1h-1zM465.5 126.4h1v1h-1zM465.5 120.4h1v1h-1zM465.5 117.4h1v1h-1zM464.5 131h1v1h-1zM462.5 111h1v1h-1zM461.5 119.4h1v1h-1z"/>
<path fill="#6e7382" d="M465.5 124.4h1v1h-1zM464.5 113h1v1h-1zM461.5 115.4h1v1h-1zM461.5 121.4h1v1h-1zM465.5 119h1v1h-1zM463.5 130.4h1v1h-1zM464.5 113h1v1h-1zM464.5 120.4h1v1h-1zM465 126h1v1h-1zM464.5 129.4h1v1h-1zM461 115h1v1h-1zM461.5 114.4h1v1h-1zM462 112h1v1h-1zM461.5 121h1v1h-1zM461 126.4h1v1h-1zM464.5 112h1v1h-1zM461 114.4h1v1h-1zM464.5 112h1v1h-1z"/>
<path fill="#737882" d="M464 130.4h1v1h-1zM463 131.4h1v1h-1zM462 130h1v1h-1zM461.5 120h1v1h-1zM461 127.4h1v1h-1zM462 129.4h1v1h-1zM464 131h1v1h-1zM465.5 127.4h1v1h-1zM462.5 131h1v1h-1zM461 125.4h1v1h-1zM464.5 130h1v1h-1zM465.5 115.4h1v1h-1z"/>
<path fill="#73787d" d="M463 111h1v1h-1zM465.5 114h1v1h-1z"/>
<path fill="#737d7d" d="M465 115.4h1v1h-1zM465 114h1v1h-1zM461 115.4h1v1h-1zM464.5 126.4h1v1h-1z"/>
<path fill="#787d7d" d="M461 121h1v1h-1zM464 111h1v1h-1zM462.5 112h1v1h-1zM465 126h1v1h-1zM462 113.4h1v1h-1zM463.5 130.4h1v1h-1zM461.5 129h1v1h-1zM461.5 122h1v1h-1zM464.5 129.4h1v1h-1zM463.5 112.4h1v1h-1zM465 127h1v1h-1zM461 126h1v1h-1zM462.5 131h1v1h-1z"/>
<path fill="#78827d" d="M462 116.4h1v1h-1zM463.5 112.4h1v1h-1zM461.5 120h1v1h-1zM462.5 129.4h1v1h-1z"/>
<path fill="#7d827d" d="M464.5 115.4h1v1h-1zM461.5 128h1v1h-1zM464.5 125.4h1v1h-1zM464 113h1v1h-1zM463.5 112h1v1h-1zM465.5 126h1v1h-1zM462.5 113.4h1v1h-1zM463 112.4h1v1h-1zM461.5 129.4h1v1h-1zM465 127h1v1h-1zM462.5 129.4h1v1h-1zM461.5 117.4h1v1h-1zM461.5 121h1v1h-1zM461.5 119.4h1v1h-1zM463.5 129.4h1v1h-1z"/>
<path fill="#7d877d" d="M465 116h1v1h-1zM465 127.4h1v1h-1zM461.5 122h1v1h-1zM465 126h1v1h-1zM464 128h1v1h-1z"/>
<path fill="#82877d" d="M465.5 124.4h1v1h-1zM464.5 127h1v1h-1zM462 126h1v1h-1zM461.5 123.4h1v1h-1zM463 131h1v1h-1zM462 128.4h1v1h-1z"/>
<path fill="#828778" d="M464 119h1v1h-1zM464.5 121.4h1v1h-1zM463 119.4h1v1h-1zM461.5 129h1v1h-1z"/>
<path fill="#828c78" d="M465 122.4h1v1h-1zM461.5 119h1v1h-1zM461.5 115.4h1v1h-1zM463.5 113h1v1h-1zM462 126h1v1h-1zM463 129h1v1h-1zM461.5 114h1v1h-1zM462.5 127h1v1h-1zM465 129h1v1h-1zM463.5 130h1v1h-1zM462.5 116.4h1v1h-1zM462.5 112.4h1v1h-1z"/>
<path fill="#878c78" d="M461.5 126.4h1v1h-1zM464.5 122h1v1h-1zM463 112.4h1v1h-1zM463 112.4h1v1h-1zM463 116h1v1h-1z"/>
<path fill="#879178" d="M462.5 116.4h1v1h-1zM464.5 124.4h1v1h-1zM461.5 119.4h1v1h-1zM462 120h1v1h-1zM463 113h1v1h-1zM464.5 117.4h1v1h-1zM462.5 128h1v1h-1zM464 112.4h1v1h-1zM461.5 121h1v1h-1zM463.5 116h1v1h-1zM462.5 114.4h1v1h-1z"/>
<path fill="#8c9178" d="M462 123h1v1h-1zM463 113h1v1h-1zM463 129.4h1v1h-1zM465 119h1v1h-1zM461.5 128.4h1v1h-1zM463.5 121h1v1h-1zM464.5 116h1v1h-1zM463.5 112h1v1h-1zM461.5 124.4h1v1h-1zM464 121h1v1h-1zM464 123h1v1h-1zM462 114h1v1h-1zM461.5 118.4h1v1h-1zM463 113.4h1v1h-1z"/>
<path fill="#8c9678" d="M463 117.4h1v1h-1zM465 124h1v1h-1zM465 124.4h1v1h-1zM463.5 113h1v1h-1zM464.5 117h1v1h-1zM462.5 127.4h1v1h-1zM464 118.4h1v1h-1z"/>
<path fill="#919673" d="M462.5 130h1v1h-1zM462.5 121h1v1h-1zM462.5 119h1v1h-1zM463.5 118h1v1h-1zM461.5 126.4h1v1h-1zM462 118.4h1v1h-1zM464.5 117.4h1v1h-1zM462.5 125.4h1v1h-1zM465 118.4h1v1h-1zM461.5 125h1v1h-1zM463 118h1v1h-1zM463 127.4h1v1h-1zM464.5 121h1v1h-1zM463 123h1v1h-1zM464.5 122.4h1v1h-1z"/>
<path fill="#919b73" d="M462.5 116.4h1v1h-1zM462.5 125.4h1v1h-1z"/>
<path fill="#969b73" d="M463 115.4h1v1h-1zM462 117.4h1v1h-1zM462 122.4h1v1h-1zM465 127h1v1h-1zM464.5 125.4h1v1h-1zM462.5 116.4h1v1h-1zM464 118h1v1h-1zM464.5 126.4h1v1h-1zM463.5 115h1v1h-1zM464.5 120.4h1v1h-1zM463.5 114.4h1v1h-1zM464 121h1v1h-1zM462 128h1v1h-1zM462 123h1v1h-1zM462 125h1v1h-1zM461.5 125h1v1h-1zM464.5 120h1v1h-1z"/>
<path fill="#9b9b73" d="M463 115h1v1h-1zM464.5 123h1v1h-1zM463.5 121h1v1h-1zM464 123h1v1h-1zM462.5 118h1v1h-1z"/>
<path fill="#9ba073" d="M463.5 112.4h1v1h-1zM462.5 130.4h1v1h-1zM463 117.4h1v1h-1z"/>
<path fill="#9ba06e" d="M463 113h1v1h-1zM464 123.4h1v1h-1zM463 125.4h1v1h-1zM464.5 129.4h1v1h-1zM462 120h1v1h-1zM463 115.4h1v1h-1zM462 116.4h1v1h-1zM463 126h1v1h-1z"/>
<path fill="#a0a06e" d="M462.5 125h1v1h-1zM463.5 116.4h1v1h-1zM464 118.4h1v1h-1zM463.5 125h1v1h-1zM465 118.4h1v1h-1zM462 119.4h1v1h-1zM461.5 123.4h1v1h-1zM463 124.4h1v1h-1zM462.5 118h1v1h-1zM462.5 130h1v1h-1zM462 115h1v1h-1zM463 115.4h1v1h-1zM463.5 114h1v1h-1z"/>
<path fill="#a0a56e" d="M463 122.4h1v1h-1zM463 125.4h1v1h-1zM463.5 124.4h1v1h-1zM463.5 117.4h1v1h-1zM464 121h1v1h-1zM461.5 123.4h1v1h-1z"/>
<path fill="#a5a56e" d="M464 112h1v1h-1zM463 116h1v1h-1zM463 128.4h1v1h-1zM462.5 120h1v1h-1zM463 122h1v1h-1zM464 115.4h1v1h-1zM464 127.4h1v1h-1zM463.5 116.4h1v1h-1zM462.5 121h1v1h-1zM462.5 115h1v1h-1zM462.5 121.4h1v1h-1zM462.5 123h1v1h-1zM462.5 126.4h1v1h-1zM464 124h1v1h-1z"/>
<path fill="#a5aa6e" d="M463.5 122.4h1v1h-1z"/>
<path fill="#aaaa6e" d="M464.5 126h1v1h-1z"/>
<path fill="#aaaa69" d="M464 115.4h1v1h-1zM462.5 124h1v1h-1zM462 123h1v1h-1zM463 125.4h1v1h-1zM464 128.4h1v1h-1zM463 118h1v1h-1zM463 126h1v1h-1zM463 117h1v1h-1zM464 117.4h1v1h-1zM462 123h1v1h-1z"/>
<path fill="#afaf69" d="M464 127.4h1v1h-1zM464 116.4h1v1h-1zM464 114h1v1h-1zM463 127.4h1v1h-1zM463 117.4h1v1h-1zM463 129h1v1h-1zM464 122.4h1v1h-1zM463 117.4h1v1h-1z"/>
<path fill="#b4af69" d="M463.5 127h1v1h-1zM464 119h1v1h-1zM464.5 128h1v1h-1z"/>
<path fill="#b4b469" d="M462.5 127h1v1h-1z"/>
<path fill="#b4af64" d="M463 115.4h1v1h-1z"/>
<path fill="#b9af64" d="M464.5 116h1v1h-1zM464 122.4h1v1h-1zM464 123h1v1h-1zM463 115h1v1h-1zM462.5 127.4h1v1h-1zM463 127.4h1v1h-1z"/>
<path fill="#b9af5f" d="M464 118h1v1h-1zM463 117.4h1v1h-1zM462 120h1v1h-1zM463 117.4h1v1h-1z"/>
<path fill="#beaf5f" d="M462.5 115h1v1h-1zM463 121.4h1v1h-1z"/>
<path fill="#beaf5a" d="M463.5 126h1v1h-1zM462.5 121.4h1v1h-1zM462.5 117.4h1v1h-1zM463 126h1v1h-1z"/>
<path fill="#c3aa55" d="M463 127h1v1h-1zM463.5 119h1v1h-1z"/>
<path fill="#c8aa50" d="M463 118.4h1v1h-1z"/>
<path fill="#cdaa4b" d="M463.5 116.4h1v1h-1z"/>
</g>
<path d="M440.60 18.45V140.45M387.50 103.40H512.30" stroke="#a46c7e" stroke-width="0.9" fill="none"/>
<rect x="387.50" y="18.45" width="124.80" height="122.00" fill="none" stroke="#111" stroke-width="1.4"/>
<path d="M387.50 140.45v3M387.50 140.45h-3M396.89 140.45v1.7M387.50 131.27h-1.7M402.39 140.45v1.7M387.50 125.90h-1.7M406.28 140.45v1.7M387.50 122.09h-1.7M409.31 140.45v2.4M387.50 119.13h-2.4M411.78 140.45v1.7M387.50 116.72h-1.7M413.87 140.45v1.7M387.50 114.67h-1.7M415.68 140.45v1.7M387.50 112.91h-1.7M417.27 140.45v1.7M387.50 111.35h-1.7M418.70 140.45v3M387.50 109.95h-3M428.09 140.45v1.7M387.50 100.77h-1.7M433.59 140.45v1.7M387.50 95.40h-1.7M437.48 140.45v1.7M387.50 91.59h-1.7M440.51 140.45v2.4M387.50 88.63h-2.4M442.98 140.45v1.7M387.50 86.22h-1.7M445.07 140.45v1.7M387.50 84.17h-1.7M446.88 140.45v1.7M387.50 82.41h-1.7M448.47 140.45v1.7M387.50 80.85h-1.7M449.90 140.45v3M387.50 79.45h-3M459.29 140.45v1.7M387.50 70.27h-1.7M464.79 140.45v1.7M387.50 64.90h-1.7M468.68 140.45v1.7M387.50 61.09h-1.7M471.71 140.45v2.4M387.50 58.13h-2.4M474.18 140.45v1.7M387.50 55.72h-1.7M476.27 140.45v1.7M387.50 53.67h-1.7M478.08 140.45v1.7M387.50 51.91h-1.7M479.67 140.45v1.7M387.50 50.35h-1.7M481.10 140.45v3M387.50 48.95h-3M490.49 140.45v1.7M387.50 39.77h-1.7M495.99 140.45v1.7M387.50 34.40h-1.7M499.88 140.45v1.7M387.50 30.59h-1.7M502.91 140.45v2.4M387.50 27.63h-2.4M505.38 140.45v1.7M387.50 25.22h-1.7M507.47 140.45v1.7M387.50 23.17h-1.7M509.28 140.45v1.7M387.50 21.41h-1.7M510.87 140.45v1.7M387.50 19.85h-1.7M512.30 140.45v3M387.50 18.45h-3" stroke="#111" stroke-width="0.9" fill="none"/>
<text class="k" x="386.55" y="153.85" text-anchor="middle">10<tspan class="s" dy="-3.3">0</tspan></text>
<text class="k" x="382.90" y="144.15" text-anchor="end">10<tspan class="s" dy="-3.3">0</tspan></text>
<text class="k" x="417.25" y="153.85" text-anchor="middle">10<tspan class="s" dy="-3.3">1</tspan></text>
<text class="k" x="382.90" y="113.65" text-anchor="end">10<tspan class="s" dy="-3.3">1</tspan></text>
<text class="k" x="447.05" y="153.85" text-anchor="middle">10<tspan class="s" dy="-3.3">2</tspan></text>
<text class="k" x="382.90" y="83.15" text-anchor="end">10<tspan class="s" dy="-3.3">2</tspan></text>
<text class="k" x="479.65" y="153.85" text-anchor="middle">10<tspan class="s" dy="-3.3">3</tspan></text>
<text class="k" x="382.90" y="52.65" text-anchor="end">10<tspan class="s" dy="-3.3">3</tspan></text>
<text class="k" x="509.35" y="153.85" text-anchor="middle">10<tspan class="s" dy="-3.3">4</tspan></text>
<text class="k" x="382.90" y="22.15" text-anchor="end">10<tspan class="s" dy="-3.3">4</tspan></text>
<text class="t" x="446.50" y="11.25" text-anchor="middle">14 days</text>
<text class="q" x="390.90" y="28.25">0.04</text>
<text class="q" x="508.70" y="28.25" text-anchor="end">0.53</text>
<text class="q" x="390.90" y="136.75">5.09</text>
<text class="q" x="508.70" y="136.75" text-anchor="end">94.3</text>
<text class="b" x="474.50" y="57.85" text-anchor="middle">99.4%</text>
<text class="i" x="474.50" y="70.65" text-anchor="middle">Inhibition</text>
<g filter="url(#bl)">
<path fill="#a0a0be" d="M119.5 287.8h1v1h-1zM143 263.8h1v1h-1zM139.5 286.8h1v1h-1zM140 289.4h1v1h-1zM117.5 263.4h1v1h-1zM143 268.4h1v1h-1zM123.5 291.8h1v1h-1zM126.5 306.4h1v1h-1zM131.5 305.4h1v1h-1zM139 297.8h1v1h-1zM141.5 286.4h1v1h-1zM123.5 293.4h1v1h-1zM137.5 293.8h1v1h-1zM127.5 297.8h1v1h-1zM138 291.8h1v1h-1zM138 299.4h1v1h-1zM137 295.8h1v1h-1zM137.5 298.4h1v1h-1zM139 247.4h1v1h-1zM133 252.4h1v1h-1zM117.5 249.4h1v1h-1zM128 251.4h1v1h-1zM143 260.4h1v1h-1zM118.5 262.8h1v1h-1zM140.5 259.8h1v1h-1zM83.5 276.8h1v1h-1zM75.5 266.4h1v1h-1zM93 275.8h1v1h-1zM92 281.4h1v1h-1zM73.5 275.4h1v1h-1zM94.5 287.8h1v1h-1zM68.5 287.8h1v1h-1zM98.5 275.8h1v1h-1zM84.5 265.8h1v1h-1zM84.5 272.4h1v1h-1zM81 270.4h1v1h-1zM68 280.4h1v1h-1zM83 269.4h1v1h-1zM86 274.8h1v1h-1zM67.5 275.8h1v1h-1zM89 272.4h1v1h-1zM71.5 291.8h1v1h-1zM75 304.8h1v1h-1zM85.5 302.8h1v1h-1zM74.5 271.4h1v1h-1zM62.5 285.8h1v1h-1zM95 284.8h1v1h-1zM63 273.8h1v1h-1zM92 303.4h1v1h-1zM94 308.8h1v1h-1zM68.5 265.8h1v1h-1zM62.5 277.4h1v1h-1zM86.5 302.4h1v1h-1zM76.5 296.8h1v1h-1zM99 293.4h1v1h-1zM91 295.8h1v1h-1zM86.5 262.4h1v1h-1zM84 304.4h1v1h-1zM68 296.8h1v1h-1zM85.5 309.4h1v1h-1zM85 305.4h1v1h-1zM62.5 275.8h1v1h-1zM60.5 285.4h1v1h-1zM67.5 248.8h1v1h-1zM90.5 305.8h1v1h-1z"/>
<path fill="#a09bbe" d="M116.5 270.4h1v1h-1zM116 281.4h1v1h-1zM135.5 301.4h1v1h-1zM133.5 257.4h1v1h-1zM71 293.4h1v1h-1zM83.5 271.4h1v1h-1zM86.5 276.8h1v1h-1zM74.5 267.8h1v1h-1zM72.5 260.4h1v1h-1zM61 280.4h1v1h-1zM77 304.4h1v1h-1zM78 302.8h1v1h-1zM76.5 302.8h1v1h-1zM83 270.4h1v1h-1z"/>
<path fill="#a09bb9" d="M140 260.8h1v1h-1zM136.5 252.8h1v1h-1zM117.5 280.8h1v1h-1zM121.5 256.8h1v1h-1zM125.5 258.8h1v1h-1zM142 265.4h1v1h-1zM134.5 257.8h1v1h-1zM135 257.8h1v1h-1zM143.5 272.4h1v1h-1zM128 299.4h1v1h-1zM112 264.4h1v1h-1zM142.5 277.8h1v1h-1zM93 285.4h1v1h-1zM67.5 272.8h1v1h-1zM91.5 280.8h1v1h-1zM96 283.4h1v1h-1zM77.5 300.4h1v1h-1zM70.5 272.8h1v1h-1zM95.5 281.8h1v1h-1zM92.5 279.8h1v1h-1zM77.5 269.4h1v1h-1zM66 278.4h1v1h-1zM66 285.4h1v1h-1zM61 280.4h1v1h-1zM69 296.8h1v1h-1z"/>
<path fill="#9b96b9" d="M115 276.4h1v1h-1zM119 263.8h1v1h-1zM142 277.8h1v1h-1zM129.5 250.8h1v1h-1zM125.5 288.4h1v1h-1zM141.5 280.4h1v1h-1zM128 303.4h1v1h-1zM125.5 300.8h1v1h-1zM138.5 298.4h1v1h-1zM134 303.4h1v1h-1zM134.5 307.8h1v1h-1zM129.5 304.4h1v1h-1zM123 294.4h1v1h-1zM126.5 291.8h1v1h-1zM135.5 287.8h1v1h-1zM130.5 305.4h1v1h-1zM137 304.4h1v1h-1zM146.5 260.4h1v1h-1zM138.5 259.8h1v1h-1zM127.5 257.8h1v1h-1zM128 259.4h1v1h-1zM128 251.8h1v1h-1zM114.5 269.4h1v1h-1zM123 252.4h1v1h-1zM69.5 286.8h1v1h-1zM92 279.4h1v1h-1zM62 275.4h1v1h-1zM66 282.4h1v1h-1zM85 296.4h1v1h-1zM87 297.8h1v1h-1zM85.5 275.4h1v1h-1zM68.5 302.4h1v1h-1zM90.5 289.4h1v1h-1zM90 276.4h1v1h-1zM85.5 275.8h1v1h-1zM66 269.4h1v1h-1zM84 271.8h1v1h-1zM77 271.8h1v1h-1zM81.5 298.4h1v1h-1zM84 291.8h1v1h-1zM78 271.4h1v1h-1zM90.5 289.4h1v1h-1zM65.5 283.4h1v1h-1zM70.5 277.8h1v1h-1zM85 293.4h1v1h-1zM87.5 292.8h1v1h-1zM88 261.8h1v1h-1zM66 281.8h1v1h-1zM69 274.8h1v1h-1zM64.5 285.8h1v1h-1zM65.5 277.4h1v1h-1zM76.5 298.8h1v1h-1zM59 295.4h1v1h-1zM69.5 297.8h1v1h-1zM71 295.4h1v1h-1zM88.5 305.8h1v1h-1zM72.5 302.8h1v1h-1zM67 284.4h1v1h-1zM57.5 301.8h1v1h-1zM88.5 306.8h1v1h-1z"/>
<path fill="#9b91b9" d="M143.5 267.8h1v1h-1zM114.5 276.4h1v1h-1zM145 268.4h1v1h-1zM120.5 281.8h1v1h-1zM124.5 256.4h1v1h-1zM136.5 289.4h1v1h-1zM129.5 306.4h1v1h-1zM137.5 291.4h1v1h-1zM118.5 266.8h1v1h-1zM119 261.8h1v1h-1zM86.5 298.4h1v1h-1zM81.5 271.8h1v1h-1zM79.5 274.4h1v1h-1zM69 282.8h1v1h-1zM68 272.8h1v1h-1z"/>
<path fill="#9691b9" d="M116 265.4h1v1h-1zM117 272.4h1v1h-1zM123 261.4h1v1h-1zM145 273.8h1v1h-1zM117 271.8h1v1h-1zM128 293.8h1v1h-1zM134.5 290.4h1v1h-1zM126.5 299.8h1v1h-1zM125.5 294.8h1v1h-1zM133 300.4h1v1h-1zM124.5 292.4h1v1h-1zM145.5 262.4h1v1h-1zM139.5 255.4h1v1h-1zM137 250.8h1v1h-1zM74.5 275.4h1v1h-1zM69.5 278.4h1v1h-1zM71 273.8h1v1h-1zM72 274.4h1v1h-1zM83.5 278.4h1v1h-1zM93.5 283.8h1v1h-1zM70 286.8h1v1h-1zM75.5 275.4h1v1h-1zM85 268.8h1v1h-1zM94 302.8h1v1h-1zM61 289.8h1v1h-1zM82 299.4h1v1h-1zM62 293.4h1v1h-1zM71 290.8h1v1h-1zM76.5 300.4h1v1h-1zM86 293.4h1v1h-1zM80 300.8h1v1h-1zM68 270.4h1v1h-1zM67.5 279.8h1v1h-1zM71.5 297.8h1v1h-1zM90.5 293.4h1v1h-1z"/>
<path fill="#968cb9" d="M116 273.4h1v1h-1zM127 288.4h1v1h-1zM133.5 305.8h1v1h-1zM136.5 298.8h1v1h-1zM138 300.4h1v1h-1zM78 270.8h1v1h-1zM83.5 276.8h1v1h-1zM83.5 294.8h1v1h-1zM85 295.4h1v1h-1zM94 287.4h1v1h-1zM73.5 288.8h1v1h-1zM69 276.8h1v1h-1zM90.5 280.8h1v1h-1zM70.5 281.4h1v1h-1zM88.5 277.8h1v1h-1zM81 274.8h1v1h-1zM85 277.8h1v1h-1zM71.5 287.8h1v1h-1zM82 295.4h1v1h-1zM86.5 281.8h1v1h-1zM63.5 288.4h1v1h-1zM58.5 292.4h1v1h-1zM72.5 292.4h1v1h-1zM85 298.8h1v1h-1zM76.5 301.4h1v1h-1zM72 281.4h1v1h-1z"/>
<path fill="#918cb9" d="M144.5 278.4h1v1h-1zM124.5 287.8h1v1h-1zM127 289.4h1v1h-1zM118.5 276.4h1v1h-1zM138.5 286.4h1v1h-1zM127.5 294.4h1v1h-1zM126.5 302.8h1v1h-1zM131.5 305.8h1v1h-1zM134 298.4h1v1h-1zM134 292.4h1v1h-1zM137 298.8h1v1h-1zM126 292.8h1v1h-1zM130 297.8h1v1h-1zM139 255.8h1v1h-1zM129.5 259.4h1v1h-1zM72.5 285.4h1v1h-1zM80 297.8h1v1h-1zM91.5 293.4h1v1h-1zM87 285.8h1v1h-1zM76 277.8h1v1h-1zM78.5 300.4h1v1h-1zM82.5 266.8h1v1h-1zM82.5 294.8h1v1h-1zM70 274.4h1v1h-1zM73.5 286.8h1v1h-1zM88 281.8h1v1h-1zM77.5 303.8h1v1h-1zM88.5 303.4h1v1h-1zM69.5 278.8h1v1h-1zM79.5 276.8h1v1h-1zM80 298.8h1v1h-1zM76.5 273.4h1v1h-1z"/>
<path fill="#9187b9" d="M120 264.8h1v1h-1zM125.5 259.4h1v1h-1zM123.5 259.8h1v1h-1zM116 272.8h1v1h-1zM139.5 257.8h1v1h-1zM126.5 287.4h1v1h-1zM118.5 279.4h1v1h-1zM124.5 261.8h1v1h-1zM117 276.8h1v1h-1zM139 265.4h1v1h-1zM128 298.8h1v1h-1zM133.5 295.8h1v1h-1zM135.5 288.4h1v1h-1zM136.5 288.8h1v1h-1zM130.5 303.4h1v1h-1zM134.5 293.8h1v1h-1zM133.5 298.4h1v1h-1zM133.5 289.4h1v1h-1zM131.5 291.8h1v1h-1zM131.5 300.8h1v1h-1zM133 298.8h1v1h-1zM131 303.4h1v1h-1zM137 307.4h1v1h-1zM135 286.8h1v1h-1zM129 297.8h1v1h-1zM130 298.4h1v1h-1zM126 285.4h1v1h-1zM126.5 257.8h1v1h-1zM141 258.4h1v1h-1zM129 257.4h1v1h-1zM90.5 290.4h1v1h-1zM82.5 272.8h1v1h-1zM77.5 276.8h1v1h-1zM73.5 276.8h1v1h-1zM90 286.4h1v1h-1zM78.5 275.4h1v1h-1zM87.5 276.4h1v1h-1zM90 279.4h1v1h-1zM67 271.8h1v1h-1zM71.5 286.8h1v1h-1zM74.5 290.8h1v1h-1zM76 272.4h1v1h-1zM75 293.4h1v1h-1zM77 290.8h1v1h-1zM88.5 287.8h1v1h-1zM84 291.4h1v1h-1zM85.5 291.8h1v1h-1zM81.5 288.4h1v1h-1zM88 287.8h1v1h-1zM73 271.8h1v1h-1zM78 274.8h1v1h-1zM76.5 290.8h1v1h-1zM70 288.8h1v1h-1zM69.5 273.4h1v1h-1zM71.5 283.4h1v1h-1zM64 265.8h1v1h-1zM73 282.8h1v1h-1z"/>
<path fill="#8c87b9" d="M131 257.4h1v1h-1zM120 281.8h1v1h-1zM124 285.4h1v1h-1zM135.5 293.8h1v1h-1zM134 301.4h1v1h-1zM130 300.4h1v1h-1zM130.5 303.4h1v1h-1zM127 289.8h1v1h-1zM128.5 297.8h1v1h-1zM130.5 296.4h1v1h-1zM130 288.8h1v1h-1zM68 287.8h1v1h-1zM86.5 292.8h1v1h-1zM72 291.4h1v1h-1zM82 294.8h1v1h-1zM86 280.4h1v1h-1zM96 281.8h1v1h-1zM72.5 293.4h1v1h-1zM67.5 281.4h1v1h-1zM84 302.8h1v1h-1zM67.5 284.8h1v1h-1z"/>
<path fill="#8c82b9" d="M124 284.8h1v1h-1zM119 271.8h1v1h-1zM127 258.4h1v1h-1zM120 280.8h1v1h-1zM141.5 272.8h1v1h-1zM138 259.8h1v1h-1zM125 285.4h1v1h-1zM134 294.4h1v1h-1zM130 298.4h1v1h-1zM126.5 290.4h1v1h-1zM127 294.4h1v1h-1zM131.5 297.4h1v1h-1zM134 297.8h1v1h-1zM132 291.8h1v1h-1zM134.5 288.4h1v1h-1zM132.5 259.4h1v1h-1zM140.5 276.8h1v1h-1zM126 256.4h1v1h-1zM78 276.8h1v1h-1zM81 275.4h1v1h-1zM81.5 278.4h1v1h-1zM80.5 277.4h1v1h-1zM78.5 288.8h1v1h-1zM83.5 289.8h1v1h-1zM85 281.4h1v1h-1zM82 278.8h1v1h-1zM88 288.8h1v1h-1zM82.5 279.4h1v1h-1zM76 277.8h1v1h-1zM73.5 273.4h1v1h-1zM81.5 276.8h1v1h-1zM82 290.4h1v1h-1zM89 282.4h1v1h-1zM73.5 285.8h1v1h-1zM71 288.4h1v1h-1zM74.5 289.8h1v1h-1zM90 273.4h1v1h-1zM87 281.4h1v1h-1zM70.5 282.4h1v1h-1z"/>
<path fill="#8c82b4" d="M121.5 281.4h1v1h-1zM123.5 262.8h1v1h-1zM116 270.8h1v1h-1zM127.5 288.8h1v1h-1zM139 281.4h1v1h-1zM128.5 292.8h1v1h-1zM141 268.8h1v1h-1zM70 278.8h1v1h-1zM83 290.8h1v1h-1z"/>
<path fill="#8782b4" d="M127.5 293.8h1v1h-1zM142.5 269.8h1v1h-1zM140.5 272.4h1v1h-1zM74 280.4h1v1h-1z"/>
<path fill="#877db4" d="M123.5 282.4h1v1h-1zM123 262.4h1v1h-1zM122 261.8h1v1h-1zM138.5 261.4h1v1h-1zM135 283.8h1v1h-1zM127.5 290.8h1v1h-1zM132.5 285.8h1v1h-1zM119.5 267.4h1v1h-1zM121 279.8h1v1h-1zM122 280.4h1v1h-1zM140 279.4h1v1h-1zM132.5 299.8h1v1h-1zM131 304.8h1v1h-1zM134.5 298.8h1v1h-1zM126 288.8h1v1h-1zM132 294.4h1v1h-1zM132.5 295.8h1v1h-1zM136.5 286.4h1v1h-1zM135 300.8h1v1h-1zM129 293.8h1v1h-1zM132 292.8h1v1h-1zM131 303.4h1v1h-1zM128.5 293.8h1v1h-1zM128.5 294.8h1v1h-1zM127 287.8h1v1h-1zM131.5 292.8h1v1h-1zM128 295.8h1v1h-1zM129 286.4h1v1h-1zM129.5 291.8h1v1h-1zM128 288.4h1v1h-1zM133 290.4h1v1h-1zM125.5 292.4h1v1h-1zM128.5 292.8h1v1h-1zM135.5 294.4h1v1h-1zM135.5 286.8h1v1h-1zM129.5 293.4h1v1h-1zM140 266.8h1v1h-1zM123.5 262.4h1v1h-1zM126.5 259.4h1v1h-1zM117 275.4h1v1h-1zM123.5 255.8h1v1h-1zM129.5 259.4h1v1h-1zM85.5 282.8h1v1h-1zM86.5 288.4h1v1h-1zM83.5 290.8h1v1h-1zM75 290.8h1v1h-1zM85 289.4h1v1h-1zM84.5 279.4h1v1h-1zM87.5 290.8h1v1h-1zM76 278.8h1v1h-1zM86 287.8h1v1h-1zM87.5 286.8h1v1h-1zM87.5 282.8h1v1h-1zM82 292.4h1v1h-1zM89.5 284.4h1v1h-1zM83 278.4h1v1h-1zM78 284.4h1v1h-1zM70.5 280.4h1v1h-1zM84 287.4h1v1h-1zM84.5 276.8h1v1h-1zM71 274.4h1v1h-1zM80 285.8h1v1h-1zM86 286.4h1v1h-1zM73 286.4h1v1h-1zM81.5 292.4h1v1h-1zM78 287.8h1v1h-1zM79.5 279.8h1v1h-1zM81 289.4h1v1h-1zM77.5 279.8h1v1h-1zM72 288.4h1v1h-1zM76.5 287.4h1v1h-1zM75.5 277.4h1v1h-1zM68.5 284.4h1v1h-1zM91.5 288.4h1v1h-1zM68 273.4h1v1h-1zM78 279.8h1v1h-1zM72.5 279.4h1v1h-1zM76.5 276.8h1v1h-1zM83 273.8h1v1h-1zM87.5 288.8h1v1h-1zM88.5 288.4h1v1h-1zM62.5 273.8h1v1h-1zM71.5 289.8h1v1h-1zM91.5 289.8h1v1h-1zM78.5 307.8h1v1h-1zM81 288.8h1v1h-1zM69.5 282.8h1v1h-1zM83.5 291.4h1v1h-1zM87.5 279.8h1v1h-1zM78.5 292.4h1v1h-1zM75.5 295.8h1v1h-1zM74 288.4h1v1h-1z"/>
<path fill="#8778b4" d="M119 275.4h1v1h-1zM119.5 267.4h1v1h-1zM139 279.8h1v1h-1zM118.5 281.4h1v1h-1zM122 281.4h1v1h-1zM140.5 266.8h1v1h-1zM119.5 271.4h1v1h-1zM141.5 269.8h1v1h-1zM129 288.4h1v1h-1zM134.5 289.4h1v1h-1zM129 288.8h1v1h-1zM129.5 293.8h1v1h-1zM130.5 288.8h1v1h-1zM133.5 291.4h1v1h-1zM131.5 297.8h1v1h-1zM126 284.4h1v1h-1zM118.5 275.8h1v1h-1zM84.5 277.4h1v1h-1zM84.5 284.8h1v1h-1zM82.5 281.4h1v1h-1zM91 281.8h1v1h-1zM87 280.8h1v1h-1zM73 289.8h1v1h-1zM79 274.4h1v1h-1zM78.5 277.4h1v1h-1zM82.5 276.8h1v1h-1zM79 279.8h1v1h-1zM85.5 287.4h1v1h-1zM80.5 292.8h1v1h-1zM83.5 293.8h1v1h-1zM69 284.4h1v1h-1zM81.5 282.8h1v1h-1zM77 287.8h1v1h-1z"/>
<path fill="#8278b4" d="M121.5 280.8h1v1h-1zM139.5 276.8h1v1h-1zM120 273.4h1v1h-1zM120 271.4h1v1h-1zM135.5 259.8h1v1h-1zM139.5 269.4h1v1h-1zM126.5 259.8h1v1h-1zM132 285.4h1v1h-1zM122.5 283.4h1v1h-1zM119.5 279.4h1v1h-1zM119.5 268.8h1v1h-1zM130 258.8h1v1h-1zM122 285.4h1v1h-1zM132.5 292.4h1v1h-1zM131.5 296.8h1v1h-1zM127.5 298.8h1v1h-1zM133.5 287.4h1v1h-1zM132 287.8h1v1h-1zM133.5 293.4h1v1h-1zM131 301.4h1v1h-1zM134.5 290.4h1v1h-1zM134.5 292.8h1v1h-1zM132.5 292.8h1v1h-1zM129.5 288.4h1v1h-1zM128.5 285.8h1v1h-1zM129.5 294.8h1v1h-1zM128 290.8h1v1h-1zM130 290.4h1v1h-1zM130.5 291.8h1v1h-1zM129.5 292.8h1v1h-1zM130 299.4h1v1h-1zM130 295.4h1v1h-1zM132 296.8h1v1h-1zM132.5 296.8h1v1h-1zM131 291.8h1v1h-1zM131 289.4h1v1h-1zM131.5 292.8h1v1h-1zM132 259.4h1v1h-1zM131 259.8h1v1h-1zM127.5 259.4h1v1h-1zM80.5 286.4h1v1h-1zM85.5 285.4h1v1h-1zM81.5 284.8h1v1h-1zM84.5 285.4h1v1h-1zM80.5 282.8h1v1h-1zM83.5 284.8h1v1h-1zM92.5 287.8h1v1h-1zM78.5 278.8h1v1h-1zM84.5 290.4h1v1h-1zM80 293.8h1v1h-1zM81.5 283.4h1v1h-1zM87.5 279.4h1v1h-1zM82.5 287.8h1v1h-1zM84.5 279.8h1v1h-1zM87.5 290.8h1v1h-1zM74.5 278.4h1v1h-1zM85 281.4h1v1h-1zM83.5 282.4h1v1h-1zM74 279.4h1v1h-1zM87.5 287.8h1v1h-1zM80 286.4h1v1h-1z"/>
<path fill="#8273b4" d="M129 259.4h1v1h-1zM134.5 262.4h1v1h-1zM126 283.8h1v1h-1zM126.5 284.8h1v1h-1zM136 281.8h1v1h-1zM119 265.8h1v1h-1zM123 280.8h1v1h-1zM125.5 261.8h1v1h-1zM140.5 267.4h1v1h-1zM124.5 281.8h1v1h-1zM133 258.8h1v1h-1zM124.5 282.4h1v1h-1zM137.5 262.8h1v1h-1zM119.5 268.4h1v1h-1zM140.5 271.8h1v1h-1zM138.5 278.4h1v1h-1zM125.5 287.4h1v1h-1zM128.5 288.8h1v1h-1zM131.5 286.8h1v1h-1zM130 300.8h1v1h-1zM127 288.4h1v1h-1zM131 297.4h1v1h-1zM120.5 277.8h1v1h-1zM120.5 267.4h1v1h-1zM120 277.4h1v1h-1zM118.5 272.4h1v1h-1zM120 271.8h1v1h-1zM74 290.4h1v1h-1zM78 280.8h1v1h-1zM77 278.4h1v1h-1zM82 281.4h1v1h-1zM78 289.4h1v1h-1zM84.5 281.4h1v1h-1zM78 284.8h1v1h-1zM79.5 287.8h1v1h-1zM80 284.8h1v1h-1zM81 277.4h1v1h-1zM82 288.4h1v1h-1zM75 286.8h1v1h-1zM82.5 281.8h1v1h-1zM80 283.8h1v1h-1zM83 284.8h1v1h-1zM75.5 285.4h1v1h-1zM79 285.8h1v1h-1zM84.5 289.4h1v1h-1zM80 290.8h1v1h-1zM75 284.4h1v1h-1zM75 281.8h1v1h-1zM78 283.4h1v1h-1zM76 290.8h1v1h-1zM75.5 287.4h1v1h-1zM80.5 285.4h1v1h-1zM76.5 286.4h1v1h-1zM79 280.4h1v1h-1zM76.5 282.4h1v1h-1zM78 285.8h1v1h-1zM79 280.8h1v1h-1z"/>
<path fill="#7d73b4" d="M120.5 265.4h1v1h-1zM84.5 284.4h1v1h-1z"/>
<path fill="#7d73af" d="M120.5 267.4h1v1h-1zM139 266.4h1v1h-1zM120.5 275.4h1v1h-1zM124.5 283.8h1v1h-1zM128.5 285.8h1v1h-1zM133 260.8h1v1h-1zM79 284.8h1v1h-1zM81 286.4h1v1h-1zM84.5 288.8h1v1h-1zM76.5 283.8h1v1h-1zM86 285.4h1v1h-1z"/>
<path fill="#7d6eaf" d="M131.5 285.4h1v1h-1zM140.5 277.4h1v1h-1zM120.5 267.8h1v1h-1zM136 282.4h1v1h-1zM126.5 283.4h1v1h-1zM139.5 270.4h1v1h-1zM141 271.8h1v1h-1zM139.5 274.4h1v1h-1zM122 277.8h1v1h-1zM124 262.8h1v1h-1zM120.5 270.8h1v1h-1zM121 275.4h1v1h-1zM139.5 273.4h1v1h-1zM126.5 285.4h1v1h-1zM122.5 280.8h1v1h-1zM132 288.4h1v1h-1zM120 276.8h1v1h-1zM120.5 270.8h1v1h-1zM136 281.4h1v1h-1zM134 261.8h1v1h-1zM130 292.4h1v1h-1zM129 285.4h1v1h-1zM127.5 286.8h1v1h-1zM131 288.4h1v1h-1zM134.5 287.8h1v1h-1zM135.5 285.4h1v1h-1zM131.5 288.8h1v1h-1zM131 290.8h1v1h-1zM129.5 290.8h1v1h-1zM133 287.8h1v1h-1zM135 285.4h1v1h-1zM130.5 285.4h1v1h-1zM131.5 285.8h1v1h-1zM132 291.4h1v1h-1zM120 265.8h1v1h-1zM127 285.8h1v1h-1zM123.5 283.4h1v1h-1zM76.5 281.4h1v1h-1zM79.5 279.8h1v1h-1zM80 283.8h1v1h-1zM81.5 283.4h1v1h-1zM81 284.8h1v1h-1zM78.5 281.8h1v1h-1zM82 278.4h1v1h-1zM80.5 283.8h1v1h-1zM80.5 282.4h1v1h-1zM86.5 282.4h1v1h-1zM82 287.8h1v1h-1zM80.5 286.8h1v1h-1zM77 278.8h1v1h-1zM83.5 286.4h1v1h-1zM74.5 283.8h1v1h-1zM79 286.4h1v1h-1zM76 282.4h1v1h-1zM83 279.4h1v1h-1zM80 282.4h1v1h-1zM78 284.4h1v1h-1z"/>
<path fill="#7d69af" d="M134.5 284.4h1v1h-1zM136 262.8h1v1h-1zM137.5 280.4h1v1h-1zM129.5 261.8h1v1h-1zM139 277.4h1v1h-1zM119.5 274.4h1v1h-1zM122 266.4h1v1h-1zM137 265.4h1v1h-1zM128.5 285.4h1v1h-1zM121.5 265.4h1v1h-1zM79.5 285.8h1v1h-1zM85.5 285.8h1v1h-1zM83 286.4h1v1h-1zM84 286.4h1v1h-1zM78 288.4h1v1h-1zM85.5 278.4h1v1h-1z"/>
<path fill="#7869af" d="M124 281.8h1v1h-1zM140 267.4h1v1h-1zM120 271.8h1v1h-1zM120.5 273.4h1v1h-1zM135 264.4h1v1h-1zM124 283.8h1v1h-1zM126.5 262.4h1v1h-1zM126 283.4h1v1h-1zM120.5 271.8h1v1h-1zM137.5 278.8h1v1h-1zM120.5 275.4h1v1h-1zM122 276.8h1v1h-1zM121 274.4h1v1h-1zM121 273.4h1v1h-1zM127.5 286.4h1v1h-1zM126 263.4h1v1h-1zM120.5 269.8h1v1h-1zM121.5 267.4h1v1h-1zM122.5 265.4h1v1h-1zM130 290.4h1v1h-1zM130 285.8h1v1h-1zM131 287.4h1v1h-1zM134 285.4h1v1h-1zM124.5 263.8h1v1h-1zM133 261.8h1v1h-1zM138.5 268.4h1v1h-1zM136 265.8h1v1h-1zM78.5 286.8h1v1h-1zM80 283.8h1v1h-1zM83 285.8h1v1h-1zM78 286.4h1v1h-1z"/>
<path fill="#7864af" d="M123.5 265.4h1v1h-1zM123 265.8h1v1h-1zM139 277.8h1v1h-1zM129 260.8h1v1h-1zM121 273.4h1v1h-1zM138.5 268.8h1v1h-1zM131.5 284.8h1v1h-1zM129 262.4h1v1h-1zM123.5 280.8h1v1h-1zM125.5 282.8h1v1h-1zM128.5 261.8h1v1h-1zM128 261.8h1v1h-1zM131.5 286.8h1v1h-1zM125 263.4h1v1h-1zM138 280.4h1v1h-1zM85 286.8h1v1h-1zM80.5 278.8h1v1h-1zM80 283.4h1v1h-1z"/>
<path fill="#7864aa" d="M133 261.8h1v1h-1z"/>
<path fill="#7364aa" d="M125.5 263.8h1v1h-1zM135 262.8h1v1h-1zM136 265.4h1v1h-1zM123.5 264.8h1v1h-1zM139 269.4h1v1h-1zM131.5 285.4h1v1h-1zM131.5 286.4h1v1h-1zM122.5 264.4h1v1h-1z"/>
<path fill="#735faa" d="M131.5 262.4h1v1h-1zM133 263.4h1v1h-1zM126.5 262.8h1v1h-1zM135.5 279.8h1v1h-1zM131 284.4h1v1h-1zM121 275.8h1v1h-1zM121.5 275.8h1v1h-1zM120.5 270.8h1v1h-1zM139.5 276.4h1v1h-1zM135.5 281.4h1v1h-1zM128.5 284.4h1v1h-1zM136 264.8h1v1h-1zM122.5 277.8h1v1h-1zM129.5 262.8h1v1h-1zM138 277.4h1v1h-1zM137 265.4h1v1h-1zM139.5 272.8h1v1h-1zM125 264.8h1v1h-1zM135 263.8h1v1h-1zM135 263.4h1v1h-1zM122 269.8h1v1h-1zM139 271.4h1v1h-1zM124.5 263.8h1v1h-1zM124 265.8h1v1h-1zM132 284.8h1v1h-1zM131 284.4h1v1h-1zM131.5 282.8h1v1h-1zM129.5 283.4h1v1h-1zM131 285.8h1v1h-1zM130 283.8h1v1h-1zM128.5 282.8h1v1h-1zM128 283.4h1v1h-1zM125 263.8h1v1h-1zM123 266.8h1v1h-1zM137.5 278.4h1v1h-1z"/>
<path fill="#735aaa" d="M138 276.4h1v1h-1zM138.5 272.8h1v1h-1zM129 283.8h1v1h-1zM129 285.4h1v1h-1zM138.5 269.4h1v1h-1zM132 262.4h1v1h-1zM122.5 266.4h1v1h-1zM128 283.8h1v1h-1z"/>
<path fill="#6e5aaa" d="M125.5 281.8h1v1h-1zM125 264.8h1v1h-1zM122.5 266.8h1v1h-1zM138.5 272.8h1v1h-1zM127 282.4h1v1h-1zM139 272.4h1v1h-1zM136 280.8h1v1h-1zM138 268.8h1v1h-1zM121.5 271.4h1v1h-1zM135.5 265.8h1v1h-1zM124 265.8h1v1h-1zM134.5 281.4h1v1h-1zM128 283.4h1v1h-1zM127.5 262.8h1v1h-1zM138.5 276.8h1v1h-1zM135 264.4h1v1h-1zM123.5 277.8h1v1h-1zM134.5 281.4h1v1h-1zM129.5 284.8h1v1h-1zM126 281.8h1v1h-1zM138 267.8h1v1h-1zM121.5 270.4h1v1h-1zM137 267.8h1v1h-1z"/>
<path fill="#6e5aa5" d="M130.5 262.8h1v1h-1zM126 262.8h1v1h-1zM125 264.4h1v1h-1zM122 270.4h1v1h-1zM123.5 278.4h1v1h-1zM122.5 276.8h1v1h-1zM133.5 263.8h1v1h-1zM133.5 283.4h1v1h-1zM137.5 271.4h1v1h-1zM138.5 275.4h1v1h-1zM125 280.4h1v1h-1zM138 274.8h1v1h-1zM127.5 281.8h1v1h-1zM126 264.4h1v1h-1zM130.5 262.8h1v1h-1zM135.5 280.4h1v1h-1zM132 283.4h1v1h-1z"/>
<path fill="#6e55a5" d="M128 281.8h1v1h-1zM132.5 282.8h1v1h-1z"/>
<path fill="#6955a5" d="M128.5 282.8h1v1h-1zM137 276.4h1v1h-1zM122 274.8h1v1h-1zM122.5 273.8h1v1h-1zM130.5 282.8h1v1h-1zM128 281.4h1v1h-1zM130.5 283.4h1v1h-1zM122 272.4h1v1h-1zM136 278.8h1v1h-1zM126 264.8h1v1h-1zM133 262.8h1v1h-1zM137 266.8h1v1h-1zM124 279.4h1v1h-1zM133.5 281.4h1v1h-1zM131.5 282.4h1v1h-1zM122 274.4h1v1h-1zM123.5 277.8h1v1h-1zM123 270.4h1v1h-1zM125 266.4h1v1h-1zM122 273.4h1v1h-1zM132 263.8h1v1h-1zM122 274.8h1v1h-1zM128 282.4h1v1h-1zM130.5 282.8h1v1h-1zM127.5 282.8h1v1h-1zM138 271.4h1v1h-1zM137 277.8h1v1h-1zM138 273.4h1v1h-1zM136.5 278.8h1v1h-1zM122.5 268.8h1v1h-1zM123 269.4h1v1h-1zM134 280.4h1v1h-1zM122.5 270.8h1v1h-1zM136.5 266.8h1v1h-1zM122 274.4h1v1h-1zM132.5 281.8h1v1h-1zM137.5 273.8h1v1h-1zM133.5 281.4h1v1h-1zM136.5 278.4h1v1h-1zM123 277.8h1v1h-1zM123.5 279.8h1v1h-1zM129.5 283.4h1v1h-1zM132 282.8h1v1h-1zM132 282.4h1v1h-1zM129 283.8h1v1h-1zM130 281.8h1v1h-1zM128.5 282.4h1v1h-1zM125.5 265.8h1v1h-1zM136.5 267.4h1v1h-1zM135.5 265.4h1v1h-1zM135 264.8h1v1h-1zM132 262.8h1v1h-1zM124.5 279.4h1v1h-1zM129.5 282.8h1v1h-1z"/>
<path fill="#6455a0" d="M136.5 277.8h1v1h-1zM124.5 277.8h1v1h-1z"/>
<path fill="#6450a0" d="M133 264.4h1v1h-1zM132.5 263.8h1v1h-1zM133 281.8h1v1h-1zM138 274.4h1v1h-1zM125 266.4h1v1h-1zM123 269.8h1v1h-1zM125 278.8h1v1h-1zM128.5 282.8h1v1h-1zM138 273.4h1v1h-1zM126.5 280.8h1v1h-1zM124 266.8h1v1h-1zM126 279.8h1v1h-1zM126 281.4h1v1h-1zM125 265.8h1v1h-1zM131.5 282.8h1v1h-1zM136.5 268.4h1v1h-1zM124 270.4h1v1h-1zM131 281.8h1v1h-1zM123 268.4h1v1h-1zM131 282.8h1v1h-1zM125.5 279.4h1v1h-1zM127.5 264.4h1v1h-1zM127.5 280.8h1v1h-1zM127.5 263.8h1v1h-1zM124.5 277.4h1v1h-1zM137 278.4h1v1h-1zM137.5 270.8h1v1h-1zM133.5 263.8h1v1h-1zM130 263.4h1v1h-1zM123.5 274.8h1v1h-1zM124 277.8h1v1h-1zM136.5 277.4h1v1h-1zM134 264.8h1v1h-1zM132 263.4h1v1h-1zM131 263.4h1v1h-1zM123 269.8h1v1h-1zM129.5 282.8h1v1h-1zM128 281.4h1v1h-1zM128.5 282.4h1v1h-1zM136.5 278.4h1v1h-1zM136 266.8h1v1h-1zM137.5 269.4h1v1h-1zM136 266.8h1v1h-1zM128 264.4h1v1h-1zM130 263.4h1v1h-1z"/>
<path fill="#5f50a0" d="M136.5 272.4h1v1h-1zM124 277.4h1v1h-1zM132.5 281.4h1v1h-1z"/>
<path fill="#5f4ba0" d="M133.5 264.8h1v1h-1zM133 281.8h1v1h-1zM125.5 278.4h1v1h-1zM124 267.8h1v1h-1zM123.5 268.4h1v1h-1zM136.5 276.8h1v1h-1z"/>
<path fill="#5f4b9b" d="M129 264.4h1v1h-1zM123.5 272.8h1v1h-1zM133.5 264.4h1v1h-1zM124 269.4h1v1h-1zM135 266.4h1v1h-1zM131.5 263.8h1v1h-1zM136.5 273.4h1v1h-1zM124.5 279.8h1v1h-1zM125.5 266.4h1v1h-1zM126.5 265.4h1v1h-1zM124 278.8h1v1h-1zM131 281.8h1v1h-1zM137 271.4h1v1h-1zM123 273.8h1v1h-1zM125 277.8h1v1h-1zM137 273.8h1v1h-1zM126.5 266.4h1v1h-1zM124.5 276.8h1v1h-1zM124.5 266.8h1v1h-1zM124 269.8h1v1h-1zM124.5 267.4h1v1h-1zM127.5 265.8h1v1h-1zM125.5 277.8h1v1h-1zM123.5 274.4h1v1h-1zM128 265.4h1v1h-1zM125 277.4h1v1h-1zM128 282.4h1v1h-1zM134 265.4h1v1h-1zM136 269.4h1v1h-1zM136.5 276.4h1v1h-1zM132 281.8h1v1h-1zM137 273.4h1v1h-1zM123 273.4h1v1h-1z"/>
<path fill="#5a4b9b" d="M134.5 267.4h1v1h-1zM137 276.4h1v1h-1zM124.5 277.4h1v1h-1zM126.5 266.4h1v1h-1zM126 278.8h1v1h-1zM136.5 268.4h1v1h-1zM124.5 267.8h1v1h-1zM123.5 273.4h1v1h-1zM136 267.4h1v1h-1zM136 275.8h1v1h-1zM135.5 278.4h1v1h-1zM124 275.8h1v1h-1zM123 273.4h1v1h-1z"/>
<path fill="#5a469b" d="M134 266.4h1v1h-1zM135 266.4h1v1h-1zM123 271.4h1v1h-1zM129.5 264.8h1v1h-1zM135 278.8h1v1h-1zM124.5 277.4h1v1h-1zM126 279.4h1v1h-1zM126.5 266.4h1v1h-1zM125.5 278.8h1v1h-1zM123 273.4h1v1h-1zM133.5 280.8h1v1h-1zM133 264.4h1v1h-1zM132 281.4h1v1h-1zM130.5 281.4h1v1h-1z"/>
<path fill="#5a4696" d="M128.5 280.4h1v1h-1zM132 264.4h1v1h-1zM124.5 268.8h1v1h-1zM123.5 274.8h1v1h-1zM129 280.8h1v1h-1zM124 274.4h1v1h-1zM137 270.4h1v1h-1zM125.5 267.4h1v1h-1zM124 270.4h1v1h-1zM134.5 278.8h1v1h-1zM136.5 274.4h1v1h-1zM136 274.8h1v1h-1zM131 264.4h1v1h-1zM125 268.4h1v1h-1zM135.5 277.4h1v1h-1zM133.5 279.4h1v1h-1zM128 280.8h1v1h-1zM132 264.8h1v1h-1zM124 276.4h1v1h-1zM136.5 271.8h1v1h-1z"/>
<path fill="#554696" d="M127 265.8h1v1h-1zM129.5 280.8h1v1h-1zM130.5 264.4h1v1h-1zM127.5 265.8h1v1h-1zM136 275.4h1v1h-1zM130 264.4h1v1h-1zM136.5 272.8h1v1h-1zM134 278.4h1v1h-1zM136 276.4h1v1h-1zM124 270.8h1v1h-1zM128.5 280.4h1v1h-1zM128 265.4h1v1h-1zM124.5 270.8h1v1h-1zM124 274.8h1v1h-1zM128 265.8h1v1h-1zM125 267.8h1v1h-1zM123.5 271.8h1v1h-1zM124.5 268.8h1v1h-1zM136 268.8h1v1h-1zM131.5 280.8h1v1h-1zM135 267.8h1v1h-1zM135 267.8h1v1h-1zM136.5 272.4h1v1h-1zM132 279.8h1v1h-1zM132 280.4h1v1h-1zM132 280.8h1v1h-1zM136.5 276.4h1v1h-1zM124.5 270.8h1v1h-1zM136 275.8h1v1h-1zM136.5 273.8h1v1h-1zM127 279.8h1v1h-1zM132.5 280.4h1v1h-1zM130 280.4h1v1h-1zM133 265.8h1v1h-1z"/>
<path fill="#554196" d="M124.5 270.8h1v1h-1zM125.5 267.4h1v1h-1zM131.5 265.4h1v1h-1zM132 265.4h1v1h-1zM131 280.8h1v1h-1zM131 264.8h1v1h-1z"/>
<path fill="#554191" d="M133.5 265.8h1v1h-1zM133.5 279.4h1v1h-1zM128.5 264.8h1v1h-1zM124.5 273.8h1v1h-1zM131.5 280.4h1v1h-1zM135 277.4h1v1h-1zM129 280.8h1v1h-1zM124 271.8h1v1h-1zM132 279.8h1v1h-1zM135.5 276.4h1v1h-1zM130 265.4h1v1h-1zM135.5 276.8h1v1h-1zM134 278.8h1v1h-1zM134.5 278.4h1v1h-1zM134.5 266.8h1v1h-1zM130.5 281.4h1v1h-1zM124 269.4h1v1h-1zM135.5 275.8h1v1h-1zM127.5 279.4h1v1h-1zM133.5 265.8h1v1h-1zM129 280.4h1v1h-1z"/>
<path fill="#504191" d="M131.5 265.4h1v1h-1zM127.5 265.8h1v1h-1zM131 264.8h1v1h-1zM127 278.4h1v1h-1zM133 279.4h1v1h-1zM125 268.4h1v1h-1zM135.5 270.8h1v1h-1zM127.5 278.8h1v1h-1zM126 277.4h1v1h-1zM125 276.8h1v1h-1zM126.5 267.4h1v1h-1zM131.5 280.4h1v1h-1zM131 280.8h1v1h-1zM133.5 278.8h1v1h-1zM136 275.8h1v1h-1zM135 267.8h1v1h-1zM133.5 278.8h1v1h-1zM136.5 272.8h1v1h-1zM135 277.4h1v1h-1zM135 276.8h1v1h-1zM127 279.4h1v1h-1zM132 265.4h1v1h-1zM125.5 268.4h1v1h-1zM136 273.8h1v1h-1zM129 265.8h1v1h-1zM125 270.4h1v1h-1zM129.5 279.8h1v1h-1zM128.5 265.8h1v1h-1zM128.5 265.4h1v1h-1zM132 265.4h1v1h-1zM128.5 265.4h1v1h-1zM127 266.4h1v1h-1zM132 265.4h1v1h-1zM135.5 275.4h1v1h-1z"/>
<path fill="#50418c" d="M133.5 266.4h1v1h-1zM129 280.4h1v1h-1zM132.5 265.8h1v1h-1zM135.5 275.4h1v1h-1zM133 265.8h1v1h-1zM125 269.4h1v1h-1zM131 280.4h1v1h-1zM126 267.8h1v1h-1zM135.5 275.4h1v1h-1zM126.5 267.4h1v1h-1zM126.5 277.8h1v1h-1zM125.5 267.8h1v1h-1zM128 279.4h1v1h-1zM136 270.4h1v1h-1zM135.5 273.8h1v1h-1zM126 277.4h1v1h-1zM128 279.8h1v1h-1zM125 269.8h1v1h-1zM124 273.8h1v1h-1zM125 275.8h1v1h-1zM124.5 270.8h1v1h-1zM124.5 272.8h1v1h-1zM128 279.8h1v1h-1zM133.5 266.8h1v1h-1zM125 275.4h1v1h-1zM125 269.4h1v1h-1zM135 276.8h1v1h-1zM124.5 274.4h1v1h-1zM135 276.8h1v1h-1zM132 280.4h1v1h-1z"/>
<path fill="#4b418c" d="M130.5 279.4h1v1h-1zM132.5 279.4h1v1h-1zM134.5 277.4h1v1h-1zM133.5 278.4h1v1h-1zM135 270.4h1v1h-1zM130 264.8h1v1h-1zM135.5 271.8h1v1h-1zM125.5 277.4h1v1h-1zM134 267.4h1v1h-1zM135.5 272.8h1v1h-1zM129 279.8h1v1h-1zM128 265.8h1v1h-1zM135 275.4h1v1h-1zM128.5 279.4h1v1h-1zM131 265.4h1v1h-1zM125 273.8h1v1h-1zM126 276.8h1v1h-1zM135.5 269.8h1v1h-1zM135 269.4h1v1h-1zM125 274.4h1v1h-1zM125.5 268.4h1v1h-1zM127.5 279.4h1v1h-1zM135.5 274.4h1v1h-1zM125.5 269.8h1v1h-1zM125.5 269.4h1v1h-1zM135 274.4h1v1h-1zM135 273.4h1v1h-1zM135.5 269.8h1v1h-1z"/>
<path fill="#4b4187" d="M125.5 270.4h1v1h-1zM133.5 278.4h1v1h-1zM132 279.4h1v1h-1zM125 272.8h1v1h-1zM134 277.4h1v1h-1zM132.5 278.4h1v1h-1zM125.5 274.4h1v1h-1zM126.5 277.4h1v1h-1zM128.5 278.8h1v1h-1zM134.5 268.8h1v1h-1zM126.5 268.4h1v1h-1zM132 265.8h1v1h-1zM132 265.4h1v1h-1zM134 277.8h1v1h-1zM133.5 278.4h1v1h-1zM126 275.8h1v1h-1zM134.5 268.8h1v1h-1zM135 275.4h1v1h-1zM132.5 279.4h1v1h-1zM129.5 266.4h1v1h-1zM135.5 273.8h1v1h-1zM125.5 275.4h1v1h-1zM126 276.4h1v1h-1zM133 266.8h1v1h-1zM125 273.8h1v1h-1zM130.5 279.8h1v1h-1zM127 267.4h1v1h-1zM128 278.8h1v1h-1zM125 271.4h1v1h-1z"/>
<path fill="#464187" d="M132 266.4h1v1h-1zM135 270.8h1v1h-1zM128.5 266.4h1v1h-1zM131 266.4h1v1h-1zM126 274.8h1v1h-1zM126 272.8h1v1h-1zM133 266.8h1v1h-1zM131.5 266.4h1v1h-1zM134 267.8h1v1h-1zM132.5 278.8h1v1h-1zM125.5 271.8h1v1h-1zM128.5 278.8h1v1h-1zM127.5 267.4h1v1h-1zM134.5 268.8h1v1h-1zM133.5 277.8h1v1h-1zM128.5 278.8h1v1h-1z"/>
<path fill="#464182" d="M127 267.8h1v1h-1z"/>
<path fill="#463c82" d="M125.5 275.4h1v1h-1zM135 270.4h1v1h-1zM130.5 265.8h1v1h-1zM129.5 279.4h1v1h-1zM134.5 273.4h1v1h-1zM135 273.8h1v1h-1zM128.5 278.4h1v1h-1zM127.5 278.4h1v1h-1zM129 278.8h1v1h-1zM132.5 266.4h1v1h-1zM127.5 267.8h1v1h-1zM135 273.4h1v1h-1zM128 278.8h1v1h-1zM127.5 277.4h1v1h-1zM134.5 275.8h1v1h-1zM134.5 275.4h1v1h-1zM125.5 274.4h1v1h-1zM131.5 266.8h1v1h-1zM133.5 266.8h1v1h-1zM127 277.4h1v1h-1zM125.5 271.4h1v1h-1zM130.5 266.4h1v1h-1zM133.5 277.8h1v1h-1zM135 270.8h1v1h-1zM126.5 276.4h1v1h-1zM134 276.8h1v1h-1zM126 269.4h1v1h-1zM134 268.4h1v1h-1zM126 270.4h1v1h-1zM126 274.8h1v1h-1zM135 272.8h1v1h-1zM135 270.4h1v1h-1zM127 276.8h1v1h-1zM133.5 277.8h1v1h-1zM128.5 266.4h1v1h-1zM127 267.8h1v1h-1zM125 272.8h1v1h-1zM135 271.8h1v1h-1zM126 271.8h1v1h-1zM125.5 270.8h1v1h-1zM126 274.4h1v1h-1z"/>
<path fill="#413c82" d="M132.5 267.4h1v1h-1zM126 272.8h1v1h-1zM134.5 269.8h1v1h-1zM132.5 266.8h1v1h-1zM135 273.4h1v1h-1zM134.5 269.8h1v1h-1zM127.5 268.4h1v1h-1zM134 268.8h1v1h-1zM131 278.8h1v1h-1z"/>
<path fill="#413c7d" d="M131 278.8h1v1h-1zM126 274.4h1v1h-1zM133.5 268.4h1v1h-1zM131.5 266.4h1v1h-1zM128.5 267.4h1v1h-1zM129.5 266.8h1v1h-1zM129.5 278.4h1v1h-1zM134 276.4h1v1h-1zM134 270.8h1v1h-1zM135 272.8h1v1h-1zM129.5 266.8h1v1h-1zM133.5 275.8h1v1h-1zM133 266.8h1v1h-1zM127 268.4h1v1h-1zM132.5 267.4h1v1h-1zM132 277.8h1v1h-1zM126 273.8h1v1h-1zM134.5 272.8h1v1h-1zM131.5 278.4h1v1h-1zM127.5 268.8h1v1h-1zM133 267.4h1v1h-1zM134.5 274.8h1v1h-1zM129.5 278.8h1v1h-1zM125.5 273.8h1v1h-1zM133 268.4h1v1h-1zM126 272.8h1v1h-1zM132.5 277.8h1v1h-1zM126 275.8h1v1h-1zM131 266.4h1v1h-1zM134 269.4h1v1h-1zM126.5 268.8h1v1h-1zM126.5 270.4h1v1h-1z"/>
<path fill="#46417d" d="M129.5 266.8h1v1h-1zM126 272.8h1v1h-1zM126 272.4h1v1h-1zM132 277.8h1v1h-1zM130.5 266.4h1v1h-1zM127 275.8h1v1h-1zM134.5 270.8h1v1h-1zM132 277.8h1v1h-1zM129 278.4h1v1h-1zM127 269.4h1v1h-1zM133 277.4h1v1h-1zM126.5 270.4h1v1h-1zM134 269.8h1v1h-1zM129 278.4h1v1h-1z"/>
<path fill="#46467d" d="M129.5 266.8h1v1h-1zM133 277.4h1v1h-1zM126 273.4h1v1h-1zM134.5 272.8h1v1h-1zM126.5 274.4h1v1h-1zM131 266.4h1v1h-1zM132 278.4h1v1h-1zM126.5 275.8h1v1h-1zM129.5 278.4h1v1h-1zM128 276.8h1v1h-1z"/>
<path fill="#4b467d" d="M132.5 277.8h1v1h-1zM133.5 275.4h1v1h-1zM130 278.4h1v1h-1zM126 274.4h1v1h-1zM127.5 275.8h1v1h-1zM126 272.4h1v1h-1zM130.5 266.8h1v1h-1zM134 268.8h1v1h-1z"/>
<path fill="#4b4b7d" d="M128 277.4h1v1h-1zM131 278.4h1v1h-1zM128.5 277.4h1v1h-1zM134.5 270.8h1v1h-1zM130 267.4h1v1h-1zM128.5 267.4h1v1h-1zM134 270.4h1v1h-1zM126 270.8h1v1h-1zM131 266.8h1v1h-1z"/>
<path fill="#4b4b82" d="M133 268.4h1v1h-1zM134 275.4h1v1h-1zM134.5 272.8h1v1h-1zM131 278.4h1v1h-1zM131.5 277.8h1v1h-1zM134 276.4h1v1h-1zM132.5 277.8h1v1h-1zM127.5 268.4h1v1h-1zM134 274.8h1v1h-1zM128.5 267.8h1v1h-1zM127.5 276.4h1v1h-1zM132.5 277.4h1v1h-1zM128 267.8h1v1h-1z"/>
<path fill="#504b82" d="M134.5 272.4h1v1h-1zM132.5 277.4h1v1h-1zM134 274.8h1v1h-1zM133 276.8h1v1h-1zM132.5 267.4h1v1h-1z"/>
<path fill="#505082" d="M128.5 276.8h1v1h-1zM129 266.8h1v1h-1zM127.5 275.8h1v1h-1zM131 267.4h1v1h-1zM133.5 276.4h1v1h-1zM134 273.8h1v1h-1zM127 274.4h1v1h-1zM126.5 270.4h1v1h-1zM126.5 271.8h1v1h-1zM127.5 270.4h1v1h-1zM133.5 276.4h1v1h-1zM126.5 272.8h1v1h-1zM134 274.4h1v1h-1z"/>
<path fill="#555582" d="M129 277.8h1v1h-1zM134 271.4h1v1h-1zM126 274.4h1v1h-1zM128.5 268.4h1v1h-1zM134 272.4h1v1h-1zM130.5 277.8h1v1h-1z"/>
<path fill="#555a82" d="M127 270.4h1v1h-1zM134 273.8h1v1h-1zM128 276.4h1v1h-1zM134 271.8h1v1h-1z"/>
<path fill="#5a5a82" d="M134 273.8h1v1h-1zM133.5 270.8h1v1h-1zM133 276.4h1v1h-1zM134 274.8h1v1h-1zM127 271.8h1v1h-1zM128 268.8h1v1h-1zM134 272.8h1v1h-1zM132.5 276.8h1v1h-1zM134 274.4h1v1h-1zM132.5 268.4h1v1h-1zM134 272.8h1v1h-1zM127 271.8h1v1h-1zM127.5 269.4h1v1h-1zM133 276.4h1v1h-1z"/>
<path fill="#5a5f82" d="M129 276.8h1v1h-1zM127.5 269.4h1v1h-1zM131.5 267.8h1v1h-1zM133 268.4h1v1h-1zM134 272.4h1v1h-1zM128.5 268.4h1v1h-1zM127 270.4h1v1h-1zM130.5 277.4h1v1h-1zM127 273.8h1v1h-1z"/>
<path fill="#5f5f82" d="M127 271.4h1v1h-1zM132 276.8h1v1h-1zM127.5 269.4h1v1h-1z"/>
<path fill="#5f5f87" d="M133 276.4h1v1h-1zM126.5 272.4h1v1h-1zM133.5 269.8h1v1h-1zM134 273.8h1v1h-1z"/>
<path fill="#5f6487" d="M130 277.4h1v1h-1zM132 267.8h1v1h-1zM133.5 275.4h1v1h-1zM133 268.8h1v1h-1zM127 272.8h1v1h-1zM132 267.8h1v1h-1zM133.5 275.8h1v1h-1zM131 267.8h1v1h-1zM127 271.8h1v1h-1zM130 267.4h1v1h-1zM127.5 270.4h1v1h-1zM127.5 272.4h1v1h-1zM128 275.4h1v1h-1z"/>
<path fill="#646487" d="M128.5 276.4h1v1h-1z"/>
<path fill="#646987" d="M130 267.8h1v1h-1zM130.5 277.4h1v1h-1zM131 277.8h1v1h-1zM133.5 270.4h1v1h-1zM127.5 274.4h1v1h-1zM131.5 277.4h1v1h-1zM133.5 270.4h1v1h-1z"/>
<path fill="#646982" d="M127.5 270.4h1v1h-1zM132.5 268.8h1v1h-1z"/>
<path fill="#696e82" d="M127.5 274.4h1v1h-1zM129.5 276.8h1v1h-1zM133.5 270.4h1v1h-1zM127.5 270.4h1v1h-1zM127.5 271.8h1v1h-1zM131.5 277.4h1v1h-1zM128 275.8h1v1h-1z"/>
<path fill="#6e7382" d="M130.5 267.4h1v1h-1zM133 274.8h1v1h-1zM132 268.4h1v1h-1zM132 267.8h1v1h-1zM129.5 268.4h1v1h-1z"/>
<path fill="#6e7882" d="M127.5 272.8h1v1h-1z"/>
<path fill="#737882" d="M129 268.8h1v1h-1zM127.5 272.8h1v1h-1zM127.5 274.8h1v1h-1zM129.5 267.8h1v1h-1zM131 267.8h1v1h-1zM130.5 277.8h1v1h-1zM130.5 277.4h1v1h-1z"/>
<path fill="#73787d" d="M129.5 276.4h1v1h-1zM133.5 271.4h1v1h-1z"/>
<path fill="#787d7d" d="M134 272.8h1v1h-1zM133.5 271.8h1v1h-1zM133.5 270.8h1v1h-1zM133 269.4h1v1h-1zM128 275.4h1v1h-1zM128.5 276.4h1v1h-1z"/>
<path fill="#78827d" d="M128 269.4h1v1h-1zM129 275.4h1v1h-1z"/>
<path fill="#7d827d" d="M132 268.4h1v1h-1zM132 269.4h1v1h-1zM127.5 273.8h1v1h-1zM128.5 269.4h1v1h-1zM128 271.4h1v1h-1zM128 275.4h1v1h-1z"/>
<path fill="#7d877d" d="M129 269.4h1v1h-1zM127.5 272.8h1v1h-1zM127.5 274.4h1v1h-1zM133 274.4h1v1h-1z"/>
<path fill="#82877d" d="M129.5 277.4h1v1h-1zM129.5 276.4h1v1h-1z"/>
<path fill="#828778" d="M129.5 275.8h1v1h-1z"/>
<path fill="#828c78" d="M127.5 272.8h1v1h-1zM131.5 276.4h1v1h-1zM133.5 272.8h1v1h-1zM129.5 276.8h1v1h-1z"/>
<path fill="#878c78" d="M128 273.8h1v1h-1zM133.5 271.4h1v1h-1zM128 270.8h1v1h-1z"/>
<path fill="#879178" d="M129 276.4h1v1h-1zM129 275.8h1v1h-1zM132 276.4h1v1h-1zM130.5 276.8h1v1h-1zM133 270.8h1v1h-1zM129.5 276.4h1v1h-1zM131.5 276.8h1v1h-1z"/>
<path fill="#8c9178" d="M132.5 269.8h1v1h-1zM130.5 267.8h1v1h-1zM132.5 269.4h1v1h-1zM130.5 268.4h1v1h-1zM133 270.4h1v1h-1zM132.5 275.8h1v1h-1zM131 276.8h1v1h-1z"/>
<path fill="#8c9673" d="M133 271.8h1v1h-1z"/>
<path fill="#919673" d="M130 276.4h1v1h-1zM128.5 270.4h1v1h-1zM132.5 274.8h1v1h-1zM132.5 275.4h1v1h-1zM132.5 269.8h1v1h-1zM132.5 274.8h1v1h-1z"/>
<path fill="#969b73" d="M129 268.8h1v1h-1zM128 270.4h1v1h-1zM128 271.4h1v1h-1zM127.5 272.4h1v1h-1zM130 268.8h1v1h-1zM128 272.8h1v1h-1zM129 268.8h1v1h-1zM132.5 275.8h1v1h-1zM129.5 276.4h1v1h-1zM132.5 274.4h1v1h-1z"/>
<path fill="#9b9b73" d="M129 269.4h1v1h-1zM128.5 274.8h1v1h-1z"/>
<path fill="#9ba073" d="M130 276.4h1v1h-1zM133 273.4h1v1h-1z"/>
<path fill="#9ba06e" d="M130 268.8h1v1h-1zM128 274.4h1v1h-1zM128 274.4h1v1h-1z"/>
<path fill="#a0a06e" d="M128 271.8h1v1h-1zM128 271.8h1v1h-1zM133 272.4h1v1h-1zM133 273.4h1v1h-1zM128 270.4h1v1h-1zM133 272.4h1v1h-1z"/>
<path fill="#a0a56e" d="M132 275.4h1v1h-1zM131.5 275.8h1v1h-1zM129.5 275.8h1v1h-1zM130 275.8h1v1h-1zM129 274.8h1v1h-1z"/>
<path fill="#a5a56e" d="M131.5 269.4h1v1h-1zM130 268.8h1v1h-1zM132 269.4h1v1h-1zM130 276.8h1v1h-1zM128.5 271.4h1v1h-1zM129.5 275.8h1v1h-1z"/>
<path fill="#aaaa6e" d="M130.5 268.8h1v1h-1z"/>
<path fill="#aaaa69" d="M132.5 270.4h1v1h-1zM129 270.4h1v1h-1zM133 270.8h1v1h-1zM130.5 269.4h1v1h-1zM129.5 269.4h1v1h-1z"/>
<path fill="#afaa69" d="M131 276.4h1v1h-1z"/>
<path fill="#afaf69" d="M128 271.8h1v1h-1zM129 275.4h1v1h-1zM130 275.4h1v1h-1zM130 268.4h1v1h-1zM131 269.8h1v1h-1zM132.5 274.4h1v1h-1zM129 274.8h1v1h-1z"/>
<path fill="#b4af69" d="M132 269.4h1v1h-1zM128.5 274.8h1v1h-1z"/>
<path fill="#b4b464" d="M128.5 270.8h1v1h-1z"/>
<path fill="#b4af64" d="M132.5 270.8h1v1h-1zM132 269.8h1v1h-1z"/>
<path fill="#b9af64" d="M129.5 275.4h1v1h-1zM132 275.4h1v1h-1z"/>
<path fill="#b9af5f" d="M132 270.4h1v1h-1zM131 269.4h1v1h-1zM131.5 275.8h1v1h-1zM128.5 272.8h1v1h-1zM132 274.8h1v1h-1zM132.5 270.4h1v1h-1zM128 272.8h1v1h-1z"/>
<path fill="#beaf5f" d="M131.5 269.8h1v1h-1z"/>
<path fill="#beaf5a" d="M132.5 270.8h1v1h-1zM128.5 273.4h1v1h-1zM128.5 272.4h1v1h-1zM128.5 272.4h1v1h-1zM132 270.4h1v1h-1zM131 275.4h1v1h-1zM131.5 270.8h1v1h-1z"/>
<path fill="#c3af5a" d="M130 269.4h1v1h-1z"/>
<path fill="#c3aa55" d="M128.5 271.4h1v1h-1zM129.5 269.8h1v1h-1zM131 268.8h1v1h-1zM130 274.8h1v1h-1zM130 274.8h1v1h-1zM132 271.4h1v1h-1z"/>
<path fill="#c8aa50" d="M133 272.4h1v1h-1zM132.5 274.4h1v1h-1zM131.5 271.4h1v1h-1zM131 269.4h1v1h-1zM130.5 269.8h1v1h-1z"/>
<path fill="#c8aa4b" d="M132 273.8h1v1h-1zM128.5 273.8h1v1h-1z"/>
<path fill="#cdaa4b" d="M130 269.8h1v1h-1zM129 271.8h1v1h-1zM131.5 269.8h1v1h-1zM129 271.8h1v1h-1zM132.5 271.8h1v1h-1zM128.5 271.8h1v1h-1zM132 275.4h1v1h-1zM129 273.4h1v1h-1z"/>
<path fill="#cda546" d="M132.5 272.8h1v1h-1z"/>
<path fill="#d2a546" d="M131.5 274.8h1v1h-1zM129.5 270.8h1v1h-1zM132.5 273.4h1v1h-1zM130 269.4h1v1h-1zM132 275.4h1v1h-1z"/>
<path fill="#d2a541" d="M131.5 269.8h1v1h-1zM132.5 272.4h1v1h-1z"/>
<path fill="#d2a041" d="M129.5 273.4h1v1h-1zM129.5 274.8h1v1h-1zM129.5 275.4h1v1h-1zM129 272.8h1v1h-1zM132.5 272.4h1v1h-1zM129 272.8h1v1h-1zM131 274.8h1v1h-1z"/>
<path fill="#cda041" d="M131.5 269.8h1v1h-1zM132.5 273.4h1v1h-1z"/>
<path fill="#cd9b41" d="M132 270.8h1v1h-1zM128.5 272.4h1v1h-1zM131.5 273.8h1v1h-1z"/>
<path fill="#cd9b3c" d="M130 269.8h1v1h-1zM130.5 270.4h1v1h-1zM129.5 273.8h1v1h-1zM130 270.8h1v1h-1zM130 275.4h1v1h-1zM132 273.4h1v1h-1zM129 271.8h1v1h-1z"/>
<path fill="#c8963c" d="M129.5 274.8h1v1h-1zM131 270.4h1v1h-1zM131 274.8h1v1h-1zM129.5 270.8h1v1h-1z"/>
<path fill="#c89137" d="M129 273.4h1v1h-1zM131.5 274.4h1v1h-1zM131 270.4h1v1h-1zM130.5 269.8h1v1h-1zM129.5 273.4h1v1h-1zM131.5 270.8h1v1h-1zM130.5 274.4h1v1h-1zM129.5 270.4h1v1h-1z"/>
<path fill="#c39137" d="M131.5 270.4h1v1h-1z"/>
<path fill="#c38c37" d="M131.5 273.8h1v1h-1zM129 271.8h1v1h-1zM129.5 273.4h1v1h-1zM131 274.4h1v1h-1zM132 272.4h1v1h-1zM131.5 274.4h1v1h-1zM130 274.4h1v1h-1zM131 274.4h1v1h-1zM130.5 270.4h1v1h-1z"/>
<path fill="#c38c32" d="M129 273.4h1v1h-1zM131 274.4h1v1h-1zM130.5 272.4h1v1h-1z"/>
<path fill="#c38732" d="M130.5 270.4h1v1h-1zM132 271.4h1v1h-1zM129 271.8h1v1h-1zM131 270.8h1v1h-1zM131 274.8h1v1h-1zM131 270.4h1v1h-1zM130 270.8h1v1h-1zM129.5 272.4h1v1h-1z"/>
<path fill="#be8732" d="M129.5 272.8h1v1h-1zM132 273.4h1v1h-1zM129.5 272.8h1v1h-1zM131 272.4h1v1h-1z"/>
<path fill="#be8232" d="M131.5 270.8h1v1h-1z"/>
<path fill="#be822d" d="M130 272.4h1v1h-1zM130 272.4h1v1h-1zM129.5 273.4h1v1h-1z"/>
<path fill="#be7d2d" d="M130 271.4h1v1h-1zM130 273.4h1v1h-1z"/>
<path fill="#b97d2d" d="M130.5 272.4h1v1h-1zM130.5 274.4h1v1h-1zM130 272.8h1v1h-1zM130.5 271.8h1v1h-1zM131.5 272.8h1v1h-1zM131 272.4h1v1h-1zM130 272.4h1v1h-1zM130 271.8h1v1h-1zM129.5 271.8h1v1h-1zM130 273.4h1v1h-1zM131.5 272.4h1v1h-1zM131.5 272.8h1v1h-1zM131 272.8h1v1h-1zM132 271.4h1v1h-1zM130.5 272.4h1v1h-1zM130.5 273.8h1v1h-1zM130 271.4h1v1h-1zM131 271.8h1v1h-1zM131 272.8h1v1h-1zM131.5 273.4h1v1h-1zM131.5 270.8h1v1h-1zM131.5 272.4h1v1h-1zM130.5 272.8h1v1h-1zM130 273.8h1v1h-1zM131 271.4h1v1h-1zM129.5 272.4h1v1h-1zM131.5 272.4h1v1h-1zM130 272.8h1v1h-1zM129.5 273.8h1v1h-1zM130 270.8h1v1h-1zM130.5 273.8h1v1h-1zM130 272.4h1v1h-1zM131 270.4h1v1h-1zM130 272.8h1v1h-1zM131 271.4h1v1h-1zM130.5 271.8h1v1h-1zM130.5 274.8h1v1h-1zM130.5 274.4h1v1h-1zM130.5 272.4h1v1h-1zM131 270.8h1v1h-1z"/>
</g>
<path d="M108.50 189.85V311.85M55.50 275.20H180.30" stroke="#a46c7e" stroke-width="0.9" fill="none"/>
<rect x="55.50" y="189.85" width="124.80" height="122.00" fill="none" stroke="#111" stroke-width="1.4"/>
<path d="M55.50 311.85v3M55.50 311.85h-3M64.89 311.85v1.7M55.50 302.67h-1.7M70.39 311.85v1.7M55.50 297.30h-1.7M74.28 311.85v1.7M55.50 293.49h-1.7M77.31 311.85v2.4M55.50 290.53h-2.4M79.78 311.85v1.7M55.50 288.12h-1.7M81.87 311.85v1.7M55.50 286.07h-1.7M83.68 311.85v1.7M55.50 284.31h-1.7M85.27 311.85v1.7M55.50 282.75h-1.7M86.70 311.85v3M55.50 281.35h-3M96.09 311.85v1.7M55.50 272.17h-1.7M101.59 311.85v1.7M55.50 266.80h-1.7M105.48 311.85v1.7M55.50 262.99h-1.7M108.51 311.85v2.4M55.50 260.03h-2.4M110.98 311.85v1.7M55.50 257.62h-1.7M113.07 311.85v1.7M55.50 255.57h-1.7M114.88 311.85v1.7M55.50 253.81h-1.7M116.47 311.85v1.7M55.50 252.25h-1.7M117.90 311.85v3M55.50 250.85h-3M127.29 311.85v1.7M55.50 241.67h-1.7M132.79 311.85v1.7M55.50 236.30h-1.7M136.68 311.85v1.7M55.50 232.49h-1.7M139.71 311.85v2.4M55.50 229.53h-2.4M142.18 311.85v1.7M55.50 227.12h-1.7M144.27 311.85v1.7M55.50 225.07h-1.7M146.08 311.85v1.7M55.50 223.31h-1.7M147.67 311.85v1.7M55.50 221.75h-1.7M149.10 311.85v3M55.50 220.35h-3M158.49 311.85v1.7M55.50 211.17h-1.7M163.99 311.85v1.7M55.50 205.80h-1.7M167.88 311.85v1.7M55.50 201.99h-1.7M170.91 311.85v2.4M55.50 199.03h-2.4M173.38 311.85v1.7M55.50 196.62h-1.7M175.47 311.85v1.7M55.50 194.57h-1.7M177.28 311.85v1.7M55.50 192.81h-1.7M178.87 311.85v1.7M55.50 191.25h-1.7M180.30 311.85v3M55.50 189.85h-3" stroke="#111" stroke-width="0.9" fill="none"/>
<text class="k" x="55.75" y="326.95" text-anchor="middle">10<tspan class="s" dy="-3.3">0</tspan></text>
<text class="k" x="50.90" y="315.95" text-anchor="end">10<tspan class="s" dy="-3.3">0</tspan></text>
<text class="k" x="87.15" y="326.95" text-anchor="middle">10<tspan class="s" dy="-3.3">1</tspan></text>
<text class="k" x="50.90" y="285.45" text-anchor="end">10<tspan class="s" dy="-3.3">1</tspan></text>
<text class="k" x="117.25" y="326.95" text-anchor="middle">10<tspan class="s" dy="-3.3">2</tspan></text>
<text class="k" x="50.90" y="254.95" text-anchor="end">10<tspan class="s" dy="-3.3">2</tspan></text>
<text class="k" x="149.85" y="326.95" text-anchor="middle">10<tspan class="s" dy="-3.3">3</tspan></text>
<text class="k" x="50.90" y="224.45" text-anchor="end">10<tspan class="s" dy="-3.3">3</tspan></text>
<text class="k" x="179.75" y="326.95" text-anchor="middle">10<tspan class="s" dy="-3.3">4</tspan></text>
<text class="k" x="50.90" y="193.95" text-anchor="end">10<tspan class="s" dy="-3.3">4</tspan></text>
<text class="t" x="114.65" y="182.65" text-anchor="middle">21 days</text>
<text class="q" x="58.90" y="199.65">0.55</text>
<text class="q" x="176.70" y="199.65" text-anchor="end">57.9</text>
<text class="q" x="58.90" y="308.15">5.54</text>
<text class="q" x="176.70" y="308.15" text-anchor="end">36</text>
<text class="b" x="139.60" y="229.25" text-anchor="middle">37.1%</text>
<text class="i" x="139.60" y="242.05" text-anchor="middle">Inhibition</text>
<g filter="url(#bl)">
<path fill="#a0a0be" d="M292.9 253.8h1v1h-1zM285.4 255.8h1v1h-1zM283.9 261.4h1v1h-1zM283.9 280.8h1v1h-1zM306.9 260.8h1v1h-1zM288.4 287.8h1v1h-1zM296.4 256.8h1v1h-1zM300.4 256.4h1v1h-1zM278.9 272.8h1v1h-1zM305.9 251.8h1v1h-1zM310.9 274.4h1v1h-1zM295.9 254.8h1v1h-1zM310.4 284.4h1v1h-1zM292.4 297.4h1v1h-1zM305.9 279.4h1v1h-1zM310.9 278.4h1v1h-1zM289.4 288.8h1v1h-1zM288.4 252.8h1v1h-1zM299.4 250.4h1v1h-1zM293.9 255.4h1v1h-1zM277.9 263.4h1v1h-1zM299.9 251.8h1v1h-1zM301.9 246.4h1v1h-1zM293.9 244.8h1v1h-1zM297.9 256.8h1v1h-1zM246.9 290.4h1v1h-1zM233.9 283.4h1v1h-1zM245.4 299.8h1v1h-1zM243.9 273.4h1v1h-1zM224.9 283.8h1v1h-1zM253.4 287.8h1v1h-1zM250.4 291.4h1v1h-1zM241.9 270.8h1v1h-1zM240.4 303.4h1v1h-1zM224.9 291.4h1v1h-1zM238.4 297.8h1v1h-1zM243.9 290.8h1v1h-1zM242.9 285.4h1v1h-1zM250.9 285.8h1v1h-1zM245.4 293.8h1v1h-1zM243.9 269.4h1v1h-1zM244.4 303.4h1v1h-1zM229.9 278.8h1v1h-1zM247.4 282.8h1v1h-1zM223.4 276.4h1v1h-1zM232.4 268.4h1v1h-1zM243.9 282.4h1v1h-1zM256.4 272.8h1v1h-1zM224.4 287.4h1v1h-1zM268.9 282.8h1v1h-1zM256.4 298.8h1v1h-1zM242.4 280.8h1v1h-1zM224.9 279.8h1v1h-1zM241.9 287.8h1v1h-1zM247.4 290.8h1v1h-1zM247.9 274.8h1v1h-1zM243.4 286.4h1v1h-1zM243.4 293.4h1v1h-1zM240.4 287.4h1v1h-1zM249.4 268.8h1v1h-1zM233.9 275.4h1v1h-1zM238.4 298.4h1v1h-1zM233.9 270.4h1v1h-1zM252.9 267.8h1v1h-1zM223.9 281.4h1v1h-1zM225.9 281.8h1v1h-1zM255.4 294.8h1v1h-1zM236.4 290.4h1v1h-1zM243.9 282.8h1v1h-1zM226.4 290.4h1v1h-1zM235.9 299.4h1v1h-1zM237.9 272.8h1v1h-1zM248.9 294.4h1v1h-1zM243.4 279.8h1v1h-1zM259.4 287.4h1v1h-1zM246.9 276.8h1v1h-1zM239.9 307.4h1v1h-1zM239.4 269.8h1v1h-1zM252.4 270.8h1v1h-1zM254.9 281.8h1v1h-1zM227.4 296.4h1v1h-1zM243.9 274.4h1v1h-1zM261.4 273.8h1v1h-1zM242.9 296.8h1v1h-1zM239.4 292.8h1v1h-1zM248.9 268.8h1v1h-1zM264.9 285.4h1v1h-1zM239.4 288.4h1v1h-1zM238.9 300.8h1v1h-1zM246.4 277.8h1v1h-1zM230.9 295.4h1v1h-1zM253.9 270.8h1v1h-1zM238.4 276.4h1v1h-1zM232.4 293.8h1v1h-1zM241.4 296.4h1v1h-1zM252.4 284.8h1v1h-1zM235.9 279.4h1v1h-1zM235.4 268.8h1v1h-1zM247.4 296.4h1v1h-1zM235.9 272.4h1v1h-1zM249.9 298.4h1v1h-1zM241.4 279.4h1v1h-1zM240.9 284.8h1v1h-1z"/>
<path fill="#a09bbe" d="M283.4 262.4h1v1h-1zM293.9 257.4h1v1h-1zM306.9 277.8h1v1h-1zM278.4 267.8h1v1h-1zM296.9 292.4h1v1h-1zM288.9 284.8h1v1h-1zM289.9 291.8h1v1h-1zM310.9 269.4h1v1h-1zM295.9 249.4h1v1h-1zM239.4 279.4h1v1h-1zM255.9 285.8h1v1h-1zM230.4 284.4h1v1h-1zM255.4 269.4h1v1h-1zM231.4 275.4h1v1h-1zM238.4 277.4h1v1h-1zM229.9 273.4h1v1h-1zM228.4 289.8h1v1h-1zM249.9 297.4h1v1h-1zM250.4 298.8h1v1h-1zM248.9 286.4h1v1h-1zM251.4 283.8h1v1h-1zM259.4 271.8h1v1h-1z"/>
<path fill="#a09bb9" d="M283.4 282.4h1v1h-1zM282.4 278.4h1v1h-1zM284.9 285.4h1v1h-1zM295.4 254.8h1v1h-1zM291.4 303.8h1v1h-1zM293.4 289.4h1v1h-1zM300.9 250.8h1v1h-1zM312.9 257.4h1v1h-1zM227.9 301.8h1v1h-1zM246.9 281.4h1v1h-1zM246.4 297.4h1v1h-1zM246.9 284.8h1v1h-1zM223.4 268.4h1v1h-1zM244.9 306.4h1v1h-1zM254.9 290.4h1v1h-1zM251.9 288.4h1v1h-1zM245.4 283.8h1v1h-1zM263.9 282.4h1v1h-1zM235.9 290.8h1v1h-1zM237.9 292.4h1v1h-1zM225.4 265.8h1v1h-1zM232.9 298.4h1v1h-1zM228.9 290.4h1v1h-1zM237.9 272.4h1v1h-1zM224.9 278.8h1v1h-1zM234.4 293.4h1v1h-1zM252.4 276.8h1v1h-1zM227.9 271.8h1v1h-1zM242.4 284.4h1v1h-1zM261.9 277.4h1v1h-1zM250.9 286.4h1v1h-1zM235.4 289.4h1v1h-1zM243.9 285.4h1v1h-1zM226.4 291.8h1v1h-1zM225.4 291.8h1v1h-1zM247.9 272.8h1v1h-1z"/>
<path fill="#a096b9" d="M295.4 256.8h1v1h-1z"/>
<path fill="#9b96b9" d="M284.9 264.8h1v1h-1zM300.9 255.8h1v1h-1zM282.9 269.4h1v1h-1zM304.4 257.4h1v1h-1zM285.9 257.8h1v1h-1zM284.4 277.8h1v1h-1zM293.9 255.4h1v1h-1zM308.9 271.8h1v1h-1zM286.4 259.8h1v1h-1zM295.9 293.4h1v1h-1zM295.9 291.4h1v1h-1zM299.4 292.4h1v1h-1zM304.9 280.8h1v1h-1zM288.4 289.4h1v1h-1zM299.9 292.4h1v1h-1zM291.9 286.4h1v1h-1zM293.4 287.8h1v1h-1zM304.9 289.4h1v1h-1zM296.9 294.8h1v1h-1zM296.4 300.8h1v1h-1zM297.4 294.8h1v1h-1zM303.9 280.4h1v1h-1zM287.9 288.4h1v1h-1zM292.9 295.8h1v1h-1zM298.4 288.8h1v1h-1zM290.4 256.8h1v1h-1zM291.4 250.8h1v1h-1zM297.9 254.8h1v1h-1zM294.4 255.4h1v1h-1zM306.4 258.4h1v1h-1zM238.4 282.4h1v1h-1zM245.9 285.4h1v1h-1zM246.4 287.8h1v1h-1zM255.4 282.8h1v1h-1zM249.9 271.4h1v1h-1zM245.4 265.4h1v1h-1zM254.4 275.4h1v1h-1zM237.9 274.8h1v1h-1zM245.4 284.8h1v1h-1zM249.4 289.8h1v1h-1zM243.4 274.4h1v1h-1zM241.4 292.4h1v1h-1zM239.4 290.8h1v1h-1zM231.9 290.8h1v1h-1zM234.9 270.4h1v1h-1zM239.9 270.8h1v1h-1zM230.4 278.4h1v1h-1zM249.9 286.8h1v1h-1zM228.9 288.4h1v1h-1zM242.9 283.4h1v1h-1zM238.4 279.4h1v1h-1zM247.9 274.8h1v1h-1zM248.9 292.8h1v1h-1zM232.9 291.4h1v1h-1zM236.4 293.8h1v1h-1zM250.9 275.4h1v1h-1zM241.9 291.4h1v1h-1zM237.9 286.8h1v1h-1zM236.4 294.8h1v1h-1zM225.9 295.4h1v1h-1zM228.4 271.8h1v1h-1zM246.4 287.4h1v1h-1zM249.4 300.8h1v1h-1zM232.9 291.4h1v1h-1zM256.4 276.4h1v1h-1zM232.4 293.8h1v1h-1zM235.4 287.4h1v1h-1zM237.4 279.4h1v1h-1zM245.4 285.4h1v1h-1zM229.4 290.8h1v1h-1zM232.9 281.8h1v1h-1zM228.9 282.4h1v1h-1zM245.4 274.4h1v1h-1zM266.4 272.4h1v1h-1zM243.9 294.4h1v1h-1zM237.4 290.4h1v1h-1zM235.9 267.4h1v1h-1zM240.4 272.4h1v1h-1zM237.4 282.4h1v1h-1zM251.9 285.4h1v1h-1zM250.4 287.4h1v1h-1zM240.9 278.4h1v1h-1zM225.9 295.4h1v1h-1zM247.4 293.4h1v1h-1zM249.4 291.8h1v1h-1z"/>
<path fill="#9b91b9" d="M280.9 258.4h1v1h-1zM285.9 282.4h1v1h-1zM279.4 270.4h1v1h-1zM297.4 256.8h1v1h-1zM289.9 285.4h1v1h-1zM244.9 298.4h1v1h-1zM237.4 282.8h1v1h-1zM263.4 296.8h1v1h-1zM239.4 296.8h1v1h-1zM246.4 280.4h1v1h-1zM239.4 288.8h1v1h-1zM242.4 270.8h1v1h-1zM225.9 287.8h1v1h-1zM258.4 281.4h1v1h-1zM248.9 280.8h1v1h-1zM251.4 301.8h1v1h-1zM238.9 303.8h1v1h-1zM233.9 273.8h1v1h-1zM234.4 293.4h1v1h-1z"/>
<path fill="#9691b9" d="M290.4 259.8h1v1h-1zM305.4 258.4h1v1h-1zM304.4 278.4h1v1h-1zM280.9 271.8h1v1h-1zM280.4 284.4h1v1h-1zM285.9 262.4h1v1h-1zM294.4 257.4h1v1h-1zM278.4 275.8h1v1h-1zM287.4 257.8h1v1h-1zM301.4 287.8h1v1h-1zM296.9 292.4h1v1h-1zM298.9 289.8h1v1h-1zM301.9 285.8h1v1h-1zM300.4 286.4h1v1h-1zM305.4 257.8h1v1h-1zM292.9 249.4h1v1h-1zM300.4 255.4h1v1h-1zM311.4 258.8h1v1h-1zM253.9 274.4h1v1h-1zM244.9 278.4h1v1h-1zM259.4 268.4h1v1h-1zM236.4 286.8h1v1h-1zM232.9 294.8h1v1h-1zM231.9 285.8h1v1h-1zM258.4 280.8h1v1h-1zM233.9 278.8h1v1h-1zM224.9 277.8h1v1h-1zM230.4 299.4h1v1h-1zM248.4 286.4h1v1h-1zM248.9 293.4h1v1h-1zM256.9 278.8h1v1h-1zM251.9 278.4h1v1h-1zM245.9 265.8h1v1h-1zM254.4 267.4h1v1h-1zM228.9 300.4h1v1h-1zM247.4 291.4h1v1h-1zM234.9 296.8h1v1h-1zM228.4 277.8h1v1h-1zM253.9 293.4h1v1h-1zM230.9 287.4h1v1h-1zM243.9 281.8h1v1h-1zM242.9 273.8h1v1h-1zM221.9 275.4h1v1h-1zM246.4 300.4h1v1h-1zM234.9 288.4h1v1h-1zM246.9 289.8h1v1h-1zM273.4 272.4h1v1h-1zM248.9 294.8h1v1h-1zM249.9 280.8h1v1h-1zM236.4 287.4h1v1h-1z"/>
<path fill="#968cb9" d="M308.4 272.4h1v1h-1zM281.4 271.8h1v1h-1zM278.9 267.8h1v1h-1zM283.4 261.8h1v1h-1zM282.4 268.8h1v1h-1zM309.9 268.4h1v1h-1zM307.4 268.4h1v1h-1zM297.4 288.4h1v1h-1zM293.4 291.4h1v1h-1zM296.4 291.4h1v1h-1zM304.9 280.8h1v1h-1zM296.4 294.8h1v1h-1zM292.4 285.8h1v1h-1zM291.9 249.8h1v1h-1zM299.4 256.4h1v1h-1zM290.4 255.4h1v1h-1zM232.9 282.8h1v1h-1zM239.4 280.8h1v1h-1zM231.9 287.4h1v1h-1zM231.9 290.8h1v1h-1zM222.4 276.8h1v1h-1zM242.4 291.4h1v1h-1zM240.4 271.8h1v1h-1zM245.9 280.4h1v1h-1zM248.9 279.8h1v1h-1zM232.4 282.8h1v1h-1zM250.9 281.8h1v1h-1zM233.9 303.4h1v1h-1z"/>
<path fill="#918cb9" d="M282.4 272.8h1v1h-1zM283.4 267.8h1v1h-1zM307.9 271.4h1v1h-1zM296.4 254.8h1v1h-1zM306.4 259.8h1v1h-1zM279.4 267.8h1v1h-1zM293.4 257.8h1v1h-1zM281.4 266.4h1v1h-1zM299.9 290.8h1v1h-1zM300.4 297.8h1v1h-1zM292.9 294.4h1v1h-1zM288.4 283.4h1v1h-1zM297.4 290.8h1v1h-1zM294.4 290.4h1v1h-1zM297.9 291.4h1v1h-1zM309.4 259.8h1v1h-1zM303.4 255.4h1v1h-1zM248.9 287.8h1v1h-1zM252.4 285.8h1v1h-1zM248.4 280.4h1v1h-1zM240.4 279.4h1v1h-1zM240.9 273.8h1v1h-1zM247.4 294.8h1v1h-1zM249.4 283.4h1v1h-1zM234.4 282.4h1v1h-1zM233.4 289.4h1v1h-1zM234.9 273.8h1v1h-1zM248.9 290.8h1v1h-1zM231.4 274.8h1v1h-1zM231.4 292.8h1v1h-1zM236.4 287.4h1v1h-1zM231.4 286.8h1v1h-1zM248.9 284.4h1v1h-1zM243.4 289.8h1v1h-1z"/>
<path fill="#9187b9" d="M282.9 271.4h1v1h-1zM287.4 278.8h1v1h-1zM280.9 275.4h1v1h-1zM282.9 279.4h1v1h-1zM291.4 259.4h1v1h-1zM308.9 257.8h1v1h-1zM284.9 260.8h1v1h-1zM288.9 282.4h1v1h-1zM301.9 284.4h1v1h-1zM297.9 258.4h1v1h-1zM305.9 269.4h1v1h-1zM297.9 258.4h1v1h-1zM305.4 277.8h1v1h-1zM292.9 284.4h1v1h-1zM291.4 289.4h1v1h-1zM297.9 289.4h1v1h-1zM300.9 288.8h1v1h-1zM302.4 285.4h1v1h-1zM293.9 286.4h1v1h-1zM302.4 285.8h1v1h-1zM304.4 280.8h1v1h-1zM297.9 289.8h1v1h-1zM308.4 260.4h1v1h-1zM303.9 259.4h1v1h-1zM284.4 263.8h1v1h-1zM306.4 255.4h1v1h-1zM303.4 253.8h1v1h-1zM235.4 290.8h1v1h-1zM239.9 274.8h1v1h-1zM240.4 284.8h1v1h-1zM234.4 277.4h1v1h-1zM255.9 262.4h1v1h-1zM236.9 281.4h1v1h-1zM237.4 281.8h1v1h-1zM250.4 275.8h1v1h-1zM246.4 283.8h1v1h-1zM251.4 291.4h1v1h-1zM242.9 283.8h1v1h-1zM231.4 300.8h1v1h-1zM250.9 285.4h1v1h-1z"/>
<path fill="#8c87b9" d="M282.4 272.4h1v1h-1zM289.4 283.4h1v1h-1zM296.9 291.4h1v1h-1zM308.9 261.8h1v1h-1zM308.4 266.8h1v1h-1zM308.9 255.8h1v1h-1zM294.9 257.8h1v1h-1zM240.4 288.4h1v1h-1zM245.9 287.8h1v1h-1zM233.4 284.4h1v1h-1zM247.4 285.8h1v1h-1zM239.4 287.4h1v1h-1z"/>
<path fill="#8c82b9" d="M287.4 261.8h1v1h-1zM296.4 257.4h1v1h-1zM290.4 259.4h1v1h-1zM282.4 273.8h1v1h-1zM307.4 265.8h1v1h-1zM305.9 271.8h1v1h-1zM289.4 282.4h1v1h-1zM288.9 262.4h1v1h-1zM306.4 260.8h1v1h-1zM306.4 274.4h1v1h-1zM286.4 280.8h1v1h-1zM295.9 293.4h1v1h-1zM291.4 283.4h1v1h-1zM299.4 285.8h1v1h-1zM292.4 284.8h1v1h-1zM295.9 297.4h1v1h-1zM300.9 284.4h1v1h-1zM305.4 276.8h1v1h-1zM305.9 257.4h1v1h-1zM297.4 253.4h1v1h-1zM238.9 279.4h1v1h-1zM238.9 266.8h1v1h-1zM250.4 286.4h1v1h-1zM248.9 294.4h1v1h-1zM234.4 286.8h1v1h-1zM236.9 294.8h1v1h-1zM243.9 292.8h1v1h-1zM238.4 281.4h1v1h-1z"/>
<path fill="#8c82b4" d="M307.9 274.8h1v1h-1zM283.4 275.8h1v1h-1zM306.9 267.8h1v1h-1zM305.4 266.4h1v1h-1zM305.9 264.4h1v1h-1zM284.9 278.4h1v1h-1zM285.9 281.4h1v1h-1z"/>
<path fill="#8782b4" d="M282.9 271.4h1v1h-1zM302.9 282.4h1v1h-1zM241.9 291.4h1v1h-1z"/>
<path fill="#877db4" d="M311.9 269.8h1v1h-1zM285.9 281.8h1v1h-1zM305.9 277.4h1v1h-1zM283.4 271.4h1v1h-1zM292.4 286.4h1v1h-1zM304.4 261.8h1v1h-1zM282.9 272.8h1v1h-1zM281.4 269.8h1v1h-1zM308.9 268.8h1v1h-1zM284.4 268.8h1v1h-1zM292.4 283.4h1v1h-1zM283.4 274.4h1v1h-1zM284.4 269.4h1v1h-1zM288.4 282.8h1v1h-1zM294.4 285.4h1v1h-1zM288.4 261.4h1v1h-1zM302.9 279.8h1v1h-1zM297.9 286.8h1v1h-1zM297.4 285.4h1v1h-1zM296.4 289.4h1v1h-1zM301.4 281.4h1v1h-1zM300.9 284.8h1v1h-1zM296.9 289.4h1v1h-1zM295.9 288.8h1v1h-1zM293.4 289.4h1v1h-1zM299.4 283.8h1v1h-1zM302.9 278.4h1v1h-1zM300.4 282.8h1v1h-1zM299.9 282.4h1v1h-1zM292.4 283.4h1v1h-1zM303.4 283.8h1v1h-1zM295.9 288.4h1v1h-1zM293.9 259.8h1v1h-1zM302.9 259.8h1v1h-1zM288.9 260.8h1v1h-1zM233.4 281.4h1v1h-1zM240.4 285.8h1v1h-1zM246.4 276.4h1v1h-1zM233.9 286.4h1v1h-1zM235.9 270.8h1v1h-1zM247.9 290.8h1v1h-1z"/>
<path fill="#8778b4" d="M286.4 278.8h1v1h-1zM305.9 262.8h1v1h-1zM306.9 270.8h1v1h-1zM295.9 283.8h1v1h-1zM306.9 270.4h1v1h-1zM283.9 271.4h1v1h-1zM284.4 278.4h1v1h-1zM284.4 268.8h1v1h-1zM305.4 268.8h1v1h-1zM305.4 263.4h1v1h-1zM299.4 284.8h1v1h-1zM298.4 283.4h1v1h-1zM292.9 285.4h1v1h-1zM305.9 265.8h1v1h-1zM243.4 275.8h1v1h-1z"/>
<path fill="#8278b4" d="M303.4 263.4h1v1h-1zM294.9 259.4h1v1h-1zM297.9 258.8h1v1h-1zM283.4 277.4h1v1h-1zM287.9 280.8h1v1h-1zM306.4 265.8h1v1h-1zM306.4 269.8h1v1h-1zM286.4 279.4h1v1h-1zM287.9 280.8h1v1h-1zM306.9 270.8h1v1h-1zM295.4 282.8h1v1h-1zM303.9 262.8h1v1h-1zM299.4 282.8h1v1h-1zM300.9 283.4h1v1h-1zM299.9 282.4h1v1h-1zM299.9 282.8h1v1h-1zM299.4 286.8h1v1h-1zM298.4 288.8h1v1h-1zM285.9 278.8h1v1h-1zM303.9 274.4h1v1h-1zM299.4 287.8h1v1h-1zM301.9 280.8h1v1h-1zM295.9 256.4h1v1h-1zM302.4 260.8h1v1h-1zM304.9 272.4h1v1h-1zM243.9 289.8h1v1h-1z"/>
<path fill="#8273b4" d="M299.4 259.4h1v1h-1zM306.4 270.4h1v1h-1zM288.4 263.8h1v1h-1zM293.4 260.8h1v1h-1zM289.4 261.8h1v1h-1zM284.4 274.4h1v1h-1zM290.4 261.8h1v1h-1zM285.4 273.8h1v1h-1zM285.4 266.8h1v1h-1zM301.9 262.4h1v1h-1zM300.4 257.8h1v1h-1zM297.9 259.8h1v1h-1zM293.9 281.4h1v1h-1zM306.9 269.8h1v1h-1zM285.9 278.4h1v1h-1zM294.9 284.8h1v1h-1zM297.9 284.8h1v1h-1zM293.9 283.4h1v1h-1zM296.9 285.4h1v1h-1zM298.4 283.4h1v1h-1zM292.9 283.4h1v1h-1zM297.9 287.4h1v1h-1zM295.9 287.4h1v1h-1zM297.4 285.8h1v1h-1zM299.4 283.4h1v1h-1zM295.4 287.8h1v1h-1zM299.4 260.4h1v1h-1z"/>
<path fill="#7d73b4" d="M289.9 280.8h1v1h-1z"/>
<path fill="#7d73af" d="M286.9 265.8h1v1h-1zM285.9 267.8h1v1h-1zM293.9 279.8h1v1h-1zM305.9 271.8h1v1h-1zM285.4 264.4h1v1h-1z"/>
<path fill="#7d6eaf" d="M303.9 275.4h1v1h-1zM288.4 280.8h1v1h-1zM294.9 260.4h1v1h-1zM301.9 280.4h1v1h-1zM286.9 278.4h1v1h-1zM288.9 280.4h1v1h-1zM302.9 263.8h1v1h-1zM293.4 261.4h1v1h-1zM285.9 265.4h1v1h-1zM288.4 278.8h1v1h-1zM291.4 279.8h1v1h-1zM286.9 281.4h1v1h-1zM304.9 272.4h1v1h-1zM287.9 278.8h1v1h-1zM301.9 262.4h1v1h-1zM283.4 271.8h1v1h-1zM305.4 269.4h1v1h-1zM301.4 279.4h1v1h-1zM284.4 271.8h1v1h-1zM294.4 260.4h1v1h-1zM299.9 282.4h1v1h-1zM285.9 267.8h1v1h-1zM286.9 265.8h1v1h-1zM287.4 278.4h1v1h-1zM303.4 276.4h1v1h-1zM285.4 277.4h1v1h-1zM296.4 282.4h1v1h-1zM302.9 278.4h1v1h-1zM300.4 279.8h1v1h-1zM296.4 284.4h1v1h-1zM292.9 281.4h1v1h-1zM299.9 282.8h1v1h-1zM297.4 281.4h1v1h-1zM295.4 283.4h1v1h-1zM297.9 280.8h1v1h-1zM289.9 262.4h1v1h-1zM303.9 263.8h1v1h-1z"/>
<path fill="#7d69af" d="M300.4 261.8h1v1h-1zM284.9 272.8h1v1h-1zM284.4 272.4h1v1h-1zM292.9 282.4h1v1h-1zM305.4 267.8h1v1h-1zM298.4 283.8h1v1h-1zM295.4 282.8h1v1h-1zM304.9 270.8h1v1h-1z"/>
<path fill="#7869af" d="M301.4 261.4h1v1h-1zM293.9 283.8h1v1h-1zM285.4 268.8h1v1h-1zM288.9 263.4h1v1h-1zM292.9 261.8h1v1h-1zM299.4 279.4h1v1h-1zM301.9 260.8h1v1h-1zM304.4 271.8h1v1h-1zM290.4 261.4h1v1h-1zM298.9 260.8h1v1h-1zM301.9 276.4h1v1h-1zM285.4 268.4h1v1h-1zM299.4 279.8h1v1h-1zM285.9 271.4h1v1h-1zM301.4 261.4h1v1h-1zM304.4 271.4h1v1h-1zM286.4 268.4h1v1h-1zM285.4 272.4h1v1h-1zM285.4 277.4h1v1h-1zM288.4 264.4h1v1h-1zM291.9 261.4h1v1h-1zM290.9 280.8h1v1h-1zM303.4 275.4h1v1h-1zM298.4 280.4h1v1h-1zM303.9 274.8h1v1h-1zM292.4 282.8h1v1h-1zM303.4 275.4h1v1h-1zM296.4 284.4h1v1h-1zM304.4 269.8h1v1h-1z"/>
<path fill="#7864af" d="M286.4 268.8h1v1h-1zM301.9 275.8h1v1h-1zM303.4 263.8h1v1h-1zM290.4 263.4h1v1h-1zM294.4 280.8h1v1h-1zM285.4 266.4h1v1h-1zM288.4 279.4h1v1h-1zM286.9 276.8h1v1h-1zM296.9 261.4h1v1h-1zM287.9 265.8h1v1h-1zM284.4 274.4h1v1h-1zM285.4 268.8h1v1h-1zM290.9 279.8h1v1h-1zM291.4 280.4h1v1h-1zM301.9 279.8h1v1h-1zM296.9 282.4h1v1h-1zM294.9 282.8h1v1h-1zM295.9 281.4h1v1h-1zM299.9 280.4h1v1h-1zM298.4 280.8h1v1h-1z"/>
<path fill="#7864aa" d="M284.9 275.8h1v1h-1z"/>
<path fill="#7364aa" d="M290.4 278.8h1v1h-1zM293.9 281.4h1v1h-1zM284.4 271.8h1v1h-1zM302.4 273.8h1v1h-1zM304.9 266.8h1v1h-1zM299.9 278.4h1v1h-1z"/>
<path fill="#735faa" d="M300.9 264.4h1v1h-1zM286.4 277.8h1v1h-1zM293.4 261.8h1v1h-1zM297.9 279.8h1v1h-1zM302.4 274.4h1v1h-1zM301.9 262.8h1v1h-1zM304.4 266.8h1v1h-1zM299.9 279.4h1v1h-1zM300.4 261.4h1v1h-1zM304.4 267.8h1v1h-1zM300.9 262.4h1v1h-1zM295.9 261.8h1v1h-1zM293.4 280.4h1v1h-1zM304.4 267.4h1v1h-1zM286.9 267.4h1v1h-1zM287.9 275.8h1v1h-1zM303.4 263.8h1v1h-1zM287.9 278.8h1v1h-1zM293.4 280.8h1v1h-1zM299.9 277.8h1v1h-1zM301.9 274.4h1v1h-1zM301.4 278.8h1v1h-1zM294.9 280.4h1v1h-1zM297.9 283.8h1v1h-1zM290.4 263.4h1v1h-1zM299.9 263.4h1v1h-1zM293.9 260.8h1v1h-1zM304.4 269.4h1v1h-1z"/>
<path fill="#735aaa" d="M290.4 263.8h1v1h-1zM301.9 263.8h1v1h-1zM286.4 274.8h1v1h-1zM304.4 267.4h1v1h-1zM304.4 268.8h1v1h-1zM303.9 268.4h1v1h-1zM297.9 260.8h1v1h-1zM294.9 280.8h1v1h-1zM291.4 279.4h1v1h-1z"/>
<path fill="#6e5aaa" d="M303.4 270.8h1v1h-1zM285.9 272.8h1v1h-1zM303.4 269.4h1v1h-1zM299.9 262.8h1v1h-1zM285.9 271.4h1v1h-1zM295.4 279.8h1v1h-1zM296.9 262.4h1v1h-1zM286.4 272.4h1v1h-1zM298.9 277.8h1v1h-1zM295.4 279.8h1v1h-1zM288.4 266.4h1v1h-1zM285.9 270.4h1v1h-1zM295.4 261.4h1v1h-1zM286.4 268.8h1v1h-1zM289.9 265.4h1v1h-1zM300.9 275.4h1v1h-1zM290.9 264.4h1v1h-1zM292.4 262.4h1v1h-1zM293.4 262.4h1v1h-1zM298.4 278.8h1v1h-1zM285.9 268.8h1v1h-1zM300.9 262.8h1v1h-1zM303.4 270.8h1v1h-1zM302.4 263.8h1v1h-1zM287.9 265.8h1v1h-1zM290.9 279.8h1v1h-1zM297.9 279.8h1v1h-1zM301.9 276.4h1v1h-1zM295.9 279.4h1v1h-1zM296.4 281.4h1v1h-1zM298.4 280.4h1v1h-1zM302.4 263.8h1v1h-1zM300.4 261.8h1v1h-1zM303.4 265.8h1v1h-1z"/>
<path fill="#6e5aa5" d="M303.4 267.8h1v1h-1zM286.4 274.8h1v1h-1zM285.9 271.8h1v1h-1zM292.9 262.4h1v1h-1zM289.4 265.4h1v1h-1zM299.4 278.4h1v1h-1zM286.4 272.8h1v1h-1zM288.4 276.8h1v1h-1zM296.9 280.4h1v1h-1zM297.9 279.8h1v1h-1zM292.9 279.4h1v1h-1zM300.9 275.8h1v1h-1zM295.4 261.8h1v1h-1zM296.4 261.4h1v1h-1z"/>
<path fill="#6e55a5" d="M303.9 271.4h1v1h-1zM285.4 273.4h1v1h-1zM293.4 262.8h1v1h-1zM300.9 275.8h1v1h-1zM300.9 275.4h1v1h-1zM301.4 264.8h1v1h-1z"/>
<path fill="#6955a5" d="M292.4 263.8h1v1h-1zM300.9 274.8h1v1h-1zM291.4 263.8h1v1h-1zM303.9 270.8h1v1h-1zM293.4 262.8h1v1h-1zM287.4 274.4h1v1h-1zM288.4 276.4h1v1h-1zM302.4 266.8h1v1h-1zM301.9 264.8h1v1h-1zM298.9 263.8h1v1h-1zM300.4 262.8h1v1h-1zM286.9 268.4h1v1h-1zM302.4 264.8h1v1h-1zM302.4 268.4h1v1h-1zM287.4 275.4h1v1h-1zM298.9 262.8h1v1h-1zM286.9 268.8h1v1h-1zM292.4 264.4h1v1h-1zM290.4 277.8h1v1h-1zM294.9 262.8h1v1h-1zM302.9 270.8h1v1h-1zM288.9 277.4h1v1h-1zM294.4 279.4h1v1h-1zM302.9 272.4h1v1h-1zM288.4 276.4h1v1h-1zM289.4 277.4h1v1h-1zM286.9 274.8h1v1h-1zM286.9 269.8h1v1h-1zM285.9 271.4h1v1h-1zM298.9 277.8h1v1h-1zM299.4 278.8h1v1h-1zM299.9 276.4h1v1h-1zM300.4 277.4h1v1h-1zM298.9 277.4h1v1h-1z"/>
<path fill="#6955a0" d="M291.4 278.4h1v1h-1zM302.9 268.4h1v1h-1zM291.4 264.4h1v1h-1z"/>
<path fill="#6450a0" d="M295.9 262.8h1v1h-1zM296.4 262.8h1v1h-1zM299.9 277.4h1v1h-1zM291.4 277.4h1v1h-1zM289.4 276.4h1v1h-1zM296.4 278.4h1v1h-1zM288.4 270.8h1v1h-1zM298.4 277.4h1v1h-1zM293.4 263.4h1v1h-1zM291.4 277.8h1v1h-1zM299.9 276.4h1v1h-1zM302.4 268.4h1v1h-1zM300.9 265.4h1v1h-1zM298.9 277.8h1v1h-1zM302.9 269.4h1v1h-1zM287.9 270.4h1v1h-1zM302.4 270.4h1v1h-1zM294.4 279.4h1v1h-1zM286.4 272.8h1v1h-1zM286.9 274.4h1v1h-1zM291.9 278.8h1v1h-1zM287.4 273.8h1v1h-1zM287.9 269.8h1v1h-1zM287.9 272.8h1v1h-1zM291.9 278.8h1v1h-1zM291.4 278.8h1v1h-1zM299.9 276.4h1v1h-1zM295.4 279.4h1v1h-1zM296.4 262.8h1v1h-1zM294.9 263.8h1v1h-1zM293.4 263.4h1v1h-1z"/>
<path fill="#5f50a0" d="M291.9 278.4h1v1h-1zM294.4 278.4h1v1h-1zM291.4 265.4h1v1h-1zM301.9 271.4h1v1h-1zM299.4 276.4h1v1h-1zM302.9 272.4h1v1h-1z"/>
<path fill="#5f4ba0" d="M289.9 277.4h1v1h-1zM291.9 278.4h1v1h-1zM295.4 278.4h1v1h-1zM289.9 277.4h1v1h-1z"/>
<path fill="#5f4b9b" d="M296.4 263.4h1v1h-1zM301.4 271.4h1v1h-1zM289.4 267.4h1v1h-1zM287.9 267.8h1v1h-1zM301.9 271.8h1v1h-1zM292.4 263.8h1v1h-1zM299.9 264.4h1v1h-1zM288.9 268.4h1v1h-1zM300.9 264.8h1v1h-1zM290.9 277.4h1v1h-1zM291.9 277.4h1v1h-1zM288.4 274.8h1v1h-1zM293.9 278.4h1v1h-1zM296.4 263.4h1v1h-1zM290.4 276.4h1v1h-1zM287.4 271.4h1v1h-1zM288.9 268.4h1v1h-1zM288.9 268.4h1v1h-1zM290.4 266.8h1v1h-1zM289.9 266.8h1v1h-1zM295.4 263.4h1v1h-1zM287.4 270.8h1v1h-1zM288.9 268.4h1v1h-1zM300.4 263.8h1v1h-1zM295.9 278.4h1v1h-1zM298.9 276.4h1v1h-1zM298.4 277.4h1v1h-1zM292.4 264.4h1v1h-1zM302.4 265.8h1v1h-1z"/>
<path fill="#5a4b9b" d="M288.4 274.8h1v1h-1zM287.9 270.4h1v1h-1zM289.4 276.8h1v1h-1zM290.9 265.8h1v1h-1zM296.9 277.4h1v1h-1zM287.9 269.8h1v1h-1zM297.9 276.8h1v1h-1zM297.4 277.8h1v1h-1zM297.9 277.4h1v1h-1z"/>
<path fill="#5a469b" d="M297.4 263.8h1v1h-1zM299.9 264.8h1v1h-1zM290.4 266.8h1v1h-1zM301.4 271.4h1v1h-1zM290.9 265.4h1v1h-1zM301.9 267.4h1v1h-1zM301.4 266.8h1v1h-1zM288.4 272.8h1v1h-1zM301.9 269.8h1v1h-1z"/>
<path fill="#5a4696" d="M297.4 275.8h1v1h-1zM296.9 263.8h1v1h-1zM295.9 277.4h1v1h-1zM295.4 277.4h1v1h-1zM287.9 269.8h1v1h-1zM292.4 277.4h1v1h-1zM301.4 266.8h1v1h-1zM301.9 268.8h1v1h-1zM297.4 277.4h1v1h-1zM301.9 268.4h1v1h-1zM299.9 265.4h1v1h-1z"/>
<path fill="#554696" d="M301.4 268.8h1v1h-1zM293.4 277.4h1v1h-1zM294.9 264.4h1v1h-1zM291.4 265.4h1v1h-1zM301.4 271.4h1v1h-1zM290.9 277.4h1v1h-1zM288.4 273.4h1v1h-1zM300.4 273.8h1v1h-1zM289.9 275.4h1v1h-1zM288.9 273.8h1v1h-1zM299.4 264.8h1v1h-1zM289.4 267.4h1v1h-1zM301.4 270.8h1v1h-1zM290.4 266.8h1v1h-1zM301.4 269.8h1v1h-1zM294.4 264.4h1v1h-1zM288.4 269.4h1v1h-1zM288.4 271.8h1v1h-1zM300.4 274.4h1v1h-1zM300.9 267.8h1v1h-1zM301.4 270.8h1v1h-1zM293.4 277.4h1v1h-1zM294.4 264.4h1v1h-1zM294.4 277.8h1v1h-1zM301.9 268.4h1v1h-1zM290.4 276.4h1v1h-1zM292.9 264.8h1v1h-1zM292.4 277.8h1v1h-1zM294.9 277.4h1v1h-1z"/>
<path fill="#554196" d="M288.9 273.8h1v1h-1zM293.4 276.8h1v1h-1zM291.9 277.4h1v1h-1zM292.9 264.8h1v1h-1zM301.4 272.4h1v1h-1zM294.4 277.4h1v1h-1zM300.9 266.8h1v1h-1zM288.4 269.8h1v1h-1z"/>
<path fill="#554191" d="M292.9 276.8h1v1h-1zM290.9 276.4h1v1h-1zM297.4 264.4h1v1h-1zM291.4 276.4h1v1h-1zM288.9 274.4h1v1h-1zM291.4 266.4h1v1h-1zM300.9 270.8h1v1h-1zM289.4 273.8h1v1h-1zM297.4 276.4h1v1h-1zM296.4 263.8h1v1h-1zM298.4 275.8h1v1h-1z"/>
<path fill="#504191" d="M296.9 276.4h1v1h-1zM298.4 275.4h1v1h-1zM300.4 273.8h1v1h-1zM289.9 274.4h1v1h-1zM298.9 275.4h1v1h-1zM289.4 269.8h1v1h-1zM291.9 266.8h1v1h-1zM290.4 275.4h1v1h-1zM290.9 266.4h1v1h-1zM290.4 267.8h1v1h-1zM288.9 271.4h1v1h-1zM292.9 276.4h1v1h-1zM296.9 276.8h1v1h-1zM291.9 265.8h1v1h-1zM293.4 276.4h1v1h-1zM288.9 271.4h1v1h-1zM289.4 270.8h1v1h-1zM301.4 270.8h1v1h-1zM289.4 273.8h1v1h-1zM288.9 270.4h1v1h-1zM300.4 271.8h1v1h-1zM300.4 272.4h1v1h-1zM293.9 276.4h1v1h-1zM290.9 266.8h1v1h-1zM292.4 265.8h1v1h-1zM299.9 265.4h1v1h-1zM288.9 273.4h1v1h-1zM294.9 276.8h1v1h-1zM291.9 276.4h1v1h-1zM295.9 277.4h1v1h-1zM295.4 276.8h1v1h-1zM289.4 271.4h1v1h-1zM296.4 275.8h1v1h-1zM291.4 275.8h1v1h-1zM300.4 270.8h1v1h-1zM298.9 274.8h1v1h-1zM297.9 264.4h1v1h-1z"/>
<path fill="#50418c" d="M293.9 276.4h1v1h-1zM290.9 267.8h1v1h-1zM298.4 264.8h1v1h-1zM292.4 265.8h1v1h-1zM297.4 264.8h1v1h-1zM291.9 266.4h1v1h-1zM291.9 266.8h1v1h-1zM290.4 269.4h1v1h-1zM291.4 266.8h1v1h-1zM292.4 265.8h1v1h-1zM290.4 268.4h1v1h-1zM300.9 270.8h1v1h-1zM291.9 266.8h1v1h-1zM289.4 270.8h1v1h-1zM289.4 272.4h1v1h-1zM289.9 274.4h1v1h-1zM296.4 264.4h1v1h-1zM294.4 264.8h1v1h-1zM294.9 276.4h1v1h-1zM298.4 274.4h1v1h-1zM294.4 276.8h1v1h-1zM297.4 276.4h1v1h-1z"/>
<path fill="#4b418c" d="M300.4 270.4h1v1h-1zM300.9 270.4h1v1h-1zM297.4 275.4h1v1h-1zM292.9 265.8h1v1h-1zM289.9 272.4h1v1h-1zM292.4 276.4h1v1h-1zM299.4 273.8h1v1h-1zM298.9 273.8h1v1h-1zM300.9 271.4h1v1h-1zM299.4 273.4h1v1h-1zM300.9 269.8h1v1h-1zM298.4 274.8h1v1h-1zM295.4 275.8h1v1h-1zM300.9 271.4h1v1h-1zM297.4 264.8h1v1h-1zM292.4 276.4h1v1h-1zM300.4 270.8h1v1h-1zM300.4 270.4h1v1h-1zM294.9 276.4h1v1h-1zM292.9 266.4h1v1h-1zM298.9 265.8h1v1h-1zM299.9 273.4h1v1h-1zM299.4 274.4h1v1h-1zM291.9 266.8h1v1h-1zM290.9 273.8h1v1h-1zM296.4 277.4h1v1h-1zM294.9 276.8h1v1h-1zM298.4 275.4h1v1h-1zM295.4 276.8h1v1h-1zM295.9 276.8h1v1h-1z"/>
<path fill="#4b4187" d="M296.9 275.8h1v1h-1zM292.4 266.8h1v1h-1zM298.9 266.4h1v1h-1zM299.4 273.8h1v1h-1zM293.4 265.4h1v1h-1zM292.9 265.8h1v1h-1zM300.9 269.4h1v1h-1zM293.4 265.8h1v1h-1zM300.4 270.8h1v1h-1zM300.4 271.4h1v1h-1zM291.9 275.4h1v1h-1zM289.9 270.4h1v1h-1zM297.9 264.8h1v1h-1zM289.9 272.8h1v1h-1zM290.4 268.8h1v1h-1zM290.4 270.4h1v1h-1zM295.4 276.4h1v1h-1zM299.4 266.8h1v1h-1zM290.9 274.4h1v1h-1zM294.9 276.4h1v1h-1zM296.4 275.8h1v1h-1zM294.9 264.8h1v1h-1zM290.4 268.4h1v1h-1zM295.4 275.8h1v1h-1zM289.4 273.8h1v1h-1zM297.4 275.8h1v1h-1zM294.4 265.4h1v1h-1zM296.9 276.8h1v1h-1zM289.9 272.8h1v1h-1zM300.4 268.4h1v1h-1z"/>
<path fill="#464187" d="M297.4 265.4h1v1h-1zM297.4 274.8h1v1h-1zM289.4 272.8h1v1h-1zM296.4 275.8h1v1h-1zM290.4 272.4h1v1h-1zM297.4 264.8h1v1h-1zM290.4 269.8h1v1h-1zM289.9 271.8h1v1h-1z"/>
<path fill="#464182" d="M300.4 268.8h1v1h-1zM297.9 274.4h1v1h-1z"/>
<path fill="#463c82" d="M299.9 268.4h1v1h-1zM299.4 273.4h1v1h-1zM297.4 265.4h1v1h-1zM293.9 265.8h1v1h-1zM293.4 266.4h1v1h-1zM294.4 275.4h1v1h-1zM295.9 264.8h1v1h-1zM298.9 273.4h1v1h-1zM297.9 265.8h1v1h-1zM300.4 267.8h1v1h-1zM299.4 271.4h1v1h-1zM294.4 275.8h1v1h-1zM290.9 273.4h1v1h-1zM291.9 267.8h1v1h-1zM299.9 267.8h1v1h-1zM290.4 270.8h1v1h-1zM294.9 265.4h1v1h-1zM294.4 276.4h1v1h-1zM299.9 270.4h1v1h-1zM295.4 265.4h1v1h-1zM296.9 275.8h1v1h-1zM292.4 266.8h1v1h-1zM291.4 274.4h1v1h-1zM299.9 267.4h1v1h-1zM290.9 269.8h1v1h-1zM297.9 265.8h1v1h-1zM293.4 275.4h1v1h-1zM300.4 268.4h1v1h-1zM293.9 275.8h1v1h-1zM300.4 270.8h1v1h-1zM294.4 265.4h1v1h-1zM291.9 267.8h1v1h-1zM293.4 275.8h1v1h-1z"/>
<path fill="#413c82" d="M291.9 273.8h1v1h-1zM298.4 265.8h1v1h-1zM290.9 273.8h1v1h-1zM290.9 269.4h1v1h-1zM293.9 275.4h1v1h-1z"/>
<path fill="#413c7d" d="M297.9 266.4h1v1h-1zM297.9 274.4h1v1h-1zM292.4 267.8h1v1h-1zM292.9 274.4h1v1h-1zM293.9 266.4h1v1h-1zM299.9 269.4h1v1h-1zM290.9 271.8h1v1h-1zM293.9 265.8h1v1h-1zM291.4 273.4h1v1h-1zM292.4 267.4h1v1h-1zM290.4 271.4h1v1h-1zM294.9 275.4h1v1h-1zM297.9 274.4h1v1h-1zM290.9 273.4h1v1h-1zM293.4 266.4h1v1h-1zM294.4 275.4h1v1h-1zM294.4 266.4h1v1h-1zM296.9 274.8h1v1h-1zM291.4 269.4h1v1h-1zM291.9 266.8h1v1h-1zM290.9 270.4h1v1h-1zM291.4 269.4h1v1h-1zM298.9 273.4h1v1h-1zM291.9 267.8h1v1h-1zM291.4 273.4h1v1h-1zM293.4 275.4h1v1h-1zM291.9 267.4h1v1h-1zM293.4 266.4h1v1h-1zM299.9 270.4h1v1h-1zM299.9 269.4h1v1h-1zM291.9 274.8h1v1h-1zM299.9 268.4h1v1h-1zM297.4 265.8h1v1h-1zM295.4 275.4h1v1h-1zM299.4 268.4h1v1h-1zM290.9 268.4h1v1h-1zM292.4 267.4h1v1h-1zM298.9 267.4h1v1h-1zM293.9 266.4h1v1h-1zM292.9 274.8h1v1h-1zM294.9 275.8h1v1h-1zM295.4 274.8h1v1h-1zM298.4 266.4h1v1h-1zM299.4 267.8h1v1h-1zM291.9 274.4h1v1h-1z"/>
<path fill="#41417d" d="M291.4 268.4h1v1h-1zM299.9 269.4h1v1h-1zM298.9 272.8h1v1h-1zM299.9 268.8h1v1h-1zM293.9 265.8h1v1h-1zM299.4 267.8h1v1h-1zM291.4 268.4h1v1h-1zM297.4 274.8h1v1h-1zM291.4 272.4h1v1h-1z"/>
<path fill="#46417d" d="M299.4 268.4h1v1h-1zM293.4 275.4h1v1h-1zM296.9 265.8h1v1h-1zM294.4 266.4h1v1h-1zM291.4 271.4h1v1h-1zM291.4 272.4h1v1h-1zM293.4 274.4h1v1h-1zM298.4 273.8h1v1h-1zM291.4 272.4h1v1h-1zM296.9 274.8h1v1h-1zM298.9 267.8h1v1h-1zM295.9 265.8h1v1h-1zM291.9 267.8h1v1h-1z"/>
<path fill="#46467d" d="M292.4 273.8h1v1h-1zM297.4 274.4h1v1h-1zM297.9 273.4h1v1h-1zM298.9 267.4h1v1h-1zM291.4 273.8h1v1h-1zM298.4 267.4h1v1h-1zM293.4 266.8h1v1h-1zM295.4 274.4h1v1h-1zM291.4 270.4h1v1h-1zM298.4 273.4h1v1h-1zM292.4 268.4h1v1h-1zM290.9 271.8h1v1h-1zM291.4 272.8h1v1h-1zM298.4 272.8h1v1h-1zM299.9 269.4h1v1h-1zM299.4 268.8h1v1h-1z"/>
<path fill="#4b467d" d="M298.9 267.8h1v1h-1zM292.9 267.4h1v1h-1zM296.9 265.8h1v1h-1zM292.4 274.4h1v1h-1zM299.4 268.4h1v1h-1zM292.4 273.4h1v1h-1z"/>
<path fill="#4b4b7d" d="M293.9 266.8h1v1h-1zM293.9 273.8h1v1h-1zM296.4 265.8h1v1h-1zM293.4 266.8h1v1h-1zM295.4 266.4h1v1h-1zM296.9 266.4h1v1h-1z"/>
<path fill="#4b4b82" d="M291.9 269.4h1v1h-1zM299.4 268.8h1v1h-1zM291.4 269.8h1v1h-1z"/>
<path fill="#504b82" d="M291.9 273.4h1v1h-1z"/>
<path fill="#505082" d="M294.4 274.4h1v1h-1zM292.9 267.8h1v1h-1zM292.9 274.4h1v1h-1zM292.4 273.4h1v1h-1zM298.9 271.8h1v1h-1zM299.4 269.8h1v1h-1zM293.4 273.8h1v1h-1zM293.9 266.8h1v1h-1z"/>
<path fill="#505582" d="M298.4 272.8h1v1h-1zM292.4 267.8h1v1h-1z"/>
<path fill="#555582" d="M297.4 273.8h1v1h-1zM291.9 270.8h1v1h-1zM291.9 272.8h1v1h-1zM293.9 266.8h1v1h-1zM293.9 274.8h1v1h-1zM293.4 273.8h1v1h-1zM296.4 266.4h1v1h-1zM298.4 267.8h1v1h-1zM292.9 273.8h1v1h-1zM293.4 274.4h1v1h-1zM295.9 274.4h1v1h-1zM298.9 269.8h1v1h-1zM291.4 270.8h1v1h-1zM292.4 273.8h1v1h-1zM292.4 271.4h1v1h-1z"/>
<path fill="#555a82" d="M299.4 269.4h1v1h-1zM297.9 272.8h1v1h-1zM296.9 273.8h1v1h-1z"/>
<path fill="#5a5a82" d="M295.9 266.4h1v1h-1zM298.4 272.8h1v1h-1zM291.9 271.4h1v1h-1zM298.9 268.4h1v1h-1zM299.4 268.8h1v1h-1zM298.4 272.4h1v1h-1zM293.4 268.4h1v1h-1z"/>
<path fill="#5a5f82" d="M299.4 269.4h1v1h-1zM295.9 274.4h1v1h-1zM293.9 267.4h1v1h-1zM292.4 271.8h1v1h-1zM297.9 272.8h1v1h-1zM291.9 271.4h1v1h-1zM298.9 268.4h1v1h-1zM291.9 270.8h1v1h-1z"/>
<path fill="#5f5f82" d="M292.4 271.8h1v1h-1zM296.9 273.8h1v1h-1z"/>
<path fill="#5f5f87" d="M298.9 268.8h1v1h-1zM293.9 267.4h1v1h-1zM293.4 267.4h1v1h-1zM292.4 268.4h1v1h-1zM293.9 267.4h1v1h-1z"/>
<path fill="#5f6487" d="M296.9 274.4h1v1h-1zM293.9 266.8h1v1h-1zM291.9 271.8h1v1h-1zM297.4 266.8h1v1h-1zM293.4 272.8h1v1h-1zM297.4 266.8h1v1h-1zM294.9 267.4h1v1h-1zM292.4 272.4h1v1h-1zM297.4 273.4h1v1h-1zM296.4 266.4h1v1h-1z"/>
<path fill="#646487" d="M292.9 272.8h1v1h-1zM292.4 269.4h1v1h-1zM296.9 273.4h1v1h-1z"/>
<path fill="#646987" d="M297.9 267.8h1v1h-1zM293.9 273.4h1v1h-1zM292.9 268.8h1v1h-1zM293.9 266.8h1v1h-1zM294.4 266.8h1v1h-1z"/>
<path fill="#696e82" d="M292.9 272.8h1v1h-1zM292.9 271.8h1v1h-1zM298.9 269.4h1v1h-1zM292.9 272.4h1v1h-1zM292.4 272.4h1v1h-1zM297.9 272.4h1v1h-1zM294.4 266.8h1v1h-1zM297.4 273.4h1v1h-1z"/>
<path fill="#6e7382" d="M298.4 268.4h1v1h-1zM296.9 266.8h1v1h-1zM293.9 268.4h1v1h-1zM292.4 270.8h1v1h-1zM298.4 270.4h1v1h-1zM296.4 273.4h1v1h-1z"/>
<path fill="#6e7882" d="M293.9 273.8h1v1h-1z"/>
<path fill="#737882" d="M294.4 266.8h1v1h-1zM296.4 267.4h1v1h-1zM297.4 273.4h1v1h-1zM295.9 266.8h1v1h-1zM292.9 268.8h1v1h-1zM294.9 273.8h1v1h-1z"/>
<path fill="#73787d" d="M293.9 267.4h1v1h-1z"/>
<path fill="#787d7d" d="M292.9 271.4h1v1h-1zM294.9 273.8h1v1h-1zM298.9 269.8h1v1h-1z"/>
<path fill="#78827d" d="M296.4 267.4h1v1h-1zM293.4 271.8h1v1h-1zM297.9 267.8h1v1h-1z"/>
<path fill="#7d827d" d="M293.9 273.4h1v1h-1zM297.9 267.8h1v1h-1zM295.4 267.4h1v1h-1zM292.4 271.4h1v1h-1zM293.4 271.4h1v1h-1zM293.4 268.4h1v1h-1zM292.9 269.4h1v1h-1zM292.4 270.8h1v1h-1zM292.9 272.8h1v1h-1z"/>
<path fill="#7d877d" d="M295.4 273.8h1v1h-1zM293.9 268.4h1v1h-1z"/>
<path fill="#82877d" d="M298.4 270.4h1v1h-1zM293.9 269.4h1v1h-1zM294.4 267.4h1v1h-1z"/>
<path fill="#828778" d="M298.4 270.8h1v1h-1zM293.4 268.4h1v1h-1z"/>
<path fill="#828c78" d="M293.4 268.4h1v1h-1zM292.9 269.8h1v1h-1zM292.9 270.4h1v1h-1z"/>
<path fill="#878c78" d="M294.9 267.8h1v1h-1zM293.9 272.4h1v1h-1zM295.4 273.4h1v1h-1zM295.4 267.4h1v1h-1zM294.9 267.8h1v1h-1zM294.4 267.8h1v1h-1zM295.4 273.4h1v1h-1z"/>
<path fill="#879178" d="M296.4 267.4h1v1h-1zM295.4 273.4h1v1h-1zM293.4 267.8h1v1h-1zM294.9 267.4h1v1h-1zM295.9 267.4h1v1h-1zM293.9 267.8h1v1h-1z"/>
<path fill="#8c9178" d="M296.4 266.8h1v1h-1zM298.4 269.4h1v1h-1zM298.4 270.4h1v1h-1zM295.4 273.4h1v1h-1zM292.9 270.4h1v1h-1zM292.9 269.8h1v1h-1zM293.4 271.8h1v1h-1zM294.9 267.4h1v1h-1zM292.9 272.4h1v1h-1z"/>
<path fill="#8c9678" d="M293.9 267.8h1v1h-1zM297.9 267.8h1v1h-1zM294.4 268.4h1v1h-1zM293.9 272.4h1v1h-1zM295.4 267.4h1v1h-1z"/>
<path fill="#919673" d="M295.9 267.4h1v1h-1zM295.9 267.8h1v1h-1zM295.4 273.4h1v1h-1z"/>
<path fill="#969b73" d="M295.9 267.4h1v1h-1zM297.9 268.4h1v1h-1zM295.4 267.4h1v1h-1zM296.4 273.4h1v1h-1z"/>
<path fill="#9b9b73" d="M297.4 271.4h1v1h-1z"/>
<path fill="#9ba073" d="M298.4 270.8h1v1h-1z"/>
<path fill="#9ba06e" d="M297.9 271.8h1v1h-1zM296.4 267.4h1v1h-1zM296.9 267.8h1v1h-1zM294.4 272.4h1v1h-1z"/>
<path fill="#a0a06e" d="M293.4 270.4h1v1h-1zM293.9 269.4h1v1h-1z"/>
<path fill="#a0a56e" d="M297.9 269.8h1v1h-1zM295.9 272.4h1v1h-1z"/>
<path fill="#a5a56e" d="M293.9 270.8h1v1h-1zM297.4 271.8h1v1h-1zM297.4 271.8h1v1h-1zM293.9 268.4h1v1h-1z"/>
<path fill="#a5aa6e" d="M297.9 270.8h1v1h-1zM298.4 270.4h1v1h-1z"/>
<path fill="#aaaa6e" d="M295.4 267.8h1v1h-1zM293.9 271.8h1v1h-1z"/>
<path fill="#aaaa69" d="M293.9 271.8h1v1h-1zM293.9 270.8h1v1h-1zM297.4 269.4h1v1h-1z"/>
<path fill="#afaa69" d="M294.4 273.4h1v1h-1z"/>
<path fill="#afaf69" d="M295.9 267.8h1v1h-1zM297.4 271.8h1v1h-1zM297.9 270.4h1v1h-1zM293.4 270.4h1v1h-1zM296.4 273.4h1v1h-1zM293.9 271.8h1v1h-1zM295.4 268.4h1v1h-1zM297.9 268.4h1v1h-1zM296.9 267.8h1v1h-1z"/>
<path fill="#b4af69" d="M295.4 268.4h1v1h-1z"/>
<path fill="#b4b464" d="M295.9 272.4h1v1h-1zM294.9 272.4h1v1h-1zM296.9 268.4h1v1h-1z"/>
<path fill="#b4af64" d="M297.9 270.4h1v1h-1zM297.9 269.8h1v1h-1zM294.9 269.4h1v1h-1z"/>
<path fill="#b9af64" d="M294.4 271.4h1v1h-1zM295.4 267.8h1v1h-1zM298.4 269.4h1v1h-1zM294.4 271.4h1v1h-1zM294.4 271.8h1v1h-1zM294.9 272.4h1v1h-1zM294.4 271.4h1v1h-1z"/>
<path fill="#b9af5f" d="M293.9 269.4h1v1h-1z"/>
<path fill="#beaf5f" d="M294.9 271.8h1v1h-1zM296.9 268.4h1v1h-1z"/>
<path fill="#beaf5a" d="M296.4 271.8h1v1h-1zM294.4 268.8h1v1h-1zM297.9 269.8h1v1h-1zM296.9 271.8h1v1h-1zM293.9 271.8h1v1h-1zM293.4 271.8h1v1h-1zM293.9 271.4h1v1h-1zM297.9 269.8h1v1h-1z"/>
<path fill="#c3af5a" d="M295.4 268.4h1v1h-1zM295.9 271.8h1v1h-1zM296.9 271.4h1v1h-1z"/>
<path fill="#c3af55" d="M296.9 268.4h1v1h-1z"/>
<path fill="#c3aa55" d="M297.4 271.4h1v1h-1zM297.4 268.8h1v1h-1zM297.4 269.4h1v1h-1zM297.4 269.8h1v1h-1zM294.9 268.4h1v1h-1z"/>
<path fill="#c8aa50" d="M295.4 268.4h1v1h-1zM294.4 270.8h1v1h-1zM295.9 268.4h1v1h-1zM295.4 271.8h1v1h-1zM296.4 271.8h1v1h-1zM294.9 268.4h1v1h-1zM295.9 272.4h1v1h-1zM296.4 272.4h1v1h-1z"/>
<path fill="#cdaa4b" d="M296.4 270.4h1v1h-1zM294.4 270.8h1v1h-1zM295.4 268.4h1v1h-1zM296.4 268.8h1v1h-1zM296.4 271.8h1v1h-1zM297.4 270.4h1v1h-1zM296.9 271.8h1v1h-1z"/>
<path fill="#d2a546" d="M297.4 270.4h1v1h-1zM295.4 269.8h1v1h-1zM296.9 270.8h1v1h-1zM295.4 272.4h1v1h-1zM295.9 268.4h1v1h-1zM296.4 271.4h1v1h-1zM296.9 269.8h1v1h-1zM297.4 269.8h1v1h-1zM295.9 271.8h1v1h-1zM294.4 269.4h1v1h-1z"/>
<path fill="#d2a541" d="M296.9 269.8h1v1h-1zM296.4 268.4h1v1h-1zM296.4 271.8h1v1h-1z"/>
<path fill="#cda041" d="M295.9 267.8h1v1h-1zM296.4 271.4h1v1h-1zM294.4 270.8h1v1h-1zM294.4 269.4h1v1h-1zM295.9 268.4h1v1h-1z"/>
<path fill="#cd9b41" d="M294.4 270.8h1v1h-1zM295.4 268.4h1v1h-1z"/>
<path fill="#cd9b3c" d="M294.4 269.4h1v1h-1zM295.4 268.4h1v1h-1zM296.9 271.8h1v1h-1zM296.4 271.4h1v1h-1z"/>
<path fill="#c8963c" d="M294.4 270.4h1v1h-1zM296.4 268.4h1v1h-1zM296.9 269.8h1v1h-1zM294.9 269.8h1v1h-1zM295.9 270.8h1v1h-1zM296.4 270.4h1v1h-1zM295.9 270.8h1v1h-1z"/>
<path fill="#c89637" d="M295.9 271.8h1v1h-1z"/>
<path fill="#c89137" d="M295.4 269.8h1v1h-1zM295.9 268.8h1v1h-1zM296.9 269.8h1v1h-1z"/>
<path fill="#c39137" d="M296.4 268.8h1v1h-1z"/>
<path fill="#c38c37" d="M296.9 269.4h1v1h-1zM296.9 269.8h1v1h-1zM296.4 269.8h1v1h-1zM294.9 270.4h1v1h-1zM296.9 269.4h1v1h-1z"/>
<path fill="#c38c32" d="M294.4 270.8h1v1h-1z"/>
<path fill="#c38732" d="M295.9 269.4h1v1h-1z"/>
<path fill="#be8732" d="M296.9 270.8h1v1h-1z"/>
<path fill="#be8232" d="M296.4 269.4h1v1h-1zM296.9 270.8h1v1h-1z"/>
<path fill="#be7d2d" d="M295.4 269.8h1v1h-1zM294.9 270.8h1v1h-1z"/>
<path fill="#b97d2d" d="M295.9 269.8h1v1h-1zM295.4 271.4h1v1h-1zM295.9 269.8h1v1h-1zM295.4 270.4h1v1h-1zM296.4 270.8h1v1h-1zM295.4 269.8h1v1h-1zM295.4 270.4h1v1h-1zM295.4 269.4h1v1h-1zM296.4 270.4h1v1h-1zM295.4 270.4h1v1h-1zM296.9 270.8h1v1h-1zM295.4 269.4h1v1h-1z"/>
</g>
<path d="M273.60 189.85V311.85M221.40 275.20H346.20" stroke="#a46c7e" stroke-width="0.9" fill="none"/>
<rect x="221.40" y="189.85" width="124.80" height="122.00" fill="none" stroke="#111" stroke-width="1.4"/>
<path d="M221.40 311.85v3M221.40 311.85h-3M230.79 311.85v1.7M221.40 302.67h-1.7M236.29 311.85v1.7M221.40 297.30h-1.7M240.18 311.85v1.7M221.40 293.49h-1.7M243.21 311.85v2.4M221.40 290.53h-2.4M245.68 311.85v1.7M221.40 288.12h-1.7M247.77 311.85v1.7M221.40 286.07h-1.7M249.58 311.85v1.7M221.40 284.31h-1.7M251.17 311.85v1.7M221.40 282.75h-1.7M252.60 311.85v3M221.40 281.35h-3M261.99 311.85v1.7M221.40 272.17h-1.7M267.49 311.85v1.7M221.40 266.80h-1.7M271.38 311.85v1.7M221.40 262.99h-1.7M274.41 311.85v2.4M221.40 260.03h-2.4M276.88 311.85v1.7M221.40 257.62h-1.7M278.97 311.85v1.7M221.40 255.57h-1.7M280.78 311.85v1.7M221.40 253.81h-1.7M282.37 311.85v1.7M221.40 252.25h-1.7M283.80 311.85v3M221.40 250.85h-3M293.19 311.85v1.7M221.40 241.67h-1.7M298.69 311.85v1.7M221.40 236.30h-1.7M302.58 311.85v1.7M221.40 232.49h-1.7M305.61 311.85v2.4M221.40 229.53h-2.4M308.08 311.85v1.7M221.40 227.12h-1.7M310.17 311.85v1.7M221.40 225.07h-1.7M311.98 311.85v1.7M221.40 223.31h-1.7M313.57 311.85v1.7M221.40 221.75h-1.7M315.00 311.85v3M221.40 220.35h-3M324.39 311.85v1.7M221.40 211.17h-1.7M329.89 311.85v1.7M221.40 205.80h-1.7M333.78 311.85v1.7M221.40 201.99h-1.7M336.81 311.85v2.4M221.40 199.03h-2.4M339.28 311.85v1.7M221.40 196.62h-1.7M341.37 311.85v1.7M221.40 194.57h-1.7M343.18 311.85v1.7M221.40 192.81h-1.7M344.77 311.85v1.7M221.40 191.25h-1.7M346.20 311.85v3M221.40 189.85h-3" stroke="#111" stroke-width="0.9" fill="none"/>
<text class="k" x="220.65" y="326.95" text-anchor="middle">10<tspan class="s" dy="-3.3">0</tspan></text>
<text class="k" x="216.80" y="315.95" text-anchor="end">10<tspan class="s" dy="-3.3">0</tspan></text>
<text class="k" x="251.65" y="326.95" text-anchor="middle">10<tspan class="s" dy="-3.3">1</tspan></text>
<text class="k" x="216.80" y="285.45" text-anchor="end">10<tspan class="s" dy="-3.3">1</tspan></text>
<text class="k" x="281.55" y="326.95" text-anchor="middle">10<tspan class="s" dy="-3.3">2</tspan></text>
<text class="k" x="216.80" y="254.95" text-anchor="end">10<tspan class="s" dy="-3.3">2</tspan></text>
<text class="k" x="314.45" y="326.95" text-anchor="middle">10<tspan class="s" dy="-3.3">3</tspan></text>
<text class="k" x="216.80" y="224.45" text-anchor="end">10<tspan class="s" dy="-3.3">3</tspan></text>
<text class="k" x="343.35" y="326.95" text-anchor="middle">10<tspan class="s" dy="-3.3">4</tspan></text>
<text class="k" x="216.80" y="193.95" text-anchor="end">10<tspan class="s" dy="-3.3">4</tspan></text>
<text class="t" x="281.65" y="182.65" text-anchor="middle">28 days</text>
<text class="q" x="224.80" y="199.65">0.37</text>
<text class="q" x="342.60" y="199.65" text-anchor="end">77.9</text>
<text class="q" x="224.80" y="308.15">4.41</text>
<text class="q" x="342.60" y="308.15" text-anchor="end">17.3</text>
<text class="b" x="310.30" y="229.25" text-anchor="middle">15.4%</text>
<text class="i" x="310.30" y="242.05" text-anchor="middle">Inhibition</text>
<g filter="url(#bl)">
<path fill="#a0a0be" d="M470.5 277.8h1v1h-1zM473.5 264.8h1v1h-1zM461 287.4h1v1h-1zM474 266.8h1v1h-1zM459.5 281.4h1v1h-1zM464 280.4h1v1h-1zM468.5 284.8h1v1h-1zM470.5 274.4h1v1h-1zM472 269.4h1v1h-1zM461 243.8h1v1h-1zM448 256.8h1v1h-1zM455 247.4h1v1h-1zM467.5 240.8h1v1h-1zM470.5 271.4h1v1h-1zM465.5 244.4h1v1h-1zM481.5 243.8h1v1h-1zM461 248.8h1v1h-1zM453.5 242.4h1v1h-1zM389.5 284.8h1v1h-1zM418 280.8h1v1h-1zM412 286.4h1v1h-1zM409.5 294.8h1v1h-1zM404 300.8h1v1h-1zM397 288.8h1v1h-1zM393.5 282.4h1v1h-1zM416.5 275.4h1v1h-1zM416 282.8h1v1h-1zM399.5 294.8h1v1h-1zM417 286.8h1v1h-1zM396.5 294.4h1v1h-1zM395.5 279.4h1v1h-1zM418 278.4h1v1h-1zM406 279.4h1v1h-1zM404 283.8h1v1h-1zM407 291.8h1v1h-1zM401.5 285.8h1v1h-1zM417 278.8h1v1h-1zM404 271.8h1v1h-1zM420 283.4h1v1h-1zM405 278.8h1v1h-1zM406 300.8h1v1h-1zM397.5 277.8h1v1h-1zM421.5 259.8h1v1h-1zM392 302.8h1v1h-1zM407 295.4h1v1h-1zM421.5 273.8h1v1h-1zM406 291.8h1v1h-1zM399.5 298.4h1v1h-1zM410.5 268.4h1v1h-1zM410 303.8h1v1h-1zM391 291.4h1v1h-1zM399.5 304.8h1v1h-1zM400 296.8h1v1h-1zM402 292.4h1v1h-1zM421.5 281.4h1v1h-1zM414 285.8h1v1h-1zM402.5 278.8h1v1h-1zM418.5 258.8h1v1h-1zM392.5 292.4h1v1h-1zM396.5 299.8h1v1h-1zM409.5 294.8h1v1h-1zM417 284.4h1v1h-1zM407.5 275.4h1v1h-1zM410.5 296.4h1v1h-1zM397 306.4h1v1h-1zM411 273.4h1v1h-1zM402.5 299.8h1v1h-1zM416.5 292.8h1v1h-1zM420.5 278.4h1v1h-1zM396 286.4h1v1h-1zM403.5 278.4h1v1h-1zM412 265.4h1v1h-1zM411.5 295.8h1v1h-1zM398.5 301.8h1v1h-1zM408.5 272.8h1v1h-1zM403.5 297.4h1v1h-1zM426 259.8h1v1h-1zM424 276.4h1v1h-1zM396 292.4h1v1h-1zM414.5 283.4h1v1h-1zM402.5 304.4h1v1h-1zM407.5 278.4h1v1h-1zM413 265.4h1v1h-1zM420.5 268.8h1v1h-1zM399 283.4h1v1h-1zM395.5 269.4h1v1h-1zM417.5 268.8h1v1h-1zM415 286.8h1v1h-1zM411 285.4h1v1h-1zM402 301.8h1v1h-1zM416.5 274.4h1v1h-1zM395.5 297.4h1v1h-1z"/>
<path fill="#a09bbe" d="M449 278.4h1v1h-1zM452 277.8h1v1h-1zM451.5 281.8h1v1h-1zM463.5 282.8h1v1h-1zM452 251.8h1v1h-1zM470.5 246.8h1v1h-1zM411.5 290.4h1v1h-1zM404 294.4h1v1h-1zM402 288.4h1v1h-1zM399 288.8h1v1h-1zM417 268.8h1v1h-1zM424 282.4h1v1h-1zM398 298.4h1v1h-1zM414.5 282.4h1v1h-1zM389 288.4h1v1h-1zM400 284.8h1v1h-1zM407 276.8h1v1h-1zM406 262.8h1v1h-1zM417 278.4h1v1h-1z"/>
<path fill="#a09bb9" d="M447.5 269.8h1v1h-1zM457.5 281.8h1v1h-1zM454.5 280.4h1v1h-1zM455 249.8h1v1h-1zM471 249.4h1v1h-1zM405 300.4h1v1h-1zM398 296.8h1v1h-1zM408.5 279.8h1v1h-1zM402 283.4h1v1h-1zM419.5 277.8h1v1h-1zM413 273.8h1v1h-1zM391 286.8h1v1h-1zM414 272.8h1v1h-1zM416 283.8h1v1h-1zM419 290.4h1v1h-1zM405.5 279.8h1v1h-1zM406.5 291.8h1v1h-1zM414 277.8h1v1h-1zM411.5 276.4h1v1h-1zM420 274.4h1v1h-1zM398 283.8h1v1h-1zM413 290.4h1v1h-1z"/>
<path fill="#9b96b9" d="M442.5 264.4h1v1h-1zM442.5 271.4h1v1h-1zM457.5 248.4h1v1h-1zM445 258.8h1v1h-1zM445 259.4h1v1h-1zM445 259.8h1v1h-1zM444 268.4h1v1h-1zM467.5 255.4h1v1h-1zM447 258.8h1v1h-1zM460.5 245.4h1v1h-1zM448.5 254.8h1v1h-1zM462.5 248.4h1v1h-1zM465 253.4h1v1h-1zM453 250.4h1v1h-1zM474.5 260.4h1v1h-1zM399 288.4h1v1h-1zM393 281.4h1v1h-1zM399.5 287.8h1v1h-1zM400.5 285.8h1v1h-1zM411.5 294.8h1v1h-1zM405.5 292.8h1v1h-1zM393.5 281.4h1v1h-1zM409.5 296.8h1v1h-1zM396 299.8h1v1h-1zM406 292.8h1v1h-1zM397.5 285.4h1v1h-1zM397.5 284.4h1v1h-1zM411 297.4h1v1h-1zM401.5 288.4h1v1h-1zM398 294.8h1v1h-1zM399.5 285.4h1v1h-1zM407.5 308.4h1v1h-1zM400.5 282.8h1v1h-1zM424 281.8h1v1h-1zM412 275.4h1v1h-1zM393 300.4h1v1h-1zM410.5 301.4h1v1h-1zM416 287.4h1v1h-1zM406 286.8h1v1h-1zM414 289.8h1v1h-1zM402 288.8h1v1h-1zM404.5 284.8h1v1h-1zM410 286.8h1v1h-1zM396 283.4h1v1h-1zM424 253.4h1v1h-1zM414 291.4h1v1h-1zM403.5 286.8h1v1h-1zM403 296.8h1v1h-1zM423 269.4h1v1h-1zM409.5 288.4h1v1h-1zM421 286.8h1v1h-1zM422 274.4h1v1h-1zM401.5 287.8h1v1h-1zM410 294.4h1v1h-1zM407 287.4h1v1h-1zM412 284.4h1v1h-1zM410.5 286.8h1v1h-1zM422 268.4h1v1h-1zM400.5 286.4h1v1h-1zM412.5 283.4h1v1h-1zM412 302.8h1v1h-1zM405.5 278.8h1v1h-1zM415.5 280.8h1v1h-1z"/>
<path fill="#9b91b9" d="M463.5 280.8h1v1h-1zM468.5 257.4h1v1h-1zM477 267.4h1v1h-1zM413 290.8h1v1h-1zM396 285.8h1v1h-1zM409 299.4h1v1h-1zM402.5 286.4h1v1h-1zM420 278.4h1v1h-1z"/>
<path fill="#9691b9" d="M446 270.4h1v1h-1zM463.5 252.8h1v1h-1zM447 260.8h1v1h-1zM445.5 263.4h1v1h-1zM466 276.4h1v1h-1zM461.5 278.8h1v1h-1zM463 253.8h1v1h-1zM472.5 262.4h1v1h-1zM451.5 246.4h1v1h-1zM461 248.8h1v1h-1zM458.5 249.8h1v1h-1zM456.5 250.4h1v1h-1zM474 268.4h1v1h-1zM470 257.8h1v1h-1zM394.5 304.4h1v1h-1zM409.5 284.8h1v1h-1zM410 295.8h1v1h-1zM410 270.8h1v1h-1zM405 288.8h1v1h-1zM425 273.8h1v1h-1zM406 294.8h1v1h-1zM393.5 304.8h1v1h-1zM420.5 274.8h1v1h-1zM417.5 289.4h1v1h-1zM402 277.8h1v1h-1zM408 287.4h1v1h-1zM405 293.4h1v1h-1zM414.5 278.8h1v1h-1zM413.5 278.4h1v1h-1zM401 293.8h1v1h-1zM401 289.4h1v1h-1zM409 293.8h1v1h-1zM416 275.4h1v1h-1zM410.5 287.4h1v1h-1zM410.5 284.4h1v1h-1zM410 288.4h1v1h-1zM397.5 290.4h1v1h-1zM417 282.8h1v1h-1zM399 301.4h1v1h-1zM388.5 307.4h1v1h-1z"/>
<path fill="#968cb9" d="M471.5 275.4h1v1h-1zM467 257.4h1v1h-1zM448.5 269.8h1v1h-1zM462 281.4h1v1h-1zM462 252.8h1v1h-1zM447 257.4h1v1h-1zM404 285.4h1v1h-1zM420.5 305.4h1v1h-1zM400 287.4h1v1h-1zM434.5 262.8h1v1h-1zM400.5 271.4h1v1h-1zM422.5 279.8h1v1h-1zM425 268.4h1v1h-1zM413 283.4h1v1h-1zM417 284.4h1v1h-1z"/>
<path fill="#918cb9" d="M459 279.8h1v1h-1zM456 281.4h1v1h-1zM463 254.8h1v1h-1zM448 272.8h1v1h-1zM470.5 272.8h1v1h-1zM452 254.8h1v1h-1zM410 275.4h1v1h-1zM408.5 299.4h1v1h-1zM405.5 277.8h1v1h-1zM408.5 283.4h1v1h-1zM415.5 287.4h1v1h-1zM405 294.8h1v1h-1zM402 279.8h1v1h-1zM397.5 292.8h1v1h-1zM392.5 277.8h1v1h-1zM409 289.8h1v1h-1zM413 278.8h1v1h-1zM416 252.4h1v1h-1zM409 285.4h1v1h-1zM403.5 285.8h1v1h-1zM404 286.8h1v1h-1zM402 290.8h1v1h-1zM401.5 289.4h1v1h-1z"/>
<path fill="#9187b9" d="M451 258.4h1v1h-1zM468 261.8h1v1h-1zM450.5 275.8h1v1h-1zM446.5 264.4h1v1h-1zM469 271.4h1v1h-1zM457 250.8h1v1h-1zM446.5 271.8h1v1h-1zM473.5 254.8h1v1h-1zM467.5 275.8h1v1h-1zM458.5 242.8h1v1h-1zM403 291.8h1v1h-1zM410.5 282.4h1v1h-1zM425 275.4h1v1h-1zM411.5 295.4h1v1h-1zM392.5 282.8h1v1h-1zM406.5 288.8h1v1h-1zM404 296.4h1v1h-1zM419 285.4h1v1h-1zM411 269.4h1v1h-1zM419.5 268.8h1v1h-1zM403.5 291.8h1v1h-1zM424.5 288.4h1v1h-1zM413.5 260.8h1v1h-1z"/>
<path fill="#8c87b9" d="M460 251.4h1v1h-1zM402.5 288.8h1v1h-1zM417 283.8h1v1h-1zM403 286.4h1v1h-1zM421 262.8h1v1h-1zM406 283.4h1v1h-1zM405 301.4h1v1h-1z"/>
<path fill="#8c82b9" d="M454 253.4h1v1h-1zM456 276.8h1v1h-1zM455.5 277.8h1v1h-1zM465 273.8h1v1h-1zM448.5 265.4h1v1h-1zM468 264.4h1v1h-1zM452 276.4h1v1h-1zM467 255.8h1v1h-1zM464 253.4h1v1h-1zM465 255.4h1v1h-1zM406 280.4h1v1h-1zM408.5 288.4h1v1h-1zM398 309.4h1v1h-1zM414 293.8h1v1h-1zM406.5 289.8h1v1h-1zM406.5 297.4h1v1h-1zM414.5 281.4h1v1h-1zM409 287.8h1v1h-1zM414.5 273.8h1v1h-1zM418 274.4h1v1h-1z"/>
<path fill="#8c82b4" d="M416 284.8h1v1h-1z"/>
<path fill="#8782b4" d="M450.5 256.4h1v1h-1zM452 254.4h1v1h-1z"/>
<path fill="#877db4" d="M454 254.8h1v1h-1zM448.5 269.4h1v1h-1zM465.5 274.8h1v1h-1zM455.5 254.4h1v1h-1zM457.5 277.4h1v1h-1zM447 264.8h1v1h-1zM460.5 277.8h1v1h-1zM461.5 277.8h1v1h-1zM454.5 254.4h1v1h-1zM446.5 266.8h1v1h-1zM466 273.4h1v1h-1zM449 264.4h1v1h-1zM450.5 257.8h1v1h-1zM457 276.8h1v1h-1zM459 276.8h1v1h-1zM463.5 254.8h1v1h-1zM468.5 266.8h1v1h-1zM454.5 254.8h1v1h-1zM466 257.4h1v1h-1zM461 250.4h1v1h-1zM464 252.4h1v1h-1zM464 256.8h1v1h-1zM469 264.8h1v1h-1zM410.5 287.8h1v1h-1zM408.5 272.8h1v1h-1zM405 277.4h1v1h-1zM404 288.8h1v1h-1zM410.5 284.8h1v1h-1z"/>
<path fill="#8778b4" d="M452 273.8h1v1h-1zM468.5 269.4h1v1h-1zM470 267.8h1v1h-1zM463.5 253.4h1v1h-1zM462.5 255.4h1v1h-1z"/>
<path fill="#8278b4" d="M464.5 274.8h1v1h-1zM449 263.4h1v1h-1zM457 254.4h1v1h-1zM464.5 274.8h1v1h-1zM466 259.8h1v1h-1zM454.5 255.4h1v1h-1zM447 265.8h1v1h-1zM461.5 254.8h1v1h-1zM456 277.8h1v1h-1zM467 259.4h1v1h-1zM451.5 256.8h1v1h-1zM452.5 255.8h1v1h-1zM453.5 253.4h1v1h-1zM466.5 261.4h1v1h-1zM410.5 284.8h1v1h-1z"/>
<path fill="#8273b4" d="M449 268.4h1v1h-1zM449.5 270.8h1v1h-1zM458 255.4h1v1h-1zM449 259.4h1v1h-1zM459.5 276.8h1v1h-1zM451.5 272.8h1v1h-1zM453 275.8h1v1h-1zM450.5 260.4h1v1h-1zM448 263.4h1v1h-1zM461.5 256.4h1v1h-1zM467 259.4h1v1h-1zM451.5 258.4h1v1h-1z"/>
<path fill="#7d73af" d="M450.5 258.4h1v1h-1zM467 269.4h1v1h-1zM450.5 272.8h1v1h-1zM463 277.4h1v1h-1z"/>
<path fill="#7d6eaf" d="M451.5 259.8h1v1h-1zM467.5 267.4h1v1h-1zM459.5 255.4h1v1h-1zM460.5 256.4h1v1h-1zM458.5 277.4h1v1h-1zM452 258.4h1v1h-1zM467.5 261.4h1v1h-1zM453.5 274.4h1v1h-1zM468 265.4h1v1h-1zM452 271.8h1v1h-1zM450 270.4h1v1h-1zM448.5 267.8h1v1h-1zM464 258.8h1v1h-1zM466 261.8h1v1h-1zM467.5 265.4h1v1h-1zM450.5 265.8h1v1h-1zM449 263.4h1v1h-1zM467 270.8h1v1h-1zM451 260.4h1v1h-1zM466.5 268.8h1v1h-1zM467.5 262.4h1v1h-1zM452 257.8h1v1h-1zM462.5 256.8h1v1h-1z"/>
<path fill="#7d69af" d="M460.5 257.4h1v1h-1zM463 274.4h1v1h-1zM462 275.8h1v1h-1zM452.5 257.8h1v1h-1zM448.5 267.4h1v1h-1zM454.5 275.8h1v1h-1zM466 266.8h1v1h-1zM466.5 266.4h1v1h-1z"/>
<path fill="#7869af" d="M459.5 255.8h1v1h-1zM466.5 267.8h1v1h-1zM467 268.4h1v1h-1zM455 274.4h1v1h-1zM460.5 256.4h1v1h-1zM467.5 264.8h1v1h-1zM461 256.8h1v1h-1zM448 268.4h1v1h-1zM467 263.8h1v1h-1zM465.5 262.4h1v1h-1zM451.5 273.4h1v1h-1zM451 271.8h1v1h-1zM450 269.8h1v1h-1zM450 261.4h1v1h-1zM465 272.4h1v1h-1zM450 267.8h1v1h-1zM449.5 267.8h1v1h-1zM464.5 273.8h1v1h-1zM451 272.8h1v1h-1zM461 278.4h1v1h-1z"/>
<path fill="#7864af" d="M460.5 256.4h1v1h-1zM456 256.4h1v1h-1zM461 275.4h1v1h-1zM463.5 258.4h1v1h-1zM467 267.8h1v1h-1zM450 262.8h1v1h-1zM454.5 256.8h1v1h-1zM458 274.8h1v1h-1zM465 259.8h1v1h-1zM466.5 270.8h1v1h-1zM454 274.4h1v1h-1zM460 276.4h1v1h-1zM450.5 267.8h1v1h-1zM449.5 264.8h1v1h-1zM450.5 262.4h1v1h-1zM465.5 258.8h1v1h-1zM462.5 257.4h1v1h-1z"/>
<path fill="#7864aa" d="M460.5 256.8h1v1h-1zM466.5 265.8h1v1h-1zM452 260.4h1v1h-1zM461.5 274.8h1v1h-1zM460 275.8h1v1h-1zM466.5 261.8h1v1h-1z"/>
<path fill="#7364aa" d="M451.5 270.8h1v1h-1zM465 260.4h1v1h-1zM457 255.8h1v1h-1zM466 269.8h1v1h-1z"/>
<path fill="#735faa" d="M456.5 256.8h1v1h-1zM466.5 265.4h1v1h-1zM466 265.8h1v1h-1zM455.5 257.4h1v1h-1zM450 264.8h1v1h-1zM456.5 275.4h1v1h-1zM457 277.4h1v1h-1zM453 272.4h1v1h-1zM466 262.4h1v1h-1zM452 270.8h1v1h-1zM466.5 265.4h1v1h-1zM450.5 268.4h1v1h-1zM461.5 276.8h1v1h-1zM450.5 262.8h1v1h-1zM454.5 274.4h1v1h-1zM450 265.4h1v1h-1zM462.5 257.4h1v1h-1zM466.5 263.8h1v1h-1zM467 268.4h1v1h-1z"/>
<path fill="#735aaa" d="M464 259.4h1v1h-1zM465.5 263.8h1v1h-1zM459.5 275.4h1v1h-1zM465.5 262.4h1v1h-1zM459.5 276.4h1v1h-1zM451.5 263.4h1v1h-1zM466 269.4h1v1h-1zM458.5 255.4h1v1h-1z"/>
<path fill="#6e5aaa" d="M457.5 275.4h1v1h-1zM455.5 273.8h1v1h-1zM464.5 270.8h1v1h-1zM455.5 273.8h1v1h-1zM452.5 271.8h1v1h-1zM460 275.4h1v1h-1zM464.5 260.4h1v1h-1zM454 258.4h1v1h-1zM459.5 256.4h1v1h-1zM451.5 260.8h1v1h-1zM461.5 273.8h1v1h-1zM462.5 259.4h1v1h-1zM465 271.4h1v1h-1zM450.5 263.8h1v1h-1zM465.5 263.8h1v1h-1zM451 261.8h1v1h-1zM459 275.4h1v1h-1zM452 269.8h1v1h-1z"/>
<path fill="#6e5aa5" d="M463.5 260.4h1v1h-1zM452.5 259.8h1v1h-1zM460 257.4h1v1h-1zM465.5 265.8h1v1h-1zM457.5 257.8h1v1h-1zM453.5 271.8h1v1h-1zM465 262.8h1v1h-1zM466 266.4h1v1h-1zM465.5 269.4h1v1h-1zM466 263.8h1v1h-1zM465.5 261.8h1v1h-1zM464 271.8h1v1h-1zM466 267.4h1v1h-1zM453 271.8h1v1h-1zM458 274.8h1v1h-1zM458.5 274.4h1v1h-1zM455 273.8h1v1h-1zM451 266.8h1v1h-1zM460.5 257.8h1v1h-1zM461 256.8h1v1h-1z"/>
<path fill="#6e55a5" d="M463 260.4h1v1h-1zM461 274.8h1v1h-1zM460 257.4h1v1h-1zM453 259.8h1v1h-1z"/>
<path fill="#6955a5" d="M456.5 258.4h1v1h-1zM458.5 257.4h1v1h-1zM458 257.4h1v1h-1zM463.5 260.4h1v1h-1zM465.5 266.8h1v1h-1zM464 260.4h1v1h-1zM451.5 266.4h1v1h-1zM459.5 257.4h1v1h-1zM451.5 268.4h1v1h-1zM463 273.4h1v1h-1zM465 263.8h1v1h-1zM450.5 265.8h1v1h-1zM451 263.8h1v1h-1zM456 273.8h1v1h-1zM464.5 262.4h1v1h-1zM462.5 258.8h1v1h-1zM452 261.4h1v1h-1zM456.5 274.4h1v1h-1zM453 259.8h1v1h-1zM458 274.4h1v1h-1zM457 256.8h1v1h-1zM465.5 266.8h1v1h-1zM451.5 268.4h1v1h-1zM463 273.4h1v1h-1zM450.5 261.4h1v1h-1zM452 269.8h1v1h-1zM463 271.8h1v1h-1zM460 274.8h1v1h-1zM457 274.4h1v1h-1zM455.5 273.4h1v1h-1zM461.5 258.4h1v1h-1zM453 258.8h1v1h-1zM465 264.4h1v1h-1zM456 273.8h1v1h-1zM451.5 268.4h1v1h-1z"/>
<path fill="#6955a0" d="M456 273.4h1v1h-1zM459 257.4h1v1h-1zM465.5 267.4h1v1h-1zM461 257.4h1v1h-1z"/>
<path fill="#6455a0" d="M459 258.4h1v1h-1zM460.5 257.4h1v1h-1z"/>
<path fill="#6450a0" d="M456.5 258.4h1v1h-1zM464.5 266.8h1v1h-1zM456 273.4h1v1h-1zM455.5 257.8h1v1h-1zM464.5 262.8h1v1h-1zM462.5 259.8h1v1h-1zM455.5 273.4h1v1h-1zM463.5 260.8h1v1h-1zM465 264.4h1v1h-1zM456.5 273.8h1v1h-1zM466 268.8h1v1h-1zM463.5 269.8h1v1h-1zM463.5 261.4h1v1h-1zM452 265.4h1v1h-1zM452.5 269.8h1v1h-1zM463 273.4h1v1h-1zM451.5 263.8h1v1h-1zM460.5 273.4h1v1h-1zM464 262.8h1v1h-1zM453 269.4h1v1h-1zM453 270.8h1v1h-1zM463.5 272.4h1v1h-1zM463 271.8h1v1h-1zM454.5 271.8h1v1h-1zM458.5 257.4h1v1h-1zM457 273.8h1v1h-1zM451.5 264.4h1v1h-1zM452 263.4h1v1h-1zM464 261.4h1v1h-1zM462.5 259.4h1v1h-1z"/>
<path fill="#5f50a0" d="M452.5 261.4h1v1h-1zM456 272.4h1v1h-1zM455.5 272.4h1v1h-1zM453 260.4h1v1h-1zM453 260.4h1v1h-1zM457 257.8h1v1h-1zM453 260.4h1v1h-1z"/>
<path fill="#5f4b9b" d="M452.5 267.8h1v1h-1zM463.5 270.8h1v1h-1zM461 272.8h1v1h-1zM452.5 268.8h1v1h-1zM457.5 273.4h1v1h-1zM459.5 258.4h1v1h-1zM464.5 266.8h1v1h-1zM463 270.4h1v1h-1zM464.5 267.8h1v1h-1zM452.5 266.8h1v1h-1zM452.5 266.8h1v1h-1zM464.5 265.4h1v1h-1zM453.5 261.4h1v1h-1zM454.5 260.4h1v1h-1zM462.5 271.8h1v1h-1zM462 272.4h1v1h-1zM455.5 272.4h1v1h-1zM463.5 262.4h1v1h-1zM452 267.8h1v1h-1zM464.5 268.4h1v1h-1zM460 274.4h1v1h-1zM452 264.4h1v1h-1zM457.5 257.8h1v1h-1zM461.5 259.4h1v1h-1z"/>
<path fill="#5a4b9b" d="M452.5 263.8h1v1h-1zM463.5 268.4h1v1h-1zM452.5 262.8h1v1h-1zM464 268.4h1v1h-1zM463.5 268.8h1v1h-1zM453 260.8h1v1h-1zM463.5 262.4h1v1h-1zM464 265.8h1v1h-1zM463 261.8h1v1h-1zM453 268.8h1v1h-1zM452 264.8h1v1h-1z"/>
<path fill="#5a469b" d="M463.5 269.8h1v1h-1zM453 268.4h1v1h-1zM453 267.4h1v1h-1zM453 268.4h1v1h-1zM454.5 270.8h1v1h-1zM459.5 258.4h1v1h-1zM463 261.8h1v1h-1z"/>
<path fill="#5a4696" d="M456.5 258.8h1v1h-1zM453 266.8h1v1h-1zM455.5 258.8h1v1h-1zM458.5 272.8h1v1h-1zM456.5 272.4h1v1h-1zM453 263.4h1v1h-1zM460 259.4h1v1h-1zM457.5 272.8h1v1h-1zM460 272.4h1v1h-1zM454.5 270.8h1v1h-1zM455 259.4h1v1h-1zM455.5 259.4h1v1h-1zM464.5 268.8h1v1h-1zM459 272.8h1v1h-1zM464 263.8h1v1h-1z"/>
<path fill="#554696" d="M454.5 260.8h1v1h-1zM455 259.8h1v1h-1zM462.5 261.8h1v1h-1zM459.5 258.4h1v1h-1zM463.5 267.4h1v1h-1zM453 267.4h1v1h-1zM454 269.4h1v1h-1zM463 270.4h1v1h-1zM463.5 262.8h1v1h-1zM457 258.8h1v1h-1zM452.5 263.4h1v1h-1zM464 263.4h1v1h-1zM454.5 270.4h1v1h-1zM463.5 266.8h1v1h-1zM458.5 258.4h1v1h-1zM453 262.8h1v1h-1zM452.5 266.4h1v1h-1zM461.5 271.4h1v1h-1zM458.5 272.8h1v1h-1zM456.5 271.8h1v1h-1zM464 264.8h1v1h-1zM452.5 266.8h1v1h-1z"/>
<path fill="#554196" d="M455 259.8h1v1h-1zM463.5 265.4h1v1h-1zM463.5 264.4h1v1h-1zM457.5 259.4h1v1h-1zM456 271.4h1v1h-1zM453 267.4h1v1h-1zM462.5 261.4h1v1h-1zM463 261.4h1v1h-1z"/>
<path fill="#554191" d="M455 260.4h1v1h-1zM463 264.4h1v1h-1zM452 266.8h1v1h-1zM460.5 271.4h1v1h-1zM461.5 260.4h1v1h-1zM455 260.4h1v1h-1zM453 265.8h1v1h-1zM456 271.8h1v1h-1zM459 272.4h1v1h-1zM463 262.4h1v1h-1zM453 267.8h1v1h-1zM454 268.4h1v1h-1zM460.5 272.4h1v1h-1zM453 265.4h1v1h-1zM463.5 267.8h1v1h-1zM463.5 267.4h1v1h-1z"/>
<path fill="#504191" d="M452 264.8h1v1h-1zM463.5 267.8h1v1h-1zM453.5 263.4h1v1h-1zM456 271.8h1v1h-1zM455 260.4h1v1h-1zM454 261.8h1v1h-1zM461.5 270.4h1v1h-1zM463 262.4h1v1h-1zM459 258.8h1v1h-1zM454 269.4h1v1h-1zM463.5 263.8h1v1h-1zM462.5 271.4h1v1h-1zM454 269.4h1v1h-1zM462.5 261.8h1v1h-1zM463.5 265.8h1v1h-1zM459.5 271.8h1v1h-1zM462 270.4h1v1h-1zM459 272.4h1v1h-1zM458.5 271.8h1v1h-1zM463 262.8h1v1h-1zM457 271.4h1v1h-1zM455.5 259.8h1v1h-1zM455 270.4h1v1h-1zM453.5 266.8h1v1h-1zM453 262.8h1v1h-1zM461 271.8h1v1h-1zM462.5 261.8h1v1h-1zM453 265.4h1v1h-1zM453.5 266.4h1v1h-1zM463.5 264.4h1v1h-1zM457.5 259.4h1v1h-1zM455.5 271.4h1v1h-1zM460 259.4h1v1h-1zM463.5 262.8h1v1h-1zM457.5 259.8h1v1h-1z"/>
<path fill="#50418c" d="M462.5 263.4h1v1h-1zM460 271.8h1v1h-1zM462.5 268.8h1v1h-1zM456.5 270.8h1v1h-1zM459 271.4h1v1h-1zM462 261.8h1v1h-1zM453 266.8h1v1h-1zM457 259.4h1v1h-1zM453.5 267.8h1v1h-1zM457 271.8h1v1h-1zM453.5 268.4h1v1h-1zM461.5 270.4h1v1h-1zM457 271.8h1v1h-1zM461 271.4h1v1h-1zM461 271.4h1v1h-1zM457.5 271.8h1v1h-1zM453.5 262.8h1v1h-1zM463 266.8h1v1h-1zM462.5 269.4h1v1h-1zM463 261.8h1v1h-1z"/>
<path fill="#4b418c" d="M457.5 259.8h1v1h-1zM454.5 260.8h1v1h-1zM454.5 269.4h1v1h-1zM455 260.8h1v1h-1zM456 270.4h1v1h-1zM461 259.8h1v1h-1zM455 269.8h1v1h-1zM461 260.8h1v1h-1zM454.5 269.4h1v1h-1zM462 261.4h1v1h-1zM462 269.4h1v1h-1zM453.5 266.8h1v1h-1zM460 260.4h1v1h-1zM462.5 263.4h1v1h-1zM462 262.4h1v1h-1zM457 259.8h1v1h-1zM453 265.4h1v1h-1zM456 259.8h1v1h-1zM456 270.8h1v1h-1zM454.5 269.4h1v1h-1zM453 264.4h1v1h-1zM458 259.4h1v1h-1z"/>
<path fill="#4b4187" d="M463 265.4h1v1h-1zM457 259.8h1v1h-1zM454 264.8h1v1h-1zM456.5 271.4h1v1h-1zM462 268.4h1v1h-1zM458.5 271.8h1v1h-1zM455.5 270.4h1v1h-1zM457 271.4h1v1h-1zM460.5 270.4h1v1h-1zM457 270.8h1v1h-1zM462 267.8h1v1h-1zM458.5 259.8h1v1h-1zM455 261.4h1v1h-1zM455.5 260.4h1v1h-1zM456 270.8h1v1h-1zM462.5 262.8h1v1h-1zM457 259.4h1v1h-1zM457.5 259.8h1v1h-1zM460 271.4h1v1h-1zM457.5 271.4h1v1h-1zM459.5 270.8h1v1h-1zM455 268.8h1v1h-1zM460 270.8h1v1h-1z"/>
<path fill="#464187" d="M453.5 263.8h1v1h-1zM463 266.8h1v1h-1zM453.5 264.8h1v1h-1zM460 259.8h1v1h-1zM459.5 270.8h1v1h-1zM454 265.8h1v1h-1zM455.5 269.8h1v1h-1zM454 265.4h1v1h-1zM457 270.8h1v1h-1zM462 262.4h1v1h-1zM453.5 266.8h1v1h-1zM460.5 269.8h1v1h-1zM460 260.4h1v1h-1zM458.5 270.8h1v1h-1z"/>
<path fill="#464182" d="M462.5 265.4h1v1h-1zM457 270.8h1v1h-1z"/>
<path fill="#463c82" d="M462 262.8h1v1h-1zM459.5 259.8h1v1h-1zM459.5 259.8h1v1h-1zM462.5 264.8h1v1h-1zM455 261.4h1v1h-1zM457.5 270.4h1v1h-1zM456.5 260.8h1v1h-1zM455.5 269.4h1v1h-1zM462.5 264.4h1v1h-1zM453.5 266.4h1v1h-1zM460 269.8h1v1h-1zM459.5 260.4h1v1h-1zM458 270.8h1v1h-1zM458 259.4h1v1h-1zM458 259.8h1v1h-1zM454 262.8h1v1h-1zM456 260.4h1v1h-1zM462 268.8h1v1h-1zM457.5 259.8h1v1h-1zM461.5 268.4h1v1h-1zM454 262.8h1v1h-1zM461.5 268.8h1v1h-1zM454 266.8h1v1h-1z"/>
<path fill="#413c82" d="M454.5 268.4h1v1h-1zM462 263.8h1v1h-1zM462 263.4h1v1h-1zM462 263.4h1v1h-1zM462 268.4h1v1h-1z"/>
<path fill="#413c7d" d="M461.5 268.8h1v1h-1zM458 260.4h1v1h-1zM458 260.4h1v1h-1zM462 264.8h1v1h-1zM457 269.8h1v1h-1zM454.5 266.4h1v1h-1zM462 263.8h1v1h-1zM456 269.4h1v1h-1zM454 263.4h1v1h-1zM454.5 263.4h1v1h-1zM458 270.8h1v1h-1zM457 270.4h1v1h-1zM459.5 270.8h1v1h-1zM461.5 265.8h1v1h-1zM456.5 260.8h1v1h-1zM462 264.4h1v1h-1zM461.5 266.8h1v1h-1zM454 263.4h1v1h-1zM455 268.4h1v1h-1zM461.5 261.8h1v1h-1zM454.5 267.4h1v1h-1zM455.5 268.8h1v1h-1zM462 267.4h1v1h-1zM454.5 266.4h1v1h-1zM459.5 269.8h1v1h-1zM454 263.4h1v1h-1zM462 268.4h1v1h-1zM461 268.8h1v1h-1zM459 260.4h1v1h-1zM462 265.8h1v1h-1zM455.5 269.4h1v1h-1zM458.5 260.4h1v1h-1zM458.5 259.8h1v1h-1zM458 270.4h1v1h-1zM457.5 269.8h1v1h-1zM455.5 269.4h1v1h-1zM454.5 263.8h1v1h-1zM462 265.4h1v1h-1zM461.5 262.8h1v1h-1zM458 260.4h1v1h-1zM455.5 268.8h1v1h-1z"/>
<path fill="#41417d" d="M454 263.8h1v1h-1zM461 261.8h1v1h-1zM461.5 266.4h1v1h-1zM454.5 266.4h1v1h-1zM456.5 260.8h1v1h-1z"/>
<path fill="#46417d" d="M457 260.4h1v1h-1zM458.5 260.4h1v1h-1zM461.5 267.8h1v1h-1zM454.5 267.4h1v1h-1zM458 270.8h1v1h-1zM456 260.8h1v1h-1zM455 262.4h1v1h-1z"/>
<path fill="#46467d" d="M462 264.8h1v1h-1zM461.5 262.4h1v1h-1zM454.5 266.4h1v1h-1zM460.5 261.8h1v1h-1zM454.5 266.4h1v1h-1zM456 261.4h1v1h-1zM455 267.8h1v1h-1zM461.5 262.4h1v1h-1zM457 269.8h1v1h-1zM456.5 261.4h1v1h-1zM459.5 269.8h1v1h-1zM460.5 269.4h1v1h-1zM456.5 260.8h1v1h-1zM457 269.8h1v1h-1zM462 265.4h1v1h-1zM455 267.4h1v1h-1zM461 261.8h1v1h-1z"/>
<path fill="#4b467d" d="M460.5 261.4h1v1h-1zM461.5 263.8h1v1h-1zM456 269.4h1v1h-1zM455 265.8h1v1h-1zM461.5 266.4h1v1h-1z"/>
<path fill="#4b4b7d" d="M454.5 264.8h1v1h-1zM455 266.4h1v1h-1zM460.5 261.8h1v1h-1zM460.5 261.8h1v1h-1zM461.5 266.8h1v1h-1zM459.5 269.4h1v1h-1zM462 265.8h1v1h-1z"/>
<path fill="#4b4b82" d="M456 261.8h1v1h-1zM462 264.8h1v1h-1zM456 261.4h1v1h-1zM456.5 260.8h1v1h-1zM455.5 261.4h1v1h-1zM460.5 268.8h1v1h-1zM457 260.8h1v1h-1zM454.5 266.4h1v1h-1z"/>
<path fill="#504b82" d="M458.5 269.8h1v1h-1zM457 269.8h1v1h-1zM462 264.4h1v1h-1zM461 262.4h1v1h-1zM461.5 268.4h1v1h-1zM460 260.8h1v1h-1zM458.5 260.4h1v1h-1z"/>
<path fill="#505082" d="M455.5 262.8h1v1h-1zM454.5 265.8h1v1h-1zM455.5 267.8h1v1h-1zM455 267.8h1v1h-1zM459 260.8h1v1h-1zM457 269.4h1v1h-1zM455.5 267.8h1v1h-1z"/>
<path fill="#505582" d="M455 263.4h1v1h-1z"/>
<path fill="#555582" d="M461.5 264.4h1v1h-1zM461.5 264.4h1v1h-1zM456 267.8h1v1h-1zM454.5 265.8h1v1h-1zM457 260.8h1v1h-1zM458.5 269.4h1v1h-1zM455.5 268.4h1v1h-1zM454.5 265.4h1v1h-1zM458 269.4h1v1h-1zM457 268.4h1v1h-1z"/>
<path fill="#555a82" d="M454.5 265.8h1v1h-1zM461.5 265.8h1v1h-1z"/>
<path fill="#5a5a82" d="M460 268.4h1v1h-1zM455 262.4h1v1h-1zM456.5 261.4h1v1h-1zM455 263.8h1v1h-1zM455 263.4h1v1h-1zM456.5 261.4h1v1h-1zM455.5 263.4h1v1h-1zM455 263.8h1v1h-1zM456 261.4h1v1h-1zM458.5 260.8h1v1h-1zM461 263.8h1v1h-1zM461 266.4h1v1h-1zM455.5 265.8h1v1h-1z"/>
<path fill="#5a5f82" d="M456.5 268.4h1v1h-1zM459 260.8h1v1h-1zM461 263.8h1v1h-1zM458.5 269.4h1v1h-1zM457.5 268.8h1v1h-1zM455.5 266.8h1v1h-1zM456.5 268.8h1v1h-1zM457 268.8h1v1h-1z"/>
<path fill="#5f5f82" d="M457.5 268.8h1v1h-1z"/>
<path fill="#5f5f87" d="M460.5 268.4h1v1h-1zM456 261.8h1v1h-1zM455 263.4h1v1h-1zM457.5 267.8h1v1h-1zM460 261.8h1v1h-1zM455.5 262.8h1v1h-1z"/>
<path fill="#5f6487" d="M457 268.4h1v1h-1zM458.5 268.8h1v1h-1zM461 263.4h1v1h-1zM457 267.8h1v1h-1zM457.5 261.4h1v1h-1zM455.5 262.8h1v1h-1zM460.5 267.4h1v1h-1zM455.5 263.8h1v1h-1zM460 261.8h1v1h-1z"/>
<path fill="#646487" d="M456.5 261.8h1v1h-1zM455.5 263.4h1v1h-1zM460.5 267.8h1v1h-1z"/>
<path fill="#646987" d="M456 262.4h1v1h-1zM457.5 261.4h1v1h-1zM455 264.4h1v1h-1zM456 268.4h1v1h-1zM459.5 267.8h1v1h-1zM456.5 267.8h1v1h-1zM460 268.4h1v1h-1zM458 268.4h1v1h-1z"/>
<path fill="#696e82" d="M457.5 261.4h1v1h-1zM461 263.8h1v1h-1zM460.5 266.8h1v1h-1zM455 266.8h1v1h-1zM458.5 268.8h1v1h-1zM457.5 268.8h1v1h-1zM460 267.8h1v1h-1zM461 264.8h1v1h-1zM455.5 263.4h1v1h-1zM455 263.4h1v1h-1zM460.5 266.8h1v1h-1z"/>
<path fill="#6e7382" d="M460.5 262.8h1v1h-1zM455.5 264.4h1v1h-1zM456 262.8h1v1h-1zM456 262.4h1v1h-1zM461 266.4h1v1h-1zM457.5 268.4h1v1h-1zM457.5 262.4h1v1h-1zM461 263.4h1v1h-1z"/>
<path fill="#737882" d="M460.5 263.4h1v1h-1zM458.5 261.4h1v1h-1zM459 268.4h1v1h-1zM457 261.8h1v1h-1zM459.5 267.4h1v1h-1zM459 268.4h1v1h-1z"/>
<path fill="#73787d" d="M461 265.4h1v1h-1z"/>
<path fill="#737d7d" d="M460 266.4h1v1h-1zM459.5 268.4h1v1h-1z"/>
<path fill="#787d7d" d="M461 265.8h1v1h-1zM461 264.4h1v1h-1zM460.5 266.4h1v1h-1z"/>
<path fill="#78827d" d="M455 265.8h1v1h-1z"/>
<path fill="#7d827d" d="M457.5 267.8h1v1h-1zM457.5 267.8h1v1h-1zM460.5 267.4h1v1h-1zM458.5 267.8h1v1h-1z"/>
<path fill="#7d877d" d="M459.5 262.4h1v1h-1zM458 267.8h1v1h-1zM458.5 268.8h1v1h-1z"/>
<path fill="#82877d" d="M459.5 267.8h1v1h-1zM460 266.8h1v1h-1zM457 262.4h1v1h-1zM460 267.4h1v1h-1zM459 261.8h1v1h-1z"/>
<path fill="#828c78" d="M460 263.4h1v1h-1zM458.5 268.4h1v1h-1zM460.5 264.8h1v1h-1z"/>
<path fill="#878c78" d="M458.5 268.4h1v1h-1zM459.5 267.4h1v1h-1zM460.5 265.4h1v1h-1zM459 267.4h1v1h-1zM460 265.8h1v1h-1z"/>
<path fill="#879178" d="M460 263.4h1v1h-1zM459 267.8h1v1h-1zM459 267.8h1v1h-1zM457.5 261.8h1v1h-1zM458.5 267.8h1v1h-1z"/>
<path fill="#8c9178" d="M458.5 261.8h1v1h-1zM456 264.8h1v1h-1zM455.5 266.4h1v1h-1zM456 263.8h1v1h-1zM458.5 262.4h1v1h-1zM456 263.4h1v1h-1z"/>
<path fill="#8c9678" d="M456 266.4h1v1h-1z"/>
<path fill="#919673" d="M460.5 264.8h1v1h-1zM456 263.4h1v1h-1zM458.5 262.4h1v1h-1zM459 262.4h1v1h-1zM457 261.8h1v1h-1zM456 263.4h1v1h-1zM459 267.4h1v1h-1zM457.5 267.8h1v1h-1z"/>
<path fill="#919b73" d="M457 267.4h1v1h-1z"/>
<path fill="#969b73" d="M460 265.4h1v1h-1zM460 263.8h1v1h-1zM460.5 265.8h1v1h-1zM456 263.8h1v1h-1zM456.5 262.8h1v1h-1zM456 266.8h1v1h-1zM460 266.8h1v1h-1zM460 263.8h1v1h-1zM460 265.4h1v1h-1zM460 266.8h1v1h-1zM456.5 266.8h1v1h-1z"/>
<path fill="#9ba073" d="M457.5 267.4h1v1h-1zM459.5 265.4h1v1h-1zM459.5 262.4h1v1h-1zM459.5 266.8h1v1h-1zM460 266.8h1v1h-1zM456 266.4h1v1h-1zM458.5 262.4h1v1h-1z"/>
<path fill="#9ba06e" d="M460 263.4h1v1h-1zM456.5 266.8h1v1h-1zM456 263.4h1v1h-1z"/>
<path fill="#a0a06e" d="M456.5 264.8h1v1h-1zM456.5 263.4h1v1h-1zM457 262.8h1v1h-1zM459 262.4h1v1h-1z"/>
<path fill="#a0a56e" d="M460 264.8h1v1h-1zM458 262.4h1v1h-1z"/>
<path fill="#a5a56e" d="M456 264.4h1v1h-1zM456 264.8h1v1h-1zM457.5 266.8h1v1h-1zM459 267.4h1v1h-1z"/>
<path fill="#a5aa6e" d="M456 263.8h1v1h-1z"/>
<path fill="#aaaa69" d="M459 262.8h1v1h-1zM457 262.8h1v1h-1zM457 266.8h1v1h-1zM457 266.8h1v1h-1zM460 264.4h1v1h-1z"/>
<path fill="#afaf69" d="M457 266.4h1v1h-1zM457 262.8h1v1h-1zM457.5 267.4h1v1h-1z"/>
<path fill="#b4af69" d="M457 266.8h1v1h-1z"/>
<path fill="#b4b469" d="M456.5 263.8h1v1h-1z"/>
<path fill="#b4b464" d="M458 266.4h1v1h-1z"/>
<path fill="#b4af64" d="M458 266.8h1v1h-1zM460 265.8h1v1h-1zM459.5 262.8h1v1h-1z"/>
<path fill="#b9af64" d="M459 262.8h1v1h-1zM459 262.4h1v1h-1zM456.5 266.4h1v1h-1z"/>
<path fill="#b9af5f" d="M459 262.4h1v1h-1zM456.5 263.8h1v1h-1zM457.5 266.4h1v1h-1zM457 263.4h1v1h-1z"/>
<path fill="#beaf5f" d="M456.5 262.8h1v1h-1zM456.5 265.8h1v1h-1zM457 266.4h1v1h-1zM459 266.8h1v1h-1zM456.5 263.8h1v1h-1zM458.5 267.4h1v1h-1zM459.5 265.4h1v1h-1z"/>
<path fill="#beaf5a" d="M456.5 264.8h1v1h-1zM459.5 266.8h1v1h-1zM456.5 265.8h1v1h-1z"/>
<path fill="#c3af5a" d="M457.5 266.4h1v1h-1z"/>
<path fill="#c3aa55" d="M458.5 264.4h1v1h-1zM459 266.8h1v1h-1zM457.5 266.4h1v1h-1zM457 263.4h1v1h-1zM457 265.8h1v1h-1zM456.5 264.4h1v1h-1zM459 266.4h1v1h-1z"/>
<path fill="#c8aa50" d="M458 262.8h1v1h-1zM456.5 264.8h1v1h-1zM456.5 265.4h1v1h-1zM456.5 263.4h1v1h-1zM459.5 264.8h1v1h-1zM458 263.8h1v1h-1zM459 263.4h1v1h-1z"/>
<path fill="#c8aa4b" d="M458 266.4h1v1h-1zM456.5 264.8h1v1h-1zM457 265.4h1v1h-1z"/>
<path fill="#cdaa4b" d="M457 265.8h1v1h-1zM459.5 266.8h1v1h-1zM460 263.4h1v1h-1zM456.5 264.4h1v1h-1z"/>
<path fill="#cda546" d="M457.5 262.8h1v1h-1zM460 264.8h1v1h-1z"/>
<path fill="#d2a546" d="M458 262.8h1v1h-1zM458 263.4h1v1h-1zM457.5 266.4h1v1h-1zM457 265.8h1v1h-1z"/>
<path fill="#d2a541" d="M458 265.8h1v1h-1zM459 264.4h1v1h-1z"/>
<path fill="#d2a041" d="M457 263.8h1v1h-1zM459 265.4h1v1h-1zM459.5 265.4h1v1h-1z"/>
<path fill="#cda041" d="M457 263.4h1v1h-1zM458 265.8h1v1h-1zM458.5 263.8h1v1h-1zM457 264.8h1v1h-1zM459 265.8h1v1h-1z"/>
<path fill="#cd9b3c" d="M458 262.8h1v1h-1zM457 264.8h1v1h-1zM459 265.4h1v1h-1zM457 263.8h1v1h-1zM459.5 265.4h1v1h-1zM458.5 265.8h1v1h-1zM457 264.8h1v1h-1zM457 265.4h1v1h-1zM458.5 263.8h1v1h-1zM457 263.8h1v1h-1z"/>
<path fill="#c8963c" d="M458 264.4h1v1h-1zM459 263.8h1v1h-1zM458.5 263.4h1v1h-1zM458.5 263.4h1v1h-1zM457.5 264.8h1v1h-1zM457.5 265.4h1v1h-1zM457.5 266.4h1v1h-1z"/>
<path fill="#c89137" d="M457.5 263.8h1v1h-1zM458 265.8h1v1h-1zM458 264.4h1v1h-1z"/>
<path fill="#c39137" d="M457.5 262.8h1v1h-1zM457 263.8h1v1h-1z"/>
<path fill="#c38c32" d="M458.5 263.8h1v1h-1z"/>
<path fill="#c38732" d="M458 265.4h1v1h-1zM458 265.4h1v1h-1z"/>
<path fill="#be8732" d="M459 264.8h1v1h-1zM458.5 264.4h1v1h-1z"/>
<path fill="#be8232" d="M457.5 264.8h1v1h-1z"/>
<path fill="#be7d2d" d="M457.5 265.4h1v1h-1z"/>
<path fill="#b97d2d" d="M458 264.8h1v1h-1zM458.5 264.4h1v1h-1zM457.5 265.4h1v1h-1zM457.5 265.4h1v1h-1zM458.5 264.4h1v1h-1zM458 265.4h1v1h-1z"/>
</g>
<path d="M440.60 189.85V311.85M387.50 274.50H512.30" stroke="#a46c7e" stroke-width="0.9" fill="none"/>
<rect x="387.50" y="189.85" width="124.80" height="122.00" fill="none" stroke="#111" stroke-width="1.4"/>
<path d="M387.50 311.85v3M387.50 311.85h-3M396.89 311.85v1.7M387.50 302.67h-1.7M402.39 311.85v1.7M387.50 297.30h-1.7M406.28 311.85v1.7M387.50 293.49h-1.7M409.31 311.85v2.4M387.50 290.53h-2.4M411.78 311.85v1.7M387.50 288.12h-1.7M413.87 311.85v1.7M387.50 286.07h-1.7M415.68 311.85v1.7M387.50 284.31h-1.7M417.27 311.85v1.7M387.50 282.75h-1.7M418.70 311.85v3M387.50 281.35h-3M428.09 311.85v1.7M387.50 272.17h-1.7M433.59 311.85v1.7M387.50 266.80h-1.7M437.48 311.85v1.7M387.50 262.99h-1.7M440.51 311.85v2.4M387.50 260.03h-2.4M442.98 311.85v1.7M387.50 257.62h-1.7M445.07 311.85v1.7M387.50 255.57h-1.7M446.88 311.85v1.7M387.50 253.81h-1.7M448.47 311.85v1.7M387.50 252.25h-1.7M449.90 311.85v3M387.50 250.85h-3M459.29 311.85v1.7M387.50 241.67h-1.7M464.79 311.85v1.7M387.50 236.30h-1.7M468.68 311.85v1.7M387.50 232.49h-1.7M471.71 311.85v2.4M387.50 229.53h-2.4M474.18 311.85v1.7M387.50 227.12h-1.7M476.27 311.85v1.7M387.50 225.07h-1.7M478.08 311.85v1.7M387.50 223.31h-1.7M479.67 311.85v1.7M387.50 221.75h-1.7M481.10 311.85v3M387.50 220.35h-3M490.49 311.85v1.7M387.50 211.17h-1.7M495.99 311.85v1.7M387.50 205.80h-1.7M499.88 311.85v1.7M387.50 201.99h-1.7M502.91 311.85v2.4M387.50 199.03h-2.4M505.38 311.85v1.7M387.50 196.62h-1.7M507.47 311.85v1.7M387.50 194.57h-1.7M509.28 311.85v1.7M387.50 192.81h-1.7M510.87 311.85v1.7M387.50 191.25h-1.7M512.30 311.85v3M387.50 189.85h-3" stroke="#111" stroke-width="0.9" fill="none"/>
<text class="k" x="386.55" y="326.95" text-anchor="middle">10<tspan class="s" dy="-3.3">0</tspan></text>
<text class="k" x="382.90" y="315.95" text-anchor="end">10<tspan class="s" dy="-3.3">0</tspan></text>
<text class="k" x="417.25" y="326.95" text-anchor="middle">10<tspan class="s" dy="-3.3">1</tspan></text>
<text class="k" x="382.90" y="285.45" text-anchor="end">10<tspan class="s" dy="-3.3">1</tspan></text>
<text class="k" x="447.05" y="326.95" text-anchor="middle">10<tspan class="s" dy="-3.3">2</tspan></text>
<text class="k" x="382.90" y="254.95" text-anchor="end">10<tspan class="s" dy="-3.3">2</tspan></text>
<text class="k" x="479.65" y="326.95" text-anchor="middle">10<tspan class="s" dy="-3.3">3</tspan></text>
<text class="k" x="382.90" y="224.45" text-anchor="end">10<tspan class="s" dy="-3.3">3</tspan></text>
<text class="k" x="509.35" y="326.95" text-anchor="middle">10<tspan class="s" dy="-3.3">4</tspan></text>
<text class="k" x="382.90" y="193.95" text-anchor="end">10<tspan class="s" dy="-3.3">4</tspan></text>
<text class="t" x="446.30" y="182.65" text-anchor="middle">42 days</text>
<text class="q" x="390.90" y="199.65">0.86</text>
<text class="q" x="508.70" y="199.65" text-anchor="end">89.4</text>
<text class="q" x="390.90" y="308.15">5.13</text>
<text class="q" x="508.70" y="308.15" text-anchor="end">4.59</text>
<text class="b" x="474.40" y="229.25" text-anchor="middle">2.9%</text>
<text class="i" x="474.40" y="242.05" text-anchor="middle">Inhibition</text>
<path d="M19.5 345.5V24M19.5 345.5H512" stroke="#111" stroke-width="1.5" fill="none"/>
<path d="M19.5 19.3L16.2 27.5L19.5 25.8L22.8 27.5Z" fill="#111"/>
<path d="M517.5 345.5L509.3 342.2L511 345.5L509.3 348.8Z" fill="#111"/>
<text class="t" x="274.5" y="360.6" text-anchor="middle">CD8-FITC</text>
<text class="t" transform="translate(12.7 172.9) rotate(-90)" text-anchor="middle" style="font-size:12.6px">HuMik-β1-PE (anti-CD122)</text>
</svg></body></html>
